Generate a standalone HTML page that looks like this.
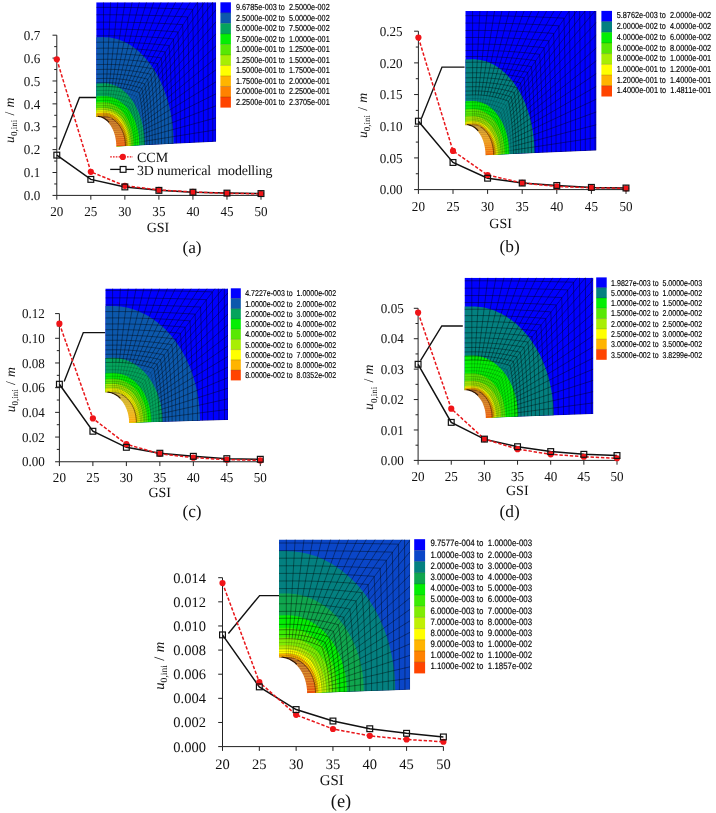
<!DOCTYPE html>
<html><head><meta charset="utf-8"><title>Figure</title>
<style>html,body{margin:0;padding:0;background:#fff}svg{display:block}</style></head><body>
<svg width="716" height="813" viewBox="0 0 716 813" text-rendering="geometricPrecision">
<rect width="716" height="813" fill="#fff"/>
<g>
<text transform="translate(40.2 200.13) scale(0.955 1)" text-anchor="end" font-family='"Liberation Serif", "Times New Roman", serif' font-size="13.7" fill="#111">0.0</text>
<text transform="translate(40.2 177.25) scale(0.955 1)" text-anchor="end" font-family='"Liberation Serif", "Times New Roman", serif' font-size="13.7" fill="#111">0.1</text>
<text transform="translate(40.2 154.36) scale(0.955 1)" text-anchor="end" font-family='"Liberation Serif", "Times New Roman", serif' font-size="13.7" fill="#111">0.2</text>
<text transform="translate(40.2 131.48) scale(0.955 1)" text-anchor="end" font-family='"Liberation Serif", "Times New Roman", serif' font-size="13.7" fill="#111">0.3</text>
<text transform="translate(40.2 108.59) scale(0.955 1)" text-anchor="end" font-family='"Liberation Serif", "Times New Roman", serif' font-size="13.7" fill="#111">0.4</text>
<text transform="translate(40.2 85.71) scale(0.955 1)" text-anchor="end" font-family='"Liberation Serif", "Times New Roman", serif' font-size="13.7" fill="#111">0.5</text>
<text transform="translate(40.2 62.82) scale(0.955 1)" text-anchor="end" font-family='"Liberation Serif", "Times New Roman", serif' font-size="13.7" fill="#111">0.6</text>
<text transform="translate(40.2 39.93) scale(0.955 1)" text-anchor="end" font-family='"Liberation Serif", "Times New Roman", serif' font-size="13.7" fill="#111">0.7</text>
<text transform="translate(56.8 215.5) scale(0.955 1)" text-anchor="middle" font-family='"Liberation Serif", "Times New Roman", serif' font-size="13.7" fill="#111">20</text>
<text transform="translate(90.83 215.5) scale(0.955 1)" text-anchor="middle" font-family='"Liberation Serif", "Times New Roman", serif' font-size="13.7" fill="#111">25</text>
<text transform="translate(124.87 215.5) scale(0.955 1)" text-anchor="middle" font-family='"Liberation Serif", "Times New Roman", serif' font-size="13.7" fill="#111">30</text>
<text transform="translate(158.9 215.5) scale(0.955 1)" text-anchor="middle" font-family='"Liberation Serif", "Times New Roman", serif' font-size="13.7" fill="#111">35</text>
<text transform="translate(192.93 215.5) scale(0.955 1)" text-anchor="middle" font-family='"Liberation Serif", "Times New Roman", serif' font-size="13.7" fill="#111">40</text>
<text transform="translate(226.97 215.5) scale(0.955 1)" text-anchor="middle" font-family='"Liberation Serif", "Times New Roman", serif' font-size="13.7" fill="#111">45</text>
<text transform="translate(261 215.5) scale(0.955 1)" text-anchor="middle" font-family='"Liberation Serif", "Times New Roman", serif' font-size="13.7" fill="#111">50</text>
<path d="M52.5 195.4H56.8M54.2 183.96H56.8M52.5 172.51H56.8M54.2 161.07H56.8M52.5 149.63H56.8M54.2 138.19H56.8M52.5 126.74H56.8M54.2 115.3H56.8M52.5 103.86H56.8M54.2 92.41H56.8M52.5 80.97H56.8M54.2 69.53H56.8M52.5 58.09H56.8M54.2 46.64H56.8M52.5 35.2H56.8M56.8 195.4V199.7M90.83 195.4V199.7M124.87 195.4V199.7M158.9 195.4V199.7M192.93 195.4V199.7M226.97 195.4V199.7M261 195.4V199.7M56.8 35.2V195.4H261" fill="none" stroke="#222" stroke-width="1"/>
<text x="158" y="232.3" text-anchor="middle" font-family='"Liberation Serif", "Times New Roman", serif' font-size="14.04" fill="#111">GSI</text>
<text transform="translate(13.8 120.3) rotate(-90)" text-anchor="middle" font-family='"Liberation Serif", "Times New Roman", serif' font-size="13.7" fill="#111" word-spacing="0.8" xml:space="preserve"><tspan font-style="italic">u</tspan><tspan font-size="9.04" dy="3.6">0,ini</tspan><tspan dy="-3.6"> / </tspan><tspan font-style="italic">m</tspan></text>
<text x="192" y="252.5" text-anchor="middle" font-family='"Liberation Serif", "Times New Roman", serif' font-size="17.33" fill="#111">(a)</text>
<path d="M59 149.82L79.5 97.5H96.2" fill="none" stroke="#111" stroke-width="1.4" stroke-linejoin="miter"/>
<path d="M56.8 155.12L90.83 179.38L124.87 186.93L158.9 190.37L192.93 192.2L226.97 193.11L261 193.57" fill="none" stroke="#111" stroke-width="1.5"/>
<path d="M56.8 59.23L90.83 171.83L124.87 185.79L158.9 189.91L192.93 191.97L226.97 193.34L261 193.8" fill="none" stroke="#e8161a" stroke-width="1.5" stroke-dasharray="3.4 1.8"/>
<circle cx="56.8" cy="59.23" r="3.1" fill="#f01418"/>
<circle cx="90.83" cy="171.83" r="3.1" fill="#f01418"/>
<circle cx="124.87" cy="185.79" r="3.1" fill="#f01418"/>
<circle cx="158.9" cy="189.91" r="3.1" fill="#f01418"/>
<circle cx="192.93" cy="191.97" r="3.1" fill="#f01418"/>
<circle cx="226.97" cy="193.34" r="3.1" fill="#f01418"/>
<circle cx="261" cy="193.8" r="3.1" fill="#f01418"/>
<rect x="53.9" y="152.22" width="5.8" height="5.8" fill="none" stroke="#111" stroke-width="1.2"/>
<rect x="87.93" y="176.48" width="5.8" height="5.8" fill="none" stroke="#111" stroke-width="1.2"/>
<rect x="121.97" y="184.03" width="5.8" height="5.8" fill="none" stroke="#111" stroke-width="1.2"/>
<rect x="156" y="187.47" width="5.8" height="5.8" fill="none" stroke="#111" stroke-width="1.2"/>
<rect x="190.03" y="189.3" width="5.8" height="5.8" fill="none" stroke="#111" stroke-width="1.2"/>
<rect x="224.07" y="190.21" width="5.8" height="5.8" fill="none" stroke="#111" stroke-width="1.2"/>
<rect x="258.1" y="190.67" width="5.8" height="5.8" fill="none" stroke="#111" stroke-width="1.2"/>
<clipPath id="clip0"><polygon points="96.2,147.45 216.1,141.8 216.1,2.3 96.2,2.3"/></clipPath>
<g clip-path="url(#clip0)">
<polygon points="96.2,147.45 216.1,141.8 216.1,2.3 96.2,2.3" fill="#0000ff"/>
<polygon points="96.2,147.45 173.7,143.8 173.66,140.28 173.55,136.78 173.36,133.28 173.1,129.8 172.76,126.33 172.35,122.88 171.87,119.46 171.31,116.07 170.68,112.71 169.97,109.38 169.2,106.09 168.36,102.85 167.44,99.64 166.46,96.49 165.41,93.38 164.29,90.33 163.11,87.34 161.87,84.41 160.56,81.54 159.19,78.74 157.77,76 156.28,73.34 154.74,70.76 153.14,68.25 151.49,65.82 149.79,63.48 148.03,61.22 146.24,59.05 144.39,56.96 142.5,54.98 140.57,53.08 138.6,51.29 136.59,49.59 134.55,47.99 132.47,46.5 130.36,45.11 128.23,43.83 126.07,42.66 123.88,41.59 121.67,40.64 119.44,39.8 117.2,39.07 114.94,38.45 112.66,37.95 110.38,37.57 108.09,37.3 105.8,37.15 103.5,37.12 96.2,37.2" fill="#0c58ac"/>
<polygon points="96.2,147.45 144.7,145.16 144.68,143.1 144.61,141.05 144.5,138.99 144.35,136.95 144.15,134.92 143.91,132.9 143.62,130.89 143.3,128.91 142.93,126.94 142.51,124.99 142.06,123.06 141.56,121.16 141.03,119.29 140.45,117.44 139.84,115.63 139.18,113.85 138.49,112.1 137.76,110.39 136.99,108.71 136.19,107.08 135.35,105.49 134.48,103.94 133.57,102.44 132.63,100.98 131.66,99.57 130.67,98.21 129.64,96.9 128.58,95.64 127.5,94.44 126.39,93.29 125.26,92.2 124.1,91.17 122.92,90.19 121.72,89.28 120.5,88.42 119.27,87.63 118.01,86.9 116.74,86.24 115.46,85.63 114.16,85.1 112.86,84.63 111.54,84.22 110.21,83.88 108.88,83.61 107.54,83.41 106.19,83.27 104.85,83.21 103.5,83.21 96.2,83.4" fill="#04a45c"/>
<polygon points="96.2,147.45 139.4,145.41 139.38,143.77 139.32,142.13 139.23,140.49 139.09,138.86 138.92,137.24 138.71,135.62 138.46,134.03 138.18,132.44 137.85,130.87 137.49,129.31 137.1,127.78 136.67,126.26 136.2,124.77 135.7,123.3 135.16,121.85 134.59,120.43 133.99,119.04 133.35,117.68 132.68,116.35 131.98,115.05 131.25,113.78 130.49,112.55 129.7,111.35 128.89,110.2 128.04,109.08 127.17,108 126.27,106.96 125.35,105.96 124.41,105 123.44,104.1 122.46,103.23 121.45,102.41 120.42,101.64 119.38,100.92 118.32,100.24 117.24,99.62 116.15,99.04 115.04,98.52 113.92,98.04 112.79,97.62 111.65,97.25 110.5,96.94 109.35,96.68 108.19,96.47 107.02,96.31 105.85,96.21 104.67,96.17 103.5,96.18 96.2,96.4" fill="#04ee04"/>
<polygon points="96.2,147.45 133.7,145.68 133.68,144.23 133.64,142.79 133.55,141.35 133.44,139.91 133.3,138.48 133.12,137.07 132.91,135.66 132.67,134.26 132.4,132.88 132.1,131.51 131.76,130.16 131.4,128.82 131.01,127.51 130.59,126.21 130.13,124.94 129.65,123.69 129.15,122.47 128.61,121.27 128.05,120.1 127.46,118.95 126.84,117.84 126.21,116.75 125.54,115.7 124.85,114.68 124.14,113.7 123.41,112.75 122.66,111.83 121.88,110.95 121.09,110.12 120.28,109.32 119.45,108.56 118.6,107.84 117.74,107.16 116.86,106.52 115.96,105.93 115.06,105.38 114.14,104.87 113.21,104.41 112.27,104 111.32,103.63 110.36,103.31 109.39,103.03 108.42,102.8 107.44,102.62 106.46,102.48 105.48,102.39 104.49,102.35 103.5,102.36 96.2,102.6" fill="#58e804"/>
<polygon points="96.2,147.45 131.2,145.8 131.19,144.53 131.14,143.26 131.07,141.99 130.96,140.73 130.83,139.48 130.67,138.23 130.48,137 130.26,135.77 130.01,134.56 129.73,133.36 129.42,132.17 129.09,131 128.73,129.85 128.34,128.71 127.93,127.6 127.49,126.5 127.02,125.43 126.53,124.37 126.02,123.35 125.48,122.34 124.91,121.37 124.33,120.42 123.72,119.49 123.09,118.6 122.44,117.74 121.76,116.91 121.07,116.11 120.36,115.34 119.63,114.6 118.89,113.9 118.13,113.24 117.35,112.61 116.56,112.02 115.75,111.46 114.93,110.94 114.1,110.46 113.26,110.02 112.4,109.62 111.54,109.26 110.67,108.94 109.79,108.66 108.9,108.42 108.01,108.22 107.12,108.06 106.22,107.94 105.31,107.87 104.41,107.84 103.5,107.85 96.2,108.1" fill="#a8ee04"/>
<polygon points="96.2,147.45 129.6,145.88 129.59,144.68 129.54,143.49 129.47,142.31 129.38,141.13 129.25,139.95 129.1,138.79 128.92,137.63 128.71,136.48 128.48,135.34 128.21,134.22 127.93,133.11 127.61,132.01 127.27,130.93 126.91,129.87 126.52,128.82 126.1,127.79 125.66,126.79 125.2,125.8 124.72,124.84 124.21,123.9 123.68,122.99 123.12,122.1 122.55,121.23 121.96,120.4 121.34,119.59 120.71,118.81 120.06,118.06 119.39,117.34 118.7,116.66 118,116 117.28,115.38 116.55,114.79 115.8,114.23 115.04,113.71 114.27,113.23 113.49,112.78 112.69,112.37 111.89,111.99 111.08,111.66 110.26,111.36 109.43,111.09 108.59,110.87 107.75,110.68 106.91,110.54 106.06,110.43 105.21,110.36 104.35,110.33 103.5,110.34 96.2,110.6" fill="#ffff00"/>
<polygon points="96.2,147.45 127.5,145.98 127.49,144.86 127.45,143.75 127.38,142.64 127.29,141.53 127.18,140.43 127.04,139.34 126.87,138.26 126.68,137.19 126.47,136.12 126.23,135.07 125.96,134.03 125.67,133 125.36,131.99 125.02,131 124.67,130.02 124.28,129.06 123.88,128.12 123.46,127.2 123.01,126.3 122.54,125.42 122.05,124.56 121.54,123.73 121.02,122.92 120.47,122.14 119.91,121.38 119.32,120.65 118.73,119.95 118.11,119.28 117.48,118.64 116.83,118.03 116.17,117.44 115.5,116.89 114.81,116.37 114.11,115.89 113.4,115.44 112.68,115.02 111.95,114.63 111.21,114.28 110.47,113.96 109.71,113.68 108.95,113.44 108.18,113.23 107.41,113.06 106.63,112.92 105.85,112.82 105.07,112.75 104.29,112.73 103.5,112.74 96.2,113" fill="#ffb400"/>
<linearGradient id="wg0" gradientUnits="userSpaceOnUse" x1="0" y1="116.9" x2="0" y2="147.45"><stop offset="0" stop-color="#a86028"/><stop offset="0.5" stop-color="#cc7024"/><stop offset="1" stop-color="#ec4c0c"/></linearGradient>
<polygon points="96.2,147.45 125.4,146.07 125.39,145.07 125.35,144.06 125.29,143.06 125.21,142.07 125.11,141.08 124.98,140.09 124.83,139.12 124.65,138.15 124.46,137.19 124.24,136.24 124,135.3 123.73,134.38 123.45,133.46 123.14,132.57 122.81,131.69 122.47,130.82 122.1,129.97 121.71,129.14 121.3,128.33 120.87,127.54 120.43,126.77 119.97,126.02 119.48,125.29 118.99,124.58 118.47,123.9 117.94,123.25 117.39,122.61 116.83,122.01 116.26,121.43 115.67,120.88 115.06,120.35 114.45,119.86 113.82,119.39 113.19,118.96 112.54,118.55 111.88,118.17 111.21,117.82 110.54,117.51 109.86,117.23 109.17,116.97 108.47,116.75 107.77,116.57 107.07,116.41 106.36,116.29 105.65,116.2 104.93,116.14 104.22,116.12 103.5,116.13 96.2,116.4" fill="url(#wg0)"/>
<path d="M144.3 145.18L216.1 141.8M144.28 141.29L216.1 129.79M144.19 137.39L216.1 117.77M144.06 133.51L216.1 105.76M143.87 129.65L216.1 93.75M143.63 125.8L216.1 81.73M143.33 121.97L216.1 69.72M142.98 118.17L216.1 57.71M142.59 114.4L216.1 45.69M142.14 110.66L216.1 33.68M141.65 106.96L216.1 21.67M141.11 103.3L216.1 9.65M140.52 99.69L216.1 -2.36M139.89 96.12L216.1 -14.37M139.23 92.6L216.1 -26.39M136.66 91.69L207.44 -26.47M134.05 90.84L198.78 -26.56M131.4 90.06L190.12 -26.64M128.72 89.35L181.45 -26.72M126 88.72L172.79 -26.81M123.25 88.16L164.13 -26.89M120.48 87.69L155.47 -26.98M117.68 87.29L146.81 -27.06M114.87 86.98L138.15 -27.14M112.04 86.75L129.48 -27.23M109.2 86.61L120.82 -27.31M106.35 86.56L112.16 -27.4M103.5 86.59L103.5 -27.48M144.3 145.18L144.28 141.29L144.19 137.39L144.06 133.51L143.87 129.65L143.63 125.8L143.33 121.97L142.98 118.17L142.59 114.4L142.14 110.66L141.65 106.96L141.11 103.3L140.52 99.69L139.89 96.12L139.23 92.6L136.66 91.69L134.05 90.84L131.4 90.06L128.72 89.35L126 88.72L123.25 88.16L120.48 87.69L117.68 87.29L114.87 86.98L112.04 86.75L109.2 86.61L106.35 86.56L103.5 86.59L96.2 86.79M146.81 145.07L146.78 140.88L146.7 136.7L146.57 132.52L146.39 128.37L146.15 124.23L145.87 120.11L145.53 116.01L145.15 111.95L144.72 107.92L144.24 103.92L143.72 99.96L143.16 96.04L142.55 92.17L141.91 88.35L139.13 87.47L136.31 86.66L133.45 85.91L130.56 85.24L127.63 84.63L124.68 84.1L121.7 83.64L118.7 83.27L115.68 82.97L112.65 82.76L109.61 82.62L106.55 82.58L103.5 82.61L96.2 82.81M149.45 144.94L149.42 140.45L149.34 135.96L149.22 131.49L149.04 127.02L148.82 122.58L148.54 118.15L148.22 113.75L147.85 109.37L147.44 105.03L146.98 100.72L146.48 96.44L145.93 92.21L145.35 88.02L144.73 83.87L141.73 83.04L138.68 82.26L135.61 81.55L132.49 80.91L129.35 80.33L126.18 79.82L122.98 79.39L119.77 79.03L116.54 78.75L113.29 78.55L110.03 78.43L106.77 78.38L103.5 78.42L96.2 78.6M152.22 144.81L152.2 140L152.13 135.19L152 130.39L151.84 125.61L151.62 120.84L151.36 116.09L151.05 111.36L150.7 106.66L150.3 101.99L149.86 97.35L149.38 92.75L148.86 88.18L148.3 83.66L147.71 79.18L144.47 78.38L141.19 77.64L137.88 76.97L134.53 76.35L131.16 75.8L127.76 75.32L124.34 74.91L120.9 74.57L117.44 74.31L113.96 74.12L110.48 74L106.99 73.97L103.5 74.01L96.2 74.18M155.15 144.67L155.12 139.52L155.05 134.38L154.94 129.24L154.78 124.12L154.57 119.01L154.32 113.92L154.03 108.86L153.69 103.81L153.31 98.8L152.89 93.81L152.43 88.86L151.94 83.95L151.4 79.07L150.84 74.24L147.35 73.49L143.82 72.79L140.27 72.15L136.68 71.56L133.07 71.04L129.43 70.59L125.76 70.2L122.08 69.88L118.39 69.63L114.68 69.46L110.96 69.35L107.23 69.32L103.5 69.37L96.2 69.52M158.23 144.53L158.2 139.02L158.14 133.53L158.03 128.04L157.88 122.56L157.68 117.1L157.44 111.65L157.16 106.22L156.84 100.82L156.48 95.45L156.08 90.1L155.65 84.78L155.18 79.5L154.67 74.26L154.13 69.05L150.38 68.34L146.6 67.68L142.79 67.08L138.94 66.53L135.07 66.04L131.18 65.61L127.26 65.25L123.33 64.95L119.38 64.71L115.42 64.55L111.45 64.45L107.48 64.43L103.5 64.47L96.2 64.62M161.47 144.37L161.45 138.5L161.39 132.63L161.28 126.77L161.14 120.92L160.95 115.08L160.73 109.26L160.46 103.46L160.16 97.68L159.82 91.92L159.45 86.19L159.04 80.49L158.59 74.83L158.11 69.19L157.61 63.6L153.58 62.93L149.52 62.32L145.44 61.75L141.32 61.23L137.19 60.78L133.02 60.37L128.84 60.03L124.65 59.75L120.43 59.54L116.21 59.38L111.98 59.3L107.74 59.28L103.5 59.32L96.2 59.46M164.88 144.21L164.86 137.95L164.81 131.69L164.71 125.43L164.57 119.19L164.4 112.96L164.19 106.75L163.94 100.55L163.66 94.37L163.34 88.22L162.99 82.09L162.6 75.99L162.19 69.92L161.74 63.88L161.26 57.87L156.95 57.25L152.6 56.68L148.23 56.15L143.83 55.67L139.41 55.24L134.97 54.87L130.51 54.55L126.03 54.29L121.54 54.09L117.04 53.95L112.53 53.87L108.02 53.85L103.5 53.9L96.2 54.02M168.48 144.04L168.46 137.37L168.41 130.7L168.32 124.03L168.19 117.38L168.03 110.74L167.83 104.11L167.6 97.49L167.34 90.9L167.04 84.33L166.72 77.78L166.36 71.25L165.97 64.76L165.55 58.29L165.11 51.86L160.49 51.28L155.84 50.75L151.17 50.26L146.47 49.82L141.75 49.42L137.02 49.08L132.26 48.78L127.49 48.54L122.71 48.36L117.91 48.23L113.11 48.16L108.31 48.14L103.5 48.18L96.2 48.29M172.26 143.87L172.25 136.76L172.2 129.66L172.12 122.56L172 115.47L171.85 108.4L171.67 101.33L171.46 94.28L171.22 87.25L170.94 80.24L170.64 73.25L170.31 66.28L169.96 59.34L169.57 52.42L169.16 45.54L164.22 45.01L159.26 44.52L154.27 44.07L149.25 43.67L144.22 43.3L139.17 42.99L134.11 42.72L129.03 42.5L123.93 42.33L118.83 42.21L113.73 42.14L108.61 42.13L103.5 42.17L96.2 42.26M176.25 143.68L176.24 136.12L176.19 128.56L176.12 121.02L176.01 113.47L175.88 105.94L175.71 98.42L175.52 90.91L175.3 83.42L175.05 75.95L174.78 68.49L174.48 61.06L174.15 53.65L173.8 46.26L173.43 38.9L168.15 38.43L162.85 37.98L157.53 37.57L152.18 37.2L146.82 36.87L141.44 36.59L136.05 36.34L130.64 36.14L125.23 35.98L119.8 35.87L114.37 35.81L108.94 35.8L103.5 35.83L96.2 35.91M180.45 143.48L180.44 135.45L180.4 127.42L180.33 119.39L180.23 111.37L180.11 103.36L179.97 95.36L179.79 87.37L179.6 79.4L179.38 71.44L179.13 63.5L178.86 55.58L178.57 47.68L178.26 39.8L177.93 31.94L172.29 31.51L166.64 31.11L160.96 30.74L155.27 30.41L149.56 30.11L143.83 29.85L138.09 29.63L132.35 29.45L126.59 29.31L120.82 29.21L115.05 29.15L109.28 29.14L103.5 29.16L96.2 29.23M184.87 143.27L184.86 134.74L184.82 126.21L184.76 117.68L184.68 109.17L184.57 100.65L184.45 92.15L184.3 83.66L184.12 75.18L183.93 66.71L183.71 58.26L183.48 49.82L183.22 41.4L182.95 33L182.66 24.62L176.65 24.24L170.62 23.89L164.58 23.57L158.51 23.27L152.44 23.01L146.35 22.78L140.25 22.58L134.14 22.41L128.02 22.29L121.9 22.19L115.77 22.14L109.63 22.12L103.5 22.14L96.2 22.19M189.52 143.05L189.51 134L189.48 124.95L189.43 115.9L189.36 106.85L189.27 97.81L189.16 88.78L189.03 79.76L188.88 70.75L188.72 61.75L188.53 52.76L188.33 43.79L188.12 34.83L187.88 25.89L187.64 16.96L181.23 16.63L174.81 16.33L168.37 16.04L161.93 15.79L155.47 15.55L148.99 15.35L142.51 15.17L136.02 15.03L129.53 14.91L123.03 14.82L116.52 14.77L110.01 14.75L103.5 14.76L96.2 14.79M194.16 142.83L194.15 133.26L194.13 123.68L194.09 114.11L194.03 104.55L193.96 94.98L193.87 85.43L193.76 75.88L193.64 66.34L193.5 56.81L193.35 47.29L193.19 37.78L193.01 28.28L192.82 18.8L192.61 9.33L185.81 9.04L179 8.78L172.17 8.54L165.34 8.32L158.49 8.11L151.64 7.94L144.78 7.78L137.91 7.65L131.03 7.54L124.15 7.46L117.27 7.41L110.39 7.38L103.5 7.38L96.2 7.39M198.81 142.61L198.8 132.52L198.78 122.43L198.75 112.33L198.7 102.25L198.65 92.16L198.57 82.08L198.49 72.01L198.4 61.94L198.29 51.88L198.17 41.83L198.04 31.78L197.9 21.75L197.75 11.73L197.59 1.71L190.39 1.48L183.19 1.26L175.97 1.05L168.75 0.86L161.52 0.69L154.29 0.54L147.04 0.4L139.79 0.28L132.54 0.18L125.28 0.1L118.02 0.05L110.76 0.01L103.5 -0.01L96.2 -0.01M203.46 142.4L203.45 131.78L203.44 121.17L203.41 110.56L203.38 99.95L203.34 89.35L203.28 78.75L203.22 68.15L203.15 57.56L203.07 46.97L202.99 36.39L202.89 25.81L202.79 15.24L202.68 4.68L202.56 -5.87L194.97 -6.06L187.38 -6.24L179.77 -6.42L172.17 -6.57L164.55 -6.72L156.93 -6.85L149.31 -6.97L141.68 -7.08L134.05 -7.17L126.41 -7.25L118.78 -7.31L111.14 -7.36L103.5 -7.39L96.2 -7.41M208.1 142.18L208.1 131.05L208.09 119.92L208.07 108.79L208.05 97.67L208.03 86.54L207.99 75.42L207.95 64.3L207.91 53.18L207.86 42.07L207.81 30.96L207.75 19.86L207.68 8.76L207.61 -2.34L207.54 -13.43L199.55 -13.58L191.57 -13.73L183.57 -13.86L175.58 -13.99L167.58 -14.11L159.58 -14.23L151.57 -14.33L143.56 -14.43L135.55 -14.52L127.54 -14.59L119.53 -14.66L111.51 -14.72L103.5 -14.77L96.2 -14.81M212.75 141.96L212.75 130.31L212.74 118.67L212.74 107.03L212.73 95.39L212.72 83.75L212.7 72.1L212.69 60.47L212.67 48.83L212.65 37.19L212.62 25.56L212.6 13.92L212.57 2.29L212.54 -9.34L212.51 -20.97L204.13 -21.08L195.76 -21.19L187.37 -21.29L178.99 -21.39L170.61 -21.49L162.22 -21.59L153.84 -21.68L145.45 -21.77L137.06 -21.85L128.67 -21.94L120.28 -22.01L111.89 -22.09L103.5 -22.15L96.2 -22.21M216.1 141.8L216.1 129.79L216.1 117.77L216.1 105.76L216.1 93.75L216.1 81.73L216.1 69.72L216.1 57.71L216.1 45.69L216.1 33.68L216.1 21.67L216.1 9.65L216.1 -2.36L216.1 -14.37L216.1 -26.39L207.44 -26.47L198.78 -26.56L190.12 -26.64L181.45 -26.72L172.79 -26.81L164.13 -26.89L155.47 -26.98L146.81 -27.06L138.15 -27.14L129.48 -27.23L120.82 -27.31L112.16 -27.4L103.5 -27.48L96.2 -27.55" fill="none" stroke="#000" stroke-opacity="0.66" stroke-width="0.6"/>
<path d="M125.4 146.07L144.3 145.18M125.37 144.38L144.28 141.29M125.26 142.69L144.19 137.39M125.09 141.02L144.06 133.51M124.85 139.37L143.87 129.65M124.54 137.73L143.63 125.8M124.17 136.13L143.33 121.97M123.73 134.57L142.98 118.17M123.23 133.04L142.59 114.4M122.67 131.55L142.14 110.66M122.04 130.11L141.65 106.96M121.36 128.73L141.11 103.3M120.62 127.4L140.52 99.69M119.83 126.14L139.89 96.12M118.99 124.93L139.23 92.6M118.02 123.72L136.66 91.69M117.01 122.58L134.05 90.84M115.94 121.54L131.4 90.06M114.83 120.59L128.72 89.35M113.68 119.73L126 88.72M112.49 118.97L123.25 88.16M111.27 118.32L120.48 87.69M110.02 117.76L117.68 87.29M108.74 117.32L114.87 86.98M107.45 116.98L112.04 86.75M106.14 116.75L109.2 86.61M104.82 116.63L106.35 86.56M103.5 116.63L103.5 86.59M125.4 146.07L125.37 144.38L125.26 142.69L125.09 141.02L124.85 139.37L124.54 137.73L124.17 136.13L123.73 134.57L123.23 133.04L122.67 131.55L122.04 130.11L121.36 128.73L120.62 127.4L119.83 126.14L118.99 124.93L118.02 123.72L117.01 122.58L115.94 121.54L114.83 120.59L113.68 119.73L112.49 118.97L111.27 118.32L110.02 117.76L108.74 117.32L107.45 116.98L106.14 116.75L104.82 116.63L103.5 116.63L96.2 116.9M126.09 146.04L126.06 144.27L125.95 142.5L125.78 140.74L125.55 139.01L125.24 137.3L124.87 135.61L124.44 133.96L123.94 132.35L123.38 130.78L122.76 129.26L122.08 127.8L121.35 126.38L120.56 125.03L119.73 123.75L118.7 122.54L117.63 121.42L116.51 120.38L115.34 119.44L114.13 118.59L112.88 117.84L111.6 117.19L110.3 116.65L108.96 116.21L107.62 115.87L106.25 115.65L104.88 115.54L103.5 115.53L96.2 115.8M126.86 146.01L126.83 144.14L126.73 142.28L126.56 140.43L126.32 138.61L126.02 136.81L125.66 135.03L125.22 133.29L124.73 131.59L124.18 129.93L123.56 128.31L122.89 126.75L122.16 125.24L121.38 123.8L120.55 122.41L119.47 121.22L118.33 120.11L117.14 119.09L115.91 118.16L114.63 117.32L113.32 116.58L111.98 115.94L110.61 115.4L109.22 114.96L107.8 114.64L106.38 114.42L104.94 114.3L103.5 114.3L96.2 114.57M127.73 145.96L127.7 144L127.6 142.04L127.43 140.09L127.2 138.16L126.9 136.26L126.53 134.38L126.11 132.53L125.62 130.73L125.07 128.96L124.46 127.25L123.8 125.58L123.08 123.97L122.3 122.41L121.48 120.92L120.32 119.75L119.11 118.65L117.85 117.64L116.54 116.72L115.2 115.89L113.82 115.16L112.4 114.53L110.96 114L109.5 113.57L108.01 113.25L106.52 113.03L105.01 112.93L103.5 112.93L96.2 113.19M128.7 145.92L128.67 143.84L128.57 141.76L128.4 139.7L128.17 137.66L127.88 135.64L127.52 133.65L127.09 131.69L126.61 129.77L126.07 127.89L125.47 126.05L124.81 124.27L124.1 122.54L123.33 120.87L122.52 119.26L121.28 118.1L119.98 117.02L118.64 116.02L117.25 115.11L115.83 114.3L114.37 113.58L112.87 112.95L111.35 112.43L109.81 112.01L108.25 111.7L106.67 111.48L105.09 111.38L103.5 111.38L96.2 111.64M129.79 145.87L129.76 143.66L129.66 141.46L129.49 139.27L129.27 137.1L128.97 134.95L128.62 132.83L128.2 130.74L127.72 128.69L127.19 126.68L126.59 124.72L125.94 122.8L125.24 120.94L124.49 119.13L123.68 117.39L122.35 116.25L120.96 115.18L119.53 114.2L118.05 113.31L116.54 112.51L114.99 111.8L113.4 111.19L111.8 110.68L110.16 110.26L108.51 109.96L106.85 109.75L105.18 109.65L103.5 109.66L96.2 109.91M131.01 145.81L130.97 143.46L130.88 141.12L130.71 138.78L130.49 136.47L130.2 134.18L129.85 131.92L129.44 129.68L128.97 127.49L128.44 125.33L127.86 123.22L127.22 121.16L126.52 119.15L125.78 117.19L124.99 115.3L123.55 114.18L122.06 113.13L120.52 112.17L118.95 111.3L117.33 110.51L115.68 109.81L114 109.21L112.29 108.71L110.56 108.31L108.81 108.01L107.05 107.81L105.28 107.71L103.5 107.72L96.2 107.97M132.37 145.75L132.34 143.24L132.24 140.73L132.08 138.24L131.86 135.77L131.58 133.32L131.23 130.89L130.83 128.5L130.37 126.14L129.85 123.82L129.27 121.55L128.64 119.32L127.96 117.15L127.23 115.03L126.45 112.97L124.89 111.86L123.29 110.84L121.64 109.9L119.95 109.04L118.22 108.27L116.46 107.59L114.66 107L112.84 106.51L111 106.12L109.14 105.83L107.27 105.64L105.39 105.54L103.5 105.56L96.2 105.8M133.9 145.67L133.86 142.99L133.77 140.3L133.61 137.64L133.4 134.98L133.12 132.35L132.78 129.75L132.38 127.17L131.93 124.63L131.42 122.13L130.85 119.68L130.23 117.26L129.56 114.9L128.85 112.6L128.08 110.35L126.4 109.27L124.67 108.27L122.89 107.35L121.07 106.52L119.21 105.76L117.33 105.1L115.41 104.53L113.46 104.05L111.5 103.67L109.51 103.39L107.52 103.2L105.51 103.12L103.5 103.13L96.2 103.37M135.61 145.59L135.57 142.71L135.48 139.82L135.33 136.96L135.12 134.1L134.85 131.27L134.51 128.47L134.13 125.69L133.68 122.95L133.18 120.24L132.63 117.58L132.02 114.96L131.37 112.4L130.66 109.88L129.91 107.42L128.08 106.38L126.21 105.4L124.29 104.51L122.33 103.69L120.33 102.96L118.3 102.31L116.24 101.76L114.16 101.29L112.05 100.92L109.93 100.65L107.79 100.47L105.65 100.39L103.5 100.41L96.2 100.65M137.52 145.5L137.49 142.39L137.4 139.29L137.25 136.2L137.05 133.12L136.78 130.07L136.46 127.03L136.08 124.03L135.64 121.06L135.15 118.13L134.61 115.24L134.02 112.39L133.38 109.59L132.69 106.84L131.96 104.15L129.97 103.13L127.93 102.19L125.85 101.32L123.73 100.53L121.58 99.82L119.39 99.19L117.17 98.66L114.93 98.21L112.67 97.85L110.39 97.59L108.1 97.42L105.8 97.35L103.5 97.37L96.2 97.6M139.67 145.4L139.64 142.04L139.55 138.69L139.41 135.35L139.2 132.02L138.94 128.71L138.63 125.43L138.26 122.18L137.84 118.95L137.36 115.77L136.84 112.62L136.26 109.51L135.64 106.45L134.97 103.45L134.26 100.49L132.09 99.51L129.87 98.59L127.61 97.75L125.31 96.99L122.98 96.3L120.61 95.7L118.22 95.18L115.8 94.75L113.37 94.41L110.91 94.16L108.45 94L105.98 93.94L103.5 93.96L96.2 94.18M141.92 145.3L141.9 141.67L141.81 138.06L141.67 134.45L141.48 130.86L141.22 127.29L140.92 123.74L140.56 120.22L140.15 116.73L139.69 113.28L139.18 109.86L138.62 106.49L138.02 103.16L137.37 99.87L136.68 96.64L134.31 95.7L131.9 94.81L129.45 94L126.97 93.27L124.45 92.61L121.9 92.03L119.32 91.53L116.72 91.12L114.1 90.79L111.46 90.55L108.81 90.4L106.16 90.34L103.5 90.37L96.2 90.58" fill="none" stroke="#000" stroke-opacity="0.34" stroke-width="0.5"/>
<path d="M116.25 144.34L125.34 143.92M116.09 142.18L125.18 141.76M115.83 140.02L124.89 139.61M115.46 137.87L124.49 137.47M114.97 135.72L123.96 135.33M114.36 133.58L123.29 133.2M113.61 131.44L122.47 131.07M112.7 129.31L121.47 128.95M111.6 127.18L120.28 126.83M110.27 125.07L118.83 124.72M108.63 122.96L117.05 122.63M106.55 120.86L114.78 120.55M103.66 118.8L111.63 118.5" fill="none" stroke="#ffd040" stroke-opacity="0.6" stroke-width="0.7"/>
<path d="M125.4 146.07L125.37 144.59L125.29 143.11L125.16 141.64L124.98 140.19L124.74 138.75L124.46 137.33L124.12 135.94L123.73 134.57L123.3 133.23L122.81 131.92L122.28 130.65L121.71 129.42L121.09 128.23L120.43 127.08L119.73 125.98L118.99 124.93L118.21 123.94L117.39 123L116.55 122.12L115.67 121.29L114.76 120.53L113.82 119.83L112.86 119.2L111.88 118.63" fill="none" stroke="#401800" stroke-opacity="0.55" stroke-width="0.9"/>
<path d="M108.57 122.03L107.77 121.2L106.93 120.43L106.08 119.73L105.19 119.09L104.29 118.52L103.37 118.02L102.43 117.58L101.48 117.22L100.52 116.93L99.55 116.71L98.57 116.56" fill="none" stroke="#180800" stroke-opacity="0.85" stroke-width="1.5" stroke-linecap="round"/>
</g>
<polygon points="95.2,148.95 116.3,148.95 116.3,146.5 116.28,145.31 116.24,144.12 116.16,142.94 116.05,141.77 115.91,140.6 115.74,139.44 115.55,138.3 115.32,137.17 115.06,136.05 114.77,134.95 114.45,133.88 114.11,132.82 113.74,131.78 113.34,130.77 112.91,129.78 112.46,128.82 111.98,127.89 111.48,126.99 110.96,126.12 110.41,125.28 109.84,124.47 109.25,123.7 108.64,122.97 108.01,122.27 107.37,121.61 106.7,121 106.02,120.42 105.33,119.88 104.62,119.39 103.89,118.93 103.16,118.53 102.41,118.16 101.66,117.84 100.89,117.57 100.12,117.34 99.34,117.16 98.56,117.02 97.78,116.94 96.99,116.89 96.2,116.9 95.2,116.9" fill="#fff"/>
<rect x="220.4" y="2.3" width="10.5" height="10.62" fill="#0000ff"/>
<text x="236" y="10.32" font-family='"Liberation Sans", Arial, sans-serif' font-size="8.7" fill="#000" stroke="#000" stroke-width="0.15" text-rendering="geometricPrecision" textLength="93.7" lengthAdjust="spacingAndGlyphs" xml:space="preserve">9.6785e-003 to  2.5000e-002</text>
<rect x="220.4" y="12.82" width="10.5" height="10.62" fill="#0c58ac"/>
<line x1="220.4" y1="12.82" x2="230.9" y2="12.82" stroke="#000" stroke-opacity="0.35" stroke-width="0.5"/>
<text x="236" y="20.84" font-family='"Liberation Sans", Arial, sans-serif' font-size="8.7" fill="#000" stroke="#000" stroke-width="0.15" text-rendering="geometricPrecision" textLength="93.7" lengthAdjust="spacingAndGlyphs" xml:space="preserve">2.5000e-002 to  5.0000e-002</text>
<rect x="220.4" y="23.34" width="10.5" height="10.62" fill="#04a45c"/>
<line x1="220.4" y1="23.34" x2="230.9" y2="23.34" stroke="#000" stroke-opacity="0.35" stroke-width="0.5"/>
<text x="236" y="31.36" font-family='"Liberation Sans", Arial, sans-serif' font-size="8.7" fill="#000" stroke="#000" stroke-width="0.15" text-rendering="geometricPrecision" textLength="93.7" lengthAdjust="spacingAndGlyphs" xml:space="preserve">5.0000e-002 to  7.5000e-002</text>
<rect x="220.4" y="33.86" width="10.5" height="10.62" fill="#04ee04"/>
<line x1="220.4" y1="33.86" x2="230.9" y2="33.86" stroke="#000" stroke-opacity="0.35" stroke-width="0.5"/>
<text x="236" y="41.88" font-family='"Liberation Sans", Arial, sans-serif' font-size="8.7" fill="#000" stroke="#000" stroke-width="0.15" text-rendering="geometricPrecision" textLength="93.7" lengthAdjust="spacingAndGlyphs" xml:space="preserve">7.5000e-002 to  1.0000e-001</text>
<rect x="220.4" y="44.38" width="10.5" height="10.62" fill="#58e804"/>
<line x1="220.4" y1="44.38" x2="230.9" y2="44.38" stroke="#000" stroke-opacity="0.35" stroke-width="0.5"/>
<text x="236" y="52.4" font-family='"Liberation Sans", Arial, sans-serif' font-size="8.7" fill="#000" stroke="#000" stroke-width="0.15" text-rendering="geometricPrecision" textLength="93.7" lengthAdjust="spacingAndGlyphs" xml:space="preserve">1.0000e-001 to  1.2500e-001</text>
<rect x="220.4" y="54.9" width="10.5" height="10.62" fill="#a8ee04"/>
<line x1="220.4" y1="54.9" x2="230.9" y2="54.9" stroke="#000" stroke-opacity="0.35" stroke-width="0.5"/>
<text x="236" y="62.92" font-family='"Liberation Sans", Arial, sans-serif' font-size="8.7" fill="#000" stroke="#000" stroke-width="0.15" text-rendering="geometricPrecision" textLength="93.7" lengthAdjust="spacingAndGlyphs" xml:space="preserve">1.2500e-001 to  1.5000e-001</text>
<rect x="220.4" y="65.42" width="10.5" height="10.62" fill="#ffff00"/>
<line x1="220.4" y1="65.42" x2="230.9" y2="65.42" stroke="#000" stroke-opacity="0.35" stroke-width="0.5"/>
<text x="236" y="73.44" font-family='"Liberation Sans", Arial, sans-serif' font-size="8.7" fill="#000" stroke="#000" stroke-width="0.15" text-rendering="geometricPrecision" textLength="93.7" lengthAdjust="spacingAndGlyphs" xml:space="preserve">1.5000e-001 to  1.7500e-001</text>
<rect x="220.4" y="75.94" width="10.5" height="10.62" fill="#ffb400"/>
<line x1="220.4" y1="75.94" x2="230.9" y2="75.94" stroke="#000" stroke-opacity="0.35" stroke-width="0.5"/>
<text x="236" y="83.96" font-family='"Liberation Sans", Arial, sans-serif' font-size="8.7" fill="#000" stroke="#000" stroke-width="0.15" text-rendering="geometricPrecision" textLength="93.7" lengthAdjust="spacingAndGlyphs" xml:space="preserve">1.7500e-001 to  2.0000e-001</text>
<rect x="220.4" y="86.46" width="10.5" height="10.62" fill="#ff8200"/>
<line x1="220.4" y1="86.46" x2="230.9" y2="86.46" stroke="#000" stroke-opacity="0.35" stroke-width="0.5"/>
<text x="236" y="94.48" font-family='"Liberation Sans", Arial, sans-serif' font-size="8.7" fill="#000" stroke="#000" stroke-width="0.15" text-rendering="geometricPrecision" textLength="93.7" lengthAdjust="spacingAndGlyphs" xml:space="preserve">2.0000e-001 to  2.2500e-001</text>
<rect x="220.4" y="96.98" width="10.5" height="10.62" fill="#ff4400"/>
<line x1="220.4" y1="96.98" x2="230.9" y2="96.98" stroke="#000" stroke-opacity="0.35" stroke-width="0.5"/>
<text x="236" y="105" font-family='"Liberation Sans", Arial, sans-serif' font-size="8.7" fill="#000" stroke="#000" stroke-width="0.15" text-rendering="geometricPrecision" textLength="93.7" lengthAdjust="spacingAndGlyphs" xml:space="preserve">2.2500e-001 to  2.3705e-001</text>
</g>
<g>
<text transform="translate(402.6 194.33) scale(0.955 1)" text-anchor="end" font-family='"Liberation Serif", "Times New Roman", serif' font-size="13.7" fill="#111">0.00</text>
<text transform="translate(402.6 162.65) scale(0.955 1)" text-anchor="end" font-family='"Liberation Serif", "Times New Roman", serif' font-size="13.7" fill="#111">0.05</text>
<text transform="translate(402.6 130.97) scale(0.955 1)" text-anchor="end" font-family='"Liberation Serif", "Times New Roman", serif' font-size="13.7" fill="#111">0.10</text>
<text transform="translate(402.6 99.29) scale(0.955 1)" text-anchor="end" font-family='"Liberation Serif", "Times New Roman", serif' font-size="13.7" fill="#111">0.15</text>
<text transform="translate(402.6 67.61) scale(0.955 1)" text-anchor="end" font-family='"Liberation Serif", "Times New Roman", serif' font-size="13.7" fill="#111">0.20</text>
<text transform="translate(402.6 35.93) scale(0.955 1)" text-anchor="end" font-family='"Liberation Serif", "Times New Roman", serif' font-size="13.7" fill="#111">0.25</text>
<text transform="translate(418.4 211.3) scale(0.955 1)" text-anchor="middle" font-family='"Liberation Serif", "Times New Roman", serif' font-size="13.7" fill="#111">20</text>
<text transform="translate(453 211.3) scale(0.955 1)" text-anchor="middle" font-family='"Liberation Serif", "Times New Roman", serif' font-size="13.7" fill="#111">25</text>
<text transform="translate(487.6 211.3) scale(0.955 1)" text-anchor="middle" font-family='"Liberation Serif", "Times New Roman", serif' font-size="13.7" fill="#111">30</text>
<text transform="translate(522.2 211.3) scale(0.955 1)" text-anchor="middle" font-family='"Liberation Serif", "Times New Roman", serif' font-size="13.7" fill="#111">35</text>
<text transform="translate(556.8 211.3) scale(0.955 1)" text-anchor="middle" font-family='"Liberation Serif", "Times New Roman", serif' font-size="13.7" fill="#111">40</text>
<text transform="translate(591.4 211.3) scale(0.955 1)" text-anchor="middle" font-family='"Liberation Serif", "Times New Roman", serif' font-size="13.7" fill="#111">45</text>
<text transform="translate(626 211.3) scale(0.955 1)" text-anchor="middle" font-family='"Liberation Serif", "Times New Roman", serif' font-size="13.7" fill="#111">50</text>
<path d="M414.1 189.6H418.4M415.8 173.76H418.4M414.1 157.92H418.4M415.8 142.08H418.4M414.1 126.24H418.4M415.8 110.4H418.4M414.1 94.56H418.4M415.8 78.72H418.4M414.1 62.88H418.4M415.8 47.04H418.4M414.1 31.2H418.4M418.4 189.6V193.9M453 189.6V193.9M487.6 189.6V193.9M522.2 189.6V193.9M556.8 189.6V193.9M591.4 189.6V193.9M626 189.6V193.9M418.4 31.2V189.6H626" fill="none" stroke="#222" stroke-width="1"/>
<text x="500.6" y="227.8" text-anchor="middle" font-family='"Liberation Serif", "Times New Roman", serif' font-size="14.04" fill="#111">GSI</text>
<text transform="translate(366.8 115.4) rotate(-90)" text-anchor="middle" font-family='"Liberation Serif", "Times New Roman", serif' font-size="13.7" fill="#111" word-spacing="0.8" xml:space="preserve"><tspan font-style="italic">u</tspan><tspan font-size="9.04" dy="3.6">0,ini</tspan><tspan dy="-3.6"> / </tspan><tspan font-style="italic">m</tspan></text>
<text x="509.6" y="252.3" text-anchor="middle" font-family='"Liberation Serif", "Times New Roman", serif' font-size="17.33" fill="#111">(b)</text>
<path d="M421.6 117.97L442 67.1H464.6" fill="none" stroke="#111" stroke-width="1.4" stroke-linejoin="miter"/>
<path d="M418.4 121.17L453 162.48L487.6 178.2L522.2 183.07L556.8 185.48L591.4 187.38L626 188.02" fill="none" stroke="#111" stroke-width="1.5"/>
<path d="M418.4 37.54L453 150.95L487.6 175.03L522.2 182.95L556.8 186.43L591.4 187.83L626 188.33" fill="none" stroke="#e8161a" stroke-width="1.5" stroke-dasharray="3.4 1.8"/>
<circle cx="418.4" cy="37.54" r="3.1" fill="#f01418"/>
<circle cx="453" cy="150.95" r="3.1" fill="#f01418"/>
<circle cx="487.6" cy="175.03" r="3.1" fill="#f01418"/>
<circle cx="522.2" cy="182.95" r="3.1" fill="#f01418"/>
<circle cx="556.8" cy="186.43" r="3.1" fill="#f01418"/>
<circle cx="591.4" cy="187.83" r="3.1" fill="#f01418"/>
<circle cx="626" cy="188.33" r="3.1" fill="#f01418"/>
<rect x="415.5" y="118.27" width="5.8" height="5.8" fill="none" stroke="#111" stroke-width="1.2"/>
<rect x="450.1" y="159.58" width="5.8" height="5.8" fill="none" stroke="#111" stroke-width="1.2"/>
<rect x="484.7" y="175.3" width="5.8" height="5.8" fill="none" stroke="#111" stroke-width="1.2"/>
<rect x="519.3" y="180.17" width="5.8" height="5.8" fill="none" stroke="#111" stroke-width="1.2"/>
<rect x="553.9" y="182.58" width="5.8" height="5.8" fill="none" stroke="#111" stroke-width="1.2"/>
<rect x="588.5" y="184.48" width="5.8" height="5.8" fill="none" stroke="#111" stroke-width="1.2"/>
<rect x="623.1" y="185.12" width="5.8" height="5.8" fill="none" stroke="#111" stroke-width="1.2"/>
<clipPath id="clip1"><polygon points="465.3,156.07 596.4,150.4 596.4,10.9 465.3,10.9"/></clipPath>
<g clip-path="url(#clip1)">
<polygon points="465.3,156.07 596.4,150.4 596.4,10.9 465.3,10.9" fill="#0000ff"/>
<polygon points="465.3,156.07 534.5,153.08 534.47,149.98 534.37,146.89 534.2,143.81 533.97,140.74 533.67,137.69 533.31,134.65 532.88,131.64 532.39,128.65 531.83,125.69 531.21,122.76 530.53,119.86 529.79,117 528.98,114.18 528.12,111.4 527.19,108.66 526.21,105.98 525.17,103.34 524.07,100.76 522.92,98.24 521.71,95.77 520.45,93.37 519.14,91.02 517.78,88.75 516.37,86.55 514.91,84.41 513.41,82.35 511.87,80.37 510.28,78.46 508.66,76.63 506.99,74.89 505.29,73.23 503.55,71.65 501.78,70.16 499.98,68.77 498.15,67.46 496.29,66.24 494.4,65.12 492.5,64.1 490.57,63.17 488.62,62.33 486.66,61.6 484.68,60.97 482.68,60.43 480.68,60 478.67,59.67 476.65,59.44 474.63,59.32 472.6,59.29 465.3,59.4" fill="#048080"/>
<polygon points="465.3,156.07 509.3,154.17 509.28,152.4 509.22,150.64 509.12,148.88 508.99,147.12 508.81,145.38 508.59,143.65 508.34,141.93 508.05,140.23 507.72,138.54 507.35,136.87 506.95,135.22 506.51,133.59 506.03,131.98 505.52,130.4 504.97,128.84 504.38,127.31 503.77,125.82 503.11,124.35 502.43,122.91 501.72,121.51 500.97,120.15 500.19,118.82 499.39,117.54 498.55,116.29 497.69,115.08 496.8,113.92 495.88,112.8 494.94,111.72 493.98,110.69 492.99,109.71 491.98,108.77 490.95,107.89 489.9,107.06 488.83,106.27 487.75,105.54 486.64,104.87 485.53,104.24 484.4,103.68 483.25,103.16 482.1,102.7 480.93,102.3 479.76,101.96 478.58,101.67 477.39,101.44 476.2,101.27 475,101.16 473.8,101.1 472.6,101.1 465.3,101.3" fill="#04ee04"/>
<polygon points="465.3,156.07 504.8,154.36 504.78,152.85 504.73,151.34 504.64,149.84 504.52,148.34 504.37,146.85 504.18,145.37 503.96,143.9 503.7,142.44 503.41,141 503.09,139.57 502.74,138.16 502.35,136.77 501.93,135.39 501.48,134.04 501,132.71 500.49,131.41 499.94,130.13 499.37,128.88 498.77,127.65 498.15,126.46 497.49,125.29 496.81,124.16 496.1,123.06 495.37,121.99 494.61,120.96 493.83,119.97 493.03,119.02 492.2,118.1 491.36,117.22 490.49,116.38 489.6,115.59 488.7,114.84 487.78,114.13 486.84,113.46 485.89,112.84 484.92,112.26 483.94,111.73 482.95,111.25 481.95,110.82 480.93,110.43 479.91,110.09 478.88,109.8 477.85,109.55 476.8,109.36 475.76,109.22 474.71,109.12 473.65,109.08 472.6,109.09 465.3,109.3" fill="#58e804"/>
<polygon points="465.3,156.07 500.6,154.54 500.59,153.26 500.54,151.99 500.47,150.71 500.36,149.44 500.23,148.18 500.06,146.93 499.87,145.68 499.65,144.45 499.39,143.23 499.11,142.02 498.81,140.82 498.47,139.64 498.1,138.48 497.71,137.34 497.29,136.21 496.85,135.11 496.38,134.02 495.88,132.96 495.36,131.93 494.81,130.92 494.24,129.93 493.65,128.97 493.04,128.04 492.4,127.14 491.74,126.27 491.06,125.43 490.36,124.63 489.65,123.85 488.91,123.11 488.16,122.4 487.39,121.73 486.6,121.1 485.8,120.5 484.98,119.94 484.16,119.41 483.32,118.93 482.46,118.48 481.6,118.08 480.73,117.71 479.85,117.38 478.96,117.1 478.06,116.86 477.16,116.65 476.25,116.49 475.34,116.37 474.43,116.3 473.52,116.26 472.6,116.27 465.3,116.5" fill="#a8ee04"/>
<polygon points="465.3,156.07 497.8,154.66 497.79,153.54 497.75,152.42 497.68,151.3 497.58,150.19 497.46,149.09 497.32,147.99 497.14,146.89 496.94,145.81 496.71,144.74 496.46,143.68 496.18,142.63 495.88,141.6 495.55,140.58 495.2,139.58 494.82,138.59 494.42,137.63 494,136.68 493.55,135.75 493.08,134.84 492.59,133.96 492.08,133.09 491.55,132.25 490.99,131.44 490.42,130.65 489.83,129.89 489.22,129.16 488.59,128.45 487.94,127.77 487.28,127.12 486.6,126.5 485.91,125.92 485.2,125.36 484.48,124.84 483.75,124.35 483,123.89 482.24,123.47 481.48,123.08 480.7,122.72 479.92,122.41 479.12,122.12 478.32,121.87 477.52,121.66 476.7,121.49 475.89,121.35 475.07,121.24 474.25,121.18 473.42,121.15 472.6,121.16 465.3,121.4" fill="#ffff00"/>
<polygon points="465.3,156.07 495.7,154.76 495.69,153.71 495.65,152.66 495.59,151.62 495.5,150.58 495.39,149.54 495.26,148.52 495.1,147.5 494.91,146.49 494.71,145.48 494.47,144.49 494.22,143.52 493.94,142.55 493.64,141.6 493.32,140.66 492.97,139.74 492.61,138.84 492.22,137.95 491.81,137.08 491.38,136.23 490.93,135.41 490.46,134.6 489.97,133.82 489.46,133.06 488.93,132.32 488.39,131.61 487.83,130.92 487.25,130.26 486.66,129.63 486.06,129.02 485.43,128.45 484.8,127.9 484.15,127.38 483.49,126.89 482.82,126.43 482.13,126.01 481.44,125.61 480.74,125.25 480.03,124.92 479.31,124.62 478.58,124.35 477.85,124.12 477.11,123.92 476.36,123.76 475.62,123.63 474.86,123.53 474.11,123.47 473.36,123.45 472.6,123.45 465.3,123.7" fill="#ffb400"/>
<linearGradient id="wg1" gradientUnits="userSpaceOnUse" x1="0" y1="125.2" x2="0" y2="156.07"><stop offset="0" stop-color="#b89038"/><stop offset="0.5" stop-color="#e89820"/><stop offset="1" stop-color="#f06008"/></linearGradient>
<polygon points="465.3,156.07 493.6,154.85 493.59,153.83 493.56,152.81 493.5,151.8 493.42,150.79 493.32,149.79 493.2,148.79 493.05,147.81 492.88,146.82 492.7,145.85 492.49,144.89 492.25,143.94 492,143.01 491.73,142.08 491.43,141.17 491.12,140.28 490.79,139.4 490.43,138.54 490.06,137.7 489.67,136.88 489.26,136.07 488.83,135.29 488.39,134.53 487.93,133.79 487.45,133.08 486.96,132.39 486.45,131.72 485.92,131.08 485.38,130.46 484.83,129.87 484.27,129.31 483.69,128.78 483.1,128.28 482.5,127.8 481.89,127.36 481.27,126.94 480.64,126.56 480,126.2 479.35,125.88 478.7,125.59 478.04,125.33 477.37,125.11 476.7,124.91 476.02,124.75 475.34,124.63 474.66,124.53 473.97,124.47 473.29,124.45 472.6,124.45 465.3,124.7" fill="url(#wg1)"/>
<path d="M513.45 153.99L596.4 150.4M513.42 150.07L596.4 137.58M513.34 146.16L596.4 124.76M513.21 142.27L596.4 111.93M513.02 138.38L596.4 99.11M512.79 134.52L596.4 86.29M512.5 130.68L596.4 73.47M512.16 126.86L596.4 60.65M511.77 123.08L596.4 47.83M511.33 119.33L596.4 35M510.85 115.62L596.4 22.18M510.32 111.94L596.4 9.36M509.75 108.32L596.4 -3.46M509.14 104.74L596.4 -16.28M508.48 101.21L596.4 -29.1M505.9 100.26L586.88 -29.22M503.28 99.38L577.35 -29.34M500.61 98.57L567.83 -29.46M497.91 97.83L558.31 -29.58M495.18 97.17L548.78 -29.69M492.43 96.59L539.26 -29.81M489.64 96.09L529.74 -29.93M486.83 95.67L520.22 -30.05M484.01 95.34L510.69 -30.17M481.17 95.1L501.17 -30.29M478.32 94.95L491.65 -30.4M475.46 94.88L482.12 -30.52M472.6 94.91L472.6 -30.64M513.45 153.99L513.42 150.07L513.34 146.16L513.21 142.27L513.02 138.38L512.79 134.52L512.5 130.68L512.16 126.86L511.77 123.08L511.33 119.33L510.85 115.62L510.32 111.94L509.75 108.32L509.14 104.74L508.48 101.21L505.9 100.26L503.28 99.38L500.61 98.57L497.91 97.83L495.18 97.17L492.43 96.59L489.64 96.09L486.83 95.67L484.01 95.34L481.17 95.1L478.32 94.95L475.46 94.88L472.6 94.91L465.3 95.09M516.08 153.87L516.05 149.67L515.97 145.47L515.85 141.28L515.67 137.11L515.44 132.95L515.16 128.82L514.83 124.71L514.45 120.63L514.03 116.59L513.56 112.58L513.05 108.61L512.5 104.68L511.9 100.8L511.27 96.97L508.47 96.06L505.62 95.21L502.74 94.43L499.83 93.72L496.88 93.09L493.91 92.53L490.91 92.05L487.89 91.65L484.86 91.33L481.8 91.1L478.74 90.96L475.67 90.9L472.6 90.93L465.3 91.11M518.85 153.75L518.82 149.25L518.75 144.74L518.62 140.25L518.45 135.77L518.23 131.31L517.96 126.87L517.64 122.45L517.28 118.06L516.87 113.71L516.42 109.39L515.92 105.11L515.39 100.86L514.82 96.67L514.21 92.52L511.17 91.64L508.1 90.83L504.99 90.08L501.85 89.4L498.67 88.79L495.47 88.26L492.25 87.8L489.01 87.42L485.75 87.11L482.47 86.9L479.19 86.76L475.9 86.71L472.6 86.74L465.3 86.9M521.76 153.63L521.74 148.8L521.67 143.98L521.55 139.16L521.38 134.36L521.17 129.58L520.91 124.82L520.6 120.08L520.25 115.36L519.86 110.68L519.43 106.03L518.95 101.42L518.44 96.85L517.88 92.32L517.3 87.84L514.02 87L510.7 86.22L507.35 85.5L503.97 84.85L500.56 84.27L497.12 83.76L493.66 83.32L490.18 82.96L486.68 82.67L483.18 82.47L479.66 82.34L476.13 82.29L472.6 82.33L465.3 82.48M524.83 153.5L524.81 148.33L524.74 143.17L524.63 138.02L524.47 132.88L524.26 127.76L524.01 122.66L523.72 117.58L523.39 112.52L523.01 107.5L522.59 102.51L522.14 97.55L521.64 92.63L521.11 87.75L520.55 82.91L517.01 82.11L513.44 81.37L509.84 80.69L506.2 80.07L502.54 79.52L498.85 79.03L495.14 78.61L491.42 78.27L487.67 78L483.92 77.8L480.15 77.68L476.38 77.64L472.6 77.68L465.3 77.82M528.07 153.36L528.04 147.84L527.98 142.32L527.87 136.82L527.72 131.33L527.52 125.85L527.28 120.39L527 114.95L526.68 109.54L526.32 104.16L525.93 98.8L525.49 93.48L525.02 88.19L524.52 82.95L523.98 77.74L520.17 76.98L516.33 76.28L512.46 75.63L508.56 75.04L504.63 74.52L500.68 74.06L496.71 73.66L492.72 73.34L488.71 73.08L484.69 72.9L480.67 72.79L476.64 72.75L472.6 72.79L465.3 72.92M531.47 153.21L531.45 147.32L531.39 141.43L531.28 135.56L531.14 129.69L530.95 123.84L530.73 118.01L530.46 112.2L530.16 106.41L529.82 100.64L529.44 94.91L529.02 89.2L528.58 83.53L528.1 77.9L527.59 72.31L523.49 71.59L519.37 70.92L515.22 70.31L511.04 69.76L506.83 69.26L502.6 68.82L498.35 68.45L494.09 68.14L489.81 67.9L485.52 67.73L481.22 67.63L476.91 67.6L472.6 67.63L465.3 67.76M535.06 153.05L535.04 146.77L534.98 140.5L534.88 134.23L534.74 127.97L534.57 121.73L534.35 115.5L534.1 109.3L533.82 103.11L533.49 96.95L533.14 90.81L532.74 84.71L532.32 78.64L531.87 72.6L531.39 66.6L526.99 65.92L522.57 65.29L518.12 64.72L513.65 64.2L509.15 63.73L504.63 63.32L500.09 62.97L495.53 62.68L490.96 62.46L486.38 62.3L481.79 62.2L477.2 62.17L472.6 62.21L465.3 62.32M538.83 152.89L538.81 146.2L538.76 139.52L538.66 132.84L538.54 126.17L538.37 119.51L538.17 112.87L537.94 106.25L537.67 99.65L537.36 93.07L537.03 86.51L536.66 79.99L536.27 73.49L535.84 67.03L535.39 60.6L530.68 59.97L525.94 59.38L521.18 58.84L516.39 58.35L511.59 57.92L506.76 57.53L501.91 57.21L497.05 56.94L492.17 56.72L487.29 56.57L482.4 56.48L477.5 56.46L472.6 56.49L465.3 56.59M542.81 152.72L542.79 145.6L542.74 138.48L542.65 131.37L542.53 124.27L542.38 117.18L542.19 110.11L541.97 103.05L541.72 96.01L541.44 88.99L541.13 82L540.79 75.03L540.42 68.09L540.02 61.17L539.6 54.29L534.56 53.71L529.49 53.16L524.4 52.66L519.29 52.21L514.15 51.8L509 51.45L503.83 51.14L498.65 50.89L493.45 50.69L488.25 50.55L483.04 50.47L477.82 50.44L472.6 50.48L465.3 50.56M546.99 152.54L546.98 144.96L546.93 137.4L546.85 129.83L546.74 122.28L546.6 114.74L546.43 107.2L546.22 99.69L545.99 92.19L545.73 84.71L545.44 77.25L545.13 69.82L544.79 62.41L544.42 55.03L544.04 47.68L538.65 47.14L533.23 46.63L527.79 46.17L522.34 45.75L516.86 45.38L511.36 45.05L505.86 44.76L500.33 44.53L494.8 44.35L489.26 44.22L483.71 44.14L478.16 44.11L472.6 44.14L465.3 44.21M551.4 152.35L551.39 144.3L551.34 136.26L551.27 128.22L551.17 120.19L551.04 112.16L550.88 104.15L550.7 96.16L550.49 88.18L550.25 80.22L549.99 72.27L549.7 64.35L549.39 56.45L549.06 48.57L548.71 40.73L542.95 40.23L537.17 39.77L531.37 39.35L525.55 38.96L519.71 38.62L513.85 38.32L507.99 38.06L502.11 37.84L496.22 37.67L490.32 37.55L484.42 37.47L478.51 37.45L472.6 37.47L465.3 37.53M556.04 152.15L556.03 143.6L555.99 135.06L555.92 126.52L555.83 117.99L555.72 109.46L555.58 100.95L555.41 92.45L555.22 83.96L555.01 75.49L554.78 67.04L554.52 58.61L554.24 50.19L553.94 41.8L553.63 33.43L547.48 32.98L541.31 32.57L535.13 32.18L528.92 31.83L522.71 31.52L516.47 31.24L510.23 31L503.97 30.8L497.71 30.65L491.44 30.53L485.16 30.46L478.88 30.43L472.6 30.45L465.3 30.49M560.92 151.93L560.91 142.87L560.87 133.8L560.82 124.74L560.74 115.68L560.64 106.63L560.51 97.59L560.37 88.57L560.2 79.55L560.02 70.55L559.81 61.56L559.58 52.59L559.34 43.63L559.08 34.7L558.8 25.78L552.24 25.38L545.67 25.01L539.08 24.66L532.48 24.35L525.86 24.07L519.23 23.82L512.59 23.6L505.94 23.42L499.28 23.27L492.62 23.16L485.95 23.09L479.27 23.06L472.6 23.06L465.3 23.09M565.8 151.72L565.79 142.13L565.76 132.55L565.71 122.96L565.64 113.38L565.55 103.81L565.45 94.25L565.32 84.69L565.18 75.15L565.02 65.61L564.84 56.09L564.64 46.58L564.43 37.09L564.21 27.62L563.97 18.16L557 17.81L550.03 17.47L543.03 17.17L536.03 16.88L529.01 16.63L521.98 16.4L514.95 16.21L507.9 16.04L500.85 15.9L493.79 15.8L486.73 15.72L479.67 15.68L472.6 15.68L465.3 15.69M570.68 151.51L570.67 141.4L570.64 131.3L570.6 121.19L570.54 111.09L570.47 101L570.38 90.91L570.28 80.83L570.16 70.76L570.02 60.69L569.87 50.64L569.71 40.6L569.53 30.57L569.34 20.56L569.14 10.56L561.77 10.25L554.38 9.96L546.99 9.69L539.58 9.44L532.16 9.21L524.74 9L517.3 8.82L509.86 8.67L502.42 8.54L494.97 8.44L487.51 8.36L480.06 8.31L472.6 8.29L465.3 8.29M575.56 151.3L575.55 140.67L575.53 130.05L575.5 119.43L575.45 108.81L575.39 98.19L575.32 87.58L575.23 76.98L575.13 66.38L575.02 55.79L574.9 45.21L574.77 34.64L574.63 24.08L574.47 13.53L574.31 2.99L566.53 2.72L558.74 2.46L550.94 2.22L543.13 2L535.32 1.8L527.49 1.61L519.66 1.45L511.83 1.31L503.99 1.18L496.14 1.08L488.3 1L480.45 0.94L472.6 0.91L465.3 0.89M580.43 151.09L580.43 139.95L580.41 128.8L580.39 117.66L580.35 106.53L580.31 95.39L580.25 84.26L580.19 73.14L580.11 62.02L580.03 50.9L579.93 39.79L579.83 28.69L579.72 17.6L579.6 6.51L579.48 -4.56L571.29 -4.79L563.1 -5.01L554.89 -5.22L546.68 -5.42L538.47 -5.6L530.25 -5.76L522.02 -5.91L513.79 -6.05L505.56 -6.17L497.32 -6.27L489.08 -6.35L480.84 -6.42L472.6 -6.47L465.3 -6.51M585.31 150.88L585.31 139.22L585.3 127.56L585.28 115.91L585.26 104.25L585.22 92.6L585.19 80.95L585.14 69.31L585.09 57.66L585.03 46.03L584.97 34.39L584.89 22.76L584.82 11.14L584.74 -0.48L584.65 -12.09L576.05 -12.28L567.45 -12.47L558.85 -12.65L550.24 -12.82L541.62 -12.98L533 -13.12L524.38 -13.26L515.75 -13.39L507.13 -13.51L498.5 -13.61L489.86 -13.71L481.23 -13.79L472.6 -13.86L465.3 -13.91M590.19 150.67L590.19 138.5L590.18 126.33L590.17 114.16L590.16 101.99L590.14 89.82L590.12 77.65L590.09 65.49L590.07 53.33L590.03 41.17L590 29.01L589.96 16.85L589.91 4.7L589.87 -7.45L589.82 -19.59L580.82 -19.75L571.81 -19.91L562.8 -20.06L553.79 -20.2L544.77 -20.34L535.76 -20.48L526.74 -20.6L517.72 -20.73L508.7 -20.84L499.67 -20.95L490.65 -21.06L481.62 -21.15L472.6 -21.24L465.3 -21.31M595.07 150.46L595.07 137.78L595.07 125.09L595.07 112.41L595.06 99.73L595.06 87.05L595.05 74.36L595.05 61.68L595.04 49L595.04 36.32L595.03 23.64L595.02 10.96L595.01 -1.71L595 -14.39L594.99 -27.07L585.58 -27.2L576.17 -27.32L566.75 -27.45L557.34 -27.57L547.92 -27.69L538.51 -27.81L529.1 -27.93L519.68 -28.05L510.26 -28.17L500.85 -28.29L491.43 -28.4L482.02 -28.51L472.6 -28.63L465.3 -28.71M596.4 150.4L596.4 137.58L596.4 124.76L596.4 111.93L596.4 99.11L596.4 86.29L596.4 73.47L596.4 60.65L596.4 47.83L596.4 35L596.4 22.18L596.4 9.36L596.4 -3.46L596.4 -16.28L596.4 -29.1L586.88 -29.22L577.35 -29.34L567.83 -29.46L558.31 -29.58L548.78 -29.69L539.26 -29.81L529.74 -29.93L520.22 -30.05L510.69 -30.17L501.17 -30.29L491.65 -30.4L482.12 -30.52L472.6 -30.64L465.3 -30.73" fill="none" stroke="#000" stroke-opacity="0.66" stroke-width="0.6"/>
<path d="M493.6 154.85L513.45 153.99M493.57 153.13L513.42 150.07M493.47 151.42L513.34 146.16M493.3 149.73L513.21 142.27M493.07 148.06L513.02 138.38M492.78 146.41L512.79 134.52M492.42 144.78L512.5 130.68M492 143.2L512.16 126.86M491.52 141.65L511.77 123.08M490.98 140.14L511.33 119.33M490.38 138.68L510.85 115.62M489.73 137.28L510.32 111.94M489.02 135.93L509.75 108.32M488.26 134.65L509.14 104.74M487.45 133.43L508.48 101.21M486.53 132.19L505.9 100.26M485.55 131.04L503.28 99.38M484.53 129.98L500.61 98.57M483.46 129.01L497.91 97.83M482.36 128.14L495.18 97.17M481.22 127.36L492.43 96.59M480.05 126.7L489.64 96.09M478.85 126.13L486.83 95.67M477.63 125.67L484.01 95.34M476.39 125.33L481.17 95.1M475.13 125.09L478.32 94.95M473.87 124.96L475.46 94.88M472.6 124.95L472.6 94.91M493.6 154.85L493.57 153.13L493.47 151.42L493.3 149.73L493.07 148.06L492.78 146.41L492.42 144.78L492 143.2L491.52 141.65L490.98 140.14L490.38 138.68L489.73 137.28L489.02 135.93L488.26 134.65L487.45 133.43L486.53 132.19L485.55 131.04L484.53 129.98L483.46 129.01L482.36 128.14L481.22 127.36L480.05 126.7L478.85 126.13L477.63 125.67L476.39 125.33L475.13 125.09L473.87 124.96L472.6 124.95L465.3 125.2M494.33 154.81L494.29 153.02L494.19 151.23L494.03 149.46L493.8 147.7L493.51 145.97L493.16 144.27L492.74 142.6L492.26 140.96L491.72 139.38L491.13 137.84L490.48 136.35L489.78 134.92L489.02 133.55L488.22 132.24L487.23 131.02L486.2 129.88L485.12 128.83L483.99 127.87L482.83 127L481.63 126.24L480.4 125.57L479.14 125.02L477.86 124.56L476.56 124.22L475.25 123.99L473.93 123.86L472.6 123.85L465.3 124.1M495.14 154.78L495.1 152.89L495.01 151.02L494.85 149.15L494.62 147.3L494.33 145.48L493.98 143.69L493.56 141.92L493.09 140.2L492.56 138.52L491.97 136.89L491.32 135.31L490.62 133.78L489.88 132.32L489.08 130.92L488.03 129.71L486.92 128.58L485.78 127.53L484.58 126.59L483.35 125.73L482.09 124.97L480.79 124.32L479.47 123.77L478.12 123.32L476.76 122.98L475.38 122.75L473.99 122.63L472.6 122.62L465.3 122.87M496.05 154.74L496.01 152.75L495.92 150.77L495.76 148.81L495.53 146.86L495.25 144.93L494.9 143.04L494.49 141.17L494.02 139.35L493.49 137.56L492.9 135.83L492.27 134.14L491.57 132.51L490.83 130.94L490.04 129.43L488.91 128.24L487.74 127.12L486.51 126.09L485.25 125.15L483.94 124.31L482.6 123.56L481.23 122.91L479.83 122.37L478.41 121.93L476.98 121.6L475.52 121.37L474.06 121.25L472.6 121.25L465.3 121.49M497.07 154.7L497.03 152.6L496.94 150.5L496.78 148.42L496.56 146.36L496.27 144.32L495.93 142.31L495.52 140.33L495.06 138.39L494.53 136.49L493.96 134.64L493.32 132.83L492.64 131.09L491.9 129.4L491.12 127.77L489.91 126.59L488.65 125.49L487.34 124.47L485.99 123.55L484.6 122.71L483.18 121.98L481.72 121.34L480.24 120.8L478.74 120.37L477.22 120.04L475.69 119.82L474.15 119.71L472.6 119.71L465.3 119.94M498.21 154.65L498.18 152.42L498.08 150.2L497.92 147.99L497.7 145.8L497.42 143.63L497.08 141.5L496.68 139.39L496.22 137.32L495.7 135.29L495.13 133.3L494.51 131.37L493.83 129.49L493.1 127.67L492.33 125.91L491.02 124.75L489.67 123.66L488.26 122.66L486.82 121.75L485.34 120.93L483.82 120.2L482.27 119.58L480.7 119.05L479.11 118.62L477.5 118.3L475.87 118.09L474.24 117.98L472.6 117.98L465.3 118.21M499.49 154.59L499.45 152.22L499.36 149.86L499.21 147.51L498.99 145.18L498.71 142.87L498.37 140.58L497.98 138.33L497.52 136.12L497.01 133.94L496.45 131.82L495.83 129.74L495.17 127.71L494.45 125.74L493.69 123.83L492.27 122.69L490.81 121.62L489.3 120.63L487.75 119.74L486.16 118.93L484.54 118.22L482.89 117.6L481.22 117.09L479.52 116.67L477.8 116.36L476.08 116.15L474.34 116.04L472.6 116.04L465.3 116.27M500.92 154.53L500.89 152L500.79 149.48L500.64 146.97L500.43 144.48L500.15 142.01L499.82 139.57L499.43 137.15L498.98 134.78L498.48 132.44L497.93 130.15L497.32 127.9L496.66 125.71L495.96 123.58L495.2 121.51L493.67 120.38L492.08 119.33L490.46 118.37L488.79 117.49L487.09 116.7L485.35 116L483.58 115.39L481.79 114.89L479.98 114.48L478.15 114.17L476.31 113.97L474.46 113.87L472.6 113.88L465.3 114.1M502.52 154.46L502.49 151.75L502.4 149.05L502.25 146.37L502.04 143.7L501.77 141.05L501.44 138.42L501.06 135.83L500.62 133.27L500.13 130.76L499.58 128.28L498.98 125.86L498.34 123.48L497.64 121.16L496.9 118.9L495.23 117.8L493.52 116.77L491.76 115.83L489.96 114.97L488.12 114.19L486.25 113.51L484.36 112.92L482.44 112.43L480.49 112.03L478.54 111.73L476.56 111.54L474.58 111.44L472.6 111.45L465.3 111.67M504.32 154.38L504.29 151.48L504.2 148.58L504.05 145.69L503.84 142.82L503.58 139.97L503.26 137.15L502.88 134.35L502.45 131.6L501.97 128.87L501.43 126.2L500.85 123.56L500.21 120.98L499.53 118.46L498.81 115.99L496.99 114.91L495.12 113.91L493.21 112.99L491.27 112.15L489.28 111.39L487.27 110.73L485.23 110.15L483.16 109.67L481.07 109.29L478.97 109L476.85 108.81L474.73 108.72L472.6 108.73L465.3 108.95M506.33 154.3L506.3 151.17L506.21 148.05L506.07 144.94L505.86 141.84L505.61 138.77L505.29 135.72L504.93 132.7L504.5 129.72L504.03 126.77L503.51 123.86L502.93 121L502.31 118.19L501.65 115.43L500.94 112.73L498.95 111.68L496.92 110.7L494.84 109.81L492.73 108.99L490.58 108.26L488.4 107.61L486.2 107.05L483.97 106.59L481.72 106.21L479.45 105.94L477.18 105.76L474.89 105.67L472.6 105.69L465.3 105.9M508.58 154.2L508.55 150.82L508.47 147.45L508.33 144.09L508.13 140.75L507.88 137.42L507.57 134.12L507.21 130.85L506.8 127.61L506.34 124.41L505.83 121.25L505.27 118.13L504.66 115.06L504.02 112.04L503.32 109.08L501.15 108.06L498.93 107.12L496.67 106.25L494.37 105.46L492.04 104.75L489.68 104.12L487.29 103.58L484.88 103.13L482.44 102.77L480 102.51L477.54 102.34L475.07 102.26L472.6 102.28L465.3 102.48M510.95 154.1L510.92 150.46L510.84 146.82L510.7 143.2L510.51 139.6L510.27 136.01L509.97 132.44L509.62 128.91L509.22 125.4L508.77 121.93L508.27 118.5L507.73 115.12L507.14 111.77L506.51 108.48L505.84 105.24L503.46 104.26L501.05 103.35L498.59 102.51L496.1 101.74L493.57 101.06L491.02 100.45L488.43 99.93L485.83 99.5L483.21 99.15L480.57 98.9L477.92 98.74L475.26 98.67L472.6 98.69L465.3 98.88" fill="none" stroke="#000" stroke-opacity="0.34" stroke-width="0.5"/>
<path d="M485.45 153.01L493.55 152.66M485.29 150.82L493.38 150.48M485.03 148.64L493.11 148.31M484.66 146.46L492.72 146.14M484.17 144.29L492.22 143.97M483.55 142.12L491.57 141.81M482.79 139.96L490.79 139.65M481.88 137.8L489.83 137.5M480.77 135.65L488.69 135.35M479.44 133.5L487.3 133.21M477.8 131.36L485.59 131.08M475.7 129.24L483.42 128.97M472.8 127.14L480.39 126.88" fill="none" stroke="#ffd040" stroke-opacity="0.6" stroke-width="0.7"/>
<path d="M493.6 154.85L493.57 153.35L493.5 151.85L493.37 150.36L493.2 148.89L492.97 147.43L492.7 146L492.37 144.58L492 143.2L491.58 141.84L491.12 140.51L490.61 139.22L490.06 137.98L489.47 136.77L488.83 135.61L488.16 134.49L487.45 133.43L486.7 132.42L485.92 131.46L485.11 130.56L484.27 129.73L483.4 128.95L482.5 128.24L481.58 127.6L480.64 127.02" fill="none" stroke="#401800" stroke-opacity="0.55" stroke-width="0.9"/>
<path d="M477.73 130.43L476.92 129.59L476.08 128.81L475.22 128.1L474.34 127.45L473.43 126.87L472.51 126.36L471.56 125.91L470.61 125.54L469.64 125.25L468.66 125.02L467.68 124.87" fill="none" stroke="#180800" stroke-opacity="0.85" stroke-width="1.5" stroke-linecap="round"/>
</g>
<polygon points="464.3,157.57 485.5,157.57 485.5,155.2 485.48,153.99 485.44,152.79 485.36,151.6 485.25,150.41 485.11,149.23 484.94,148.06 484.74,146.9 484.51,145.75 484.25,144.63 483.96,143.52 483.64,142.42 483.3,141.35 482.92,140.3 482.52,139.28 482.1,138.28 481.64,137.31 481.16,136.36 480.66,135.45 480.13,134.57 479.58,133.72 479.01,132.9 478.42,132.12 477.81,131.38 477.17,130.67 476.52,130 475.85,129.38 475.17,128.79 474.47,128.24 473.76,127.74 473.03,127.28 472.29,126.87 471.54,126.5 470.78,126.17 470.02,125.89 469.24,125.66 468.46,125.47 467.67,125.33 466.88,125.24 466.09,125.2 465.3,125.2 464.3,125.2" fill="#fff"/>
<rect x="601.4" y="10.9" width="10.6" height="10.79" fill="#0000ff"/>
<text x="616.7" y="18.46" font-family='"Liberation Sans", Arial, sans-serif' font-size="8.7" fill="#000" stroke="#000" stroke-width="0.15" text-rendering="geometricPrecision" textLength="94.4" lengthAdjust="spacingAndGlyphs" xml:space="preserve">5.8762e-003 to  2.0000e-002</text>
<rect x="601.4" y="21.59" width="10.6" height="10.79" fill="#048080"/>
<line x1="601.4" y1="21.59" x2="612" y2="21.59" stroke="#000" stroke-opacity="0.35" stroke-width="0.5"/>
<text x="616.7" y="29.15" font-family='"Liberation Sans", Arial, sans-serif' font-size="8.7" fill="#000" stroke="#000" stroke-width="0.15" text-rendering="geometricPrecision" textLength="94.4" lengthAdjust="spacingAndGlyphs" xml:space="preserve">2.0000e-002 to  4.0000e-002</text>
<rect x="601.4" y="32.27" width="10.6" height="10.79" fill="#04ee04"/>
<line x1="601.4" y1="32.27" x2="612" y2="32.27" stroke="#000" stroke-opacity="0.35" stroke-width="0.5"/>
<text x="616.7" y="39.83" font-family='"Liberation Sans", Arial, sans-serif' font-size="8.7" fill="#000" stroke="#000" stroke-width="0.15" text-rendering="geometricPrecision" textLength="94.4" lengthAdjust="spacingAndGlyphs" xml:space="preserve">4.0000e-002 to  6.0000e-002</text>
<rect x="601.4" y="42.96" width="10.6" height="10.79" fill="#58e804"/>
<line x1="601.4" y1="42.96" x2="612" y2="42.96" stroke="#000" stroke-opacity="0.35" stroke-width="0.5"/>
<text x="616.7" y="50.52" font-family='"Liberation Sans", Arial, sans-serif' font-size="8.7" fill="#000" stroke="#000" stroke-width="0.15" text-rendering="geometricPrecision" textLength="94.4" lengthAdjust="spacingAndGlyphs" xml:space="preserve">6.0000e-002 to  8.0000e-002</text>
<rect x="601.4" y="53.65" width="10.6" height="10.79" fill="#a8ee04"/>
<line x1="601.4" y1="53.65" x2="612" y2="53.65" stroke="#000" stroke-opacity="0.35" stroke-width="0.5"/>
<text x="616.7" y="61.21" font-family='"Liberation Sans", Arial, sans-serif' font-size="8.7" fill="#000" stroke="#000" stroke-width="0.15" text-rendering="geometricPrecision" textLength="94.4" lengthAdjust="spacingAndGlyphs" xml:space="preserve">8.0000e-002 to  1.0000e-001</text>
<rect x="601.4" y="64.34" width="10.6" height="10.79" fill="#ffff00"/>
<line x1="601.4" y1="64.34" x2="612" y2="64.34" stroke="#000" stroke-opacity="0.35" stroke-width="0.5"/>
<text x="616.7" y="71.9" font-family='"Liberation Sans", Arial, sans-serif' font-size="8.7" fill="#000" stroke="#000" stroke-width="0.15" text-rendering="geometricPrecision" textLength="94.4" lengthAdjust="spacingAndGlyphs" xml:space="preserve">1.0000e-001 to  1.2000e-001</text>
<rect x="601.4" y="75.03" width="10.6" height="10.79" fill="#ffb400"/>
<line x1="601.4" y1="75.03" x2="612" y2="75.03" stroke="#000" stroke-opacity="0.35" stroke-width="0.5"/>
<text x="616.7" y="82.58" font-family='"Liberation Sans", Arial, sans-serif' font-size="8.7" fill="#000" stroke="#000" stroke-width="0.15" text-rendering="geometricPrecision" textLength="94.4" lengthAdjust="spacingAndGlyphs" xml:space="preserve">1.2000e-001 to  1.4000e-001</text>
<rect x="601.4" y="85.71" width="10.6" height="10.79" fill="#ff4400"/>
<line x1="601.4" y1="85.71" x2="612" y2="85.71" stroke="#000" stroke-opacity="0.35" stroke-width="0.5"/>
<text x="616.7" y="93.27" font-family='"Liberation Sans", Arial, sans-serif' font-size="8.7" fill="#000" stroke="#000" stroke-width="0.15" text-rendering="geometricPrecision" textLength="94.4" lengthAdjust="spacingAndGlyphs" xml:space="preserve">1.4000e-001 to  1.4811e-001</text>
</g>
<g>
<text transform="translate(44.9 466.48) scale(0.955 1)" text-anchor="end" font-family='"Liberation Serif", "Times New Roman", serif' font-size="13.7" fill="#111">0.00</text>
<text transform="translate(44.9 441.79) scale(0.955 1)" text-anchor="end" font-family='"Liberation Serif", "Times New Roman", serif' font-size="13.7" fill="#111">0.02</text>
<text transform="translate(44.9 417.1) scale(0.955 1)" text-anchor="end" font-family='"Liberation Serif", "Times New Roman", serif' font-size="13.7" fill="#111">0.04</text>
<text transform="translate(44.9 392.41) scale(0.955 1)" text-anchor="end" font-family='"Liberation Serif", "Times New Roman", serif' font-size="13.7" fill="#111">0.06</text>
<text transform="translate(44.9 367.72) scale(0.955 1)" text-anchor="end" font-family='"Liberation Serif", "Times New Roman", serif' font-size="13.7" fill="#111">0.08</text>
<text transform="translate(44.9 343.03) scale(0.955 1)" text-anchor="end" font-family='"Liberation Serif", "Times New Roman", serif' font-size="13.7" fill="#111">0.10</text>
<text transform="translate(44.9 318.33) scale(0.955 1)" text-anchor="end" font-family='"Liberation Serif", "Times New Roman", serif' font-size="13.7" fill="#111">0.12</text>
<text transform="translate(59.4 482.3) scale(0.955 1)" text-anchor="middle" font-family='"Liberation Serif", "Times New Roman", serif' font-size="13.7" fill="#111">20</text>
<text transform="translate(92.88 482.3) scale(0.955 1)" text-anchor="middle" font-family='"Liberation Serif", "Times New Roman", serif' font-size="13.7" fill="#111">25</text>
<text transform="translate(126.37 482.3) scale(0.955 1)" text-anchor="middle" font-family='"Liberation Serif", "Times New Roman", serif' font-size="13.7" fill="#111">30</text>
<text transform="translate(159.85 482.3) scale(0.955 1)" text-anchor="middle" font-family='"Liberation Serif", "Times New Roman", serif' font-size="13.7" fill="#111">35</text>
<text transform="translate(193.33 482.3) scale(0.955 1)" text-anchor="middle" font-family='"Liberation Serif", "Times New Roman", serif' font-size="13.7" fill="#111">40</text>
<text transform="translate(226.82 482.3) scale(0.955 1)" text-anchor="middle" font-family='"Liberation Serif", "Times New Roman", serif' font-size="13.7" fill="#111">45</text>
<text transform="translate(260.3 482.3) scale(0.955 1)" text-anchor="middle" font-family='"Liberation Serif", "Times New Roman", serif' font-size="13.7" fill="#111">50</text>
<path d="M55.1 461.75H59.4M56.8 449.4H59.4M55.1 437.06H59.4M56.8 424.71H59.4M55.1 412.37H59.4M56.8 400.02H59.4M55.1 387.68H59.4M56.8 375.33H59.4M55.1 362.98H59.4M56.8 350.64H59.4M55.1 338.29H59.4M56.8 325.95H59.4M55.1 313.6H59.4M59.4 461.75V466.05M92.88 461.75V466.05M126.37 461.75V466.05M159.85 461.75V466.05M193.33 461.75V466.05M226.82 461.75V466.05M260.3 461.75V466.05M59.4 313.6V461.75H260.3" fill="none" stroke="#222" stroke-width="1"/>
<text x="159.7" y="496.8" text-anchor="middle" font-family='"Liberation Serif", "Times New Roman", serif' font-size="14.04" fill="#111">GSI</text>
<text transform="translate(14.5 389.7) rotate(-90)" text-anchor="middle" font-family='"Liberation Serif", "Times New Roman", serif' font-size="13.7" fill="#111" word-spacing="0.8" xml:space="preserve"><tspan font-style="italic">u</tspan><tspan font-size="9.04" dy="3.6">0,ini</tspan><tspan dy="-3.6"> / </tspan><tspan font-style="italic">m</tspan></text>
<text x="192" y="517" text-anchor="middle" font-family='"Liberation Serif", "Times New Roman", serif' font-size="17.33" fill="#111">(c)</text>
<path d="M64.2 381.62L83.3 332.6H105.3" fill="none" stroke="#111" stroke-width="1.4" stroke-linejoin="miter"/>
<path d="M59.4 384.22L92.88 431.26L126.37 447.31L159.85 453.23L193.33 456.32L226.82 458.66L260.3 459.28" fill="none" stroke="#111" stroke-width="1.5"/>
<path d="M59.4 323.72L92.88 418.42L126.37 444.22L159.85 453.85L193.33 457.68L226.82 459.65L260.3 460.39" fill="none" stroke="#e8161a" stroke-width="1.5" stroke-dasharray="3.4 1.8"/>
<circle cx="59.4" cy="323.72" r="3.1" fill="#f01418"/>
<circle cx="92.88" cy="418.42" r="3.1" fill="#f01418"/>
<circle cx="126.37" cy="444.22" r="3.1" fill="#f01418"/>
<circle cx="159.85" cy="453.85" r="3.1" fill="#f01418"/>
<circle cx="193.33" cy="457.68" r="3.1" fill="#f01418"/>
<circle cx="226.82" cy="459.65" r="3.1" fill="#f01418"/>
<circle cx="260.3" cy="460.39" r="3.1" fill="#f01418"/>
<rect x="56.5" y="381.32" width="5.8" height="5.8" fill="none" stroke="#111" stroke-width="1.2"/>
<rect x="89.98" y="428.36" width="5.8" height="5.8" fill="none" stroke="#111" stroke-width="1.2"/>
<rect x="123.47" y="444.41" width="5.8" height="5.8" fill="none" stroke="#111" stroke-width="1.2"/>
<rect x="156.95" y="450.33" width="5.8" height="5.8" fill="none" stroke="#111" stroke-width="1.2"/>
<rect x="190.43" y="453.42" width="5.8" height="5.8" fill="none" stroke="#111" stroke-width="1.2"/>
<rect x="223.92" y="455.76" width="5.8" height="5.8" fill="none" stroke="#111" stroke-width="1.2"/>
<rect x="257.4" y="456.38" width="5.8" height="5.8" fill="none" stroke="#111" stroke-width="1.2"/>
<clipPath id="clip2"><polygon points="105.3,423.6 228,420 228,288.4 105.3,288.4"/></clipPath>
<g clip-path="url(#clip2)">
<polygon points="105.3,423.6 228,420 228,288.4 105.3,288.4" fill="#0000ff"/>
<polygon points="105.3,423.6 200,420.82 199.95,417.06 199.81,413.3 199.58,409.55 199.25,405.82 198.83,402.1 198.32,398.41 197.72,394.74 197.02,391.1 196.24,387.5 195.36,383.93 194.4,380.4 193.35,376.91 192.21,373.47 190.99,370.08 189.68,366.75 188.29,363.47 186.82,360.26 185.27,357.11 183.64,354.02 181.94,351.01 180.16,348.07 178.31,345.21 176.39,342.43 174.4,339.73 172.35,337.12 170.23,334.6 168.05,332.17 165.81,329.83 163.51,327.59 161.16,325.45 158.75,323.41 156.3,321.47 153.8,319.64 151.26,317.92 148.67,316.31 146.05,314.81 143.39,313.42 140.69,312.15 137.97,311 135.22,309.96 132.45,309.05 129.65,308.25 126.84,307.58 124.01,307.03 121.17,306.6 118.32,306.3 115.46,306.12 112.6,306.07 105.3,306.1" fill="#0c58ac"/>
<polygon points="105.3,423.6 162.5,421.92 162.47,419.8 162.39,417.68 162.26,415.57 162.07,413.46 161.83,411.37 161.54,409.29 161.2,407.22 160.8,405.17 160.35,403.14 159.85,401.13 159.3,399.14 158.7,397.18 158.05,395.25 157.35,393.34 156.61,391.47 155.81,389.63 154.98,387.82 154.09,386.05 153.16,384.32 152.19,382.64 151.17,380.99 150.12,379.39 149.02,377.83 147.88,376.32 146.71,374.86 145.5,373.46 144.26,372.1 142.98,370.8 141.67,369.55 140.32,368.36 138.95,367.23 137.55,366.15 136.12,365.14 134.67,364.19 133.19,363.3 131.7,362.47 130.18,361.71 128.64,361.02 127.09,360.39 125.52,359.82 123.93,359.33 122.34,358.9 120.73,358.54 119.11,358.25 117.49,358.03 115.86,357.88 114.23,357.8 112.6,357.79 105.3,357.9" fill="#04a45c"/>
<polygon points="105.3,423.6 151.3,422.25 151.28,420.62 151.22,418.99 151.11,417.36 150.97,415.75 150.78,414.14 150.56,412.54 150.29,410.95 149.98,409.37 149.63,407.81 149.25,406.26 148.82,404.74 148.35,403.23 147.85,401.74 147.31,400.28 146.73,398.84 146.12,397.43 145.46,396.04 144.78,394.68 144.06,393.35 143.3,392.06 142.52,390.79 141.7,389.56 140.85,388.37 139.97,387.21 139.06,386.09 138.12,385.01 137.15,383.98 136.16,382.98 135.14,382.02 134.1,381.11 133.04,380.24 131.95,379.42 130.84,378.65 129.72,377.92 128.57,377.24 127.41,376.61 126.23,376.03 125.04,375.5 123.83,375.02 122.62,374.59 121.39,374.22 120.15,373.89 118.9,373.62 117.65,373.4 116.39,373.24 115.13,373.13 113.87,373.07 112.6,373.07 105.3,373.2" fill="#04ee04"/>
<polygon points="105.3,423.6 147.6,422.36 147.58,420.91 147.53,419.47 147.43,418.03 147.3,416.6 147.13,415.17 146.93,413.76 146.69,412.35 146.41,410.95 146.09,409.57 145.74,408.2 145.36,406.85 144.94,405.52 144.48,404.2 143.99,402.9 143.47,401.63 142.91,400.38 142.32,399.15 141.7,397.95 141.05,396.77 140.37,395.63 139.66,394.51 138.91,393.42 138.15,392.37 137.35,391.34 136.53,390.35 135.68,389.4 134.8,388.48 133.91,387.6 132.99,386.75 132.04,385.95 131.08,385.18 130.1,384.46 129.1,383.77 128.08,383.13 127.04,382.53 125.99,381.97 124.93,381.46 123.85,380.99 122.76,380.57 121.66,380.19 120.55,379.86 119.43,379.58 118.3,379.34 117.17,379.15 116.03,379 114.89,378.91 113.75,378.86 112.6,378.86 105.3,379" fill="#58e804"/>
<polygon points="105.3,423.6 143.4,422.48 143.38,421.2 143.33,419.92 143.25,418.64 143.14,417.36 142.99,416.1 142.81,414.84 142.6,413.59 142.35,412.35 142.07,411.12 141.77,409.9 141.43,408.7 141.06,407.51 140.65,406.34 140.22,405.19 139.76,404.06 139.27,402.95 138.76,401.86 138.21,400.79 137.64,399.75 137.04,398.73 136.41,397.73 135.76,396.77 135.08,395.83 134.38,394.92 133.65,394.04 132.91,393.2 132.14,392.38 131.35,391.6 130.54,390.85 129.71,390.13 128.86,389.45 128,388.81 127.12,388.2 126.22,387.63 125.31,387.1 124.39,386.61 123.45,386.15 122.5,385.74 121.54,385.36 120.57,385.03 119.59,384.73 118.61,384.48 117.62,384.27 116.62,384.1 115.62,383.98 114.61,383.89 113.61,383.85 112.6,383.85 105.3,384" fill="#a8ee04"/>
<polygon points="105.3,423.6 139.9,422.58 139.89,421.44 139.84,420.3 139.77,419.16 139.67,418.03 139.54,416.9 139.38,415.78 139.19,414.67 138.97,413.57 138.72,412.48 138.45,411.39 138.15,410.33 137.82,409.27 137.47,408.23 137.08,407.21 136.68,406.2 136.24,405.21 135.78,404.24 135.3,403.29 134.79,402.36 134.26,401.46 133.7,400.57 133.13,399.71 132.53,398.88 131.9,398.07 131.26,397.29 130.6,396.54 129.92,395.81 129.22,395.12 128.5,394.45 127.77,393.82 127.02,393.21 126.25,392.64 125.47,392.1 124.67,391.59 123.87,391.12 123.05,390.68 122.22,390.28 121.38,389.91 120.52,389.58 119.67,389.28 118.8,389.02 117.93,388.8 117.05,388.61 116.16,388.46 115.28,388.35 114.39,388.28 113.49,388.24 112.6,388.24 105.3,388.4" fill="#ffff00"/>
<linearGradient id="wg2" gradientUnits="userSpaceOnUse" x1="0" y1="392.6" x2="0" y2="423.6"><stop offset="0" stop-color="#b8a838"/><stop offset="0.5" stop-color="#e0b828"/><stop offset="1" stop-color="#ffa808"/></linearGradient>
<polygon points="105.3,423.6 136.4,422.69 136.39,421.66 136.35,420.64 136.29,419.62 136.2,418.61 136.08,417.6 135.94,416.6 135.78,415.6 135.59,414.61 135.38,413.63 135.14,412.66 134.87,411.71 134.59,410.76 134.28,409.83 133.95,408.91 133.59,408.01 133.21,407.13 132.81,406.26 132.39,405.41 131.95,404.58 131.48,403.76 131,402.97 130.49,402.2 129.97,401.46 129.43,400.73 128.87,400.04 128.29,399.36 127.7,398.71 127.09,398.09 126.46,397.49 125.82,396.92 125.17,396.38 124.5,395.87 123.82,395.39 123.13,394.93 122.42,394.51 121.71,394.12 120.98,393.76 120.25,393.43 119.51,393.13 118.76,392.87 118,392.63 117.24,392.43 116.48,392.27 115.71,392.13 114.93,392.03 114.16,391.97 113.38,391.94 112.6,391.94 105.3,392.1" fill="url(#wg2)"/>
<path d="M159.1 422.02L228 420M159.07 418.06L228 409.4M158.98 414.11L228 398.79M158.84 410.17L228 388.19M158.65 406.23L228 377.59M158.4 402.32L228 366.99M158.09 398.43L228 356.38M157.73 394.56L228 345.78M157.32 390.72L228 335.18M156.86 386.91L228 324.57M156.35 383.14L228 313.97M155.8 379.41L228 303.37M155.19 375.72L228 292.77M154.54 372.07L228 282.16M153.85 368.47L228 271.56M150.87 367.57L219.12 271.53M147.84 366.73L210.25 271.49M144.77 365.95L201.37 271.46M141.66 365.25L192.49 271.43M138.52 364.61L183.62 271.39M135.34 364.05L174.74 271.36M132.15 363.57L165.86 271.33M128.92 363.16L156.98 271.29M125.68 362.84L148.11 271.26M122.43 362.6L139.23 271.23M119.16 362.44L130.35 271.19M115.88 362.37L121.48 271.16M112.6 362.38L112.6 271.13M159.1 422.02L159.07 418.06L158.98 414.11L158.84 410.17L158.65 406.23L158.4 402.32L158.09 398.43L157.73 394.56L157.32 390.72L156.86 386.91L156.35 383.14L155.8 379.41L155.19 375.72L154.54 372.07L153.85 368.47L150.87 367.57L147.84 366.73L144.77 365.95L141.66 365.25L138.52 364.61L135.34 364.05L132.15 363.57L128.92 363.16L125.68 362.84L122.43 362.6L119.16 362.44L115.88 362.37L112.6 362.38L105.3 362.49M162.1 421.93L162.08 417.68L162 413.43L161.86 409.19L161.68 404.97L161.44 400.76L161.14 396.57L160.8 392.4L160.41 388.26L159.97 384.15L159.48 380.08L158.95 376.04L158.37 372.04L157.75 368.09L157.09 364.18L153.85 363.32L150.56 362.52L147.24 361.78L143.88 361.11L140.48 360.5L137.06 359.97L133.62 359.51L130.15 359.13L126.66 358.83L123.16 358.6L119.65 358.45L116.12 358.38L112.6 358.39L105.3 358.51M165.27 421.84L165.25 417.28L165.17 412.72L165.04 408.17L164.86 403.63L164.63 399.11L164.36 394.61L164.03 390.13L163.66 385.68L163.24 381.25L162.77 376.86L162.26 372.5L161.72 368.18L161.13 363.9L160.5 359.66L156.98 358.84L153.43 358.09L149.84 357.39L146.21 356.75L142.56 356.18L138.87 355.68L135.17 355.25L131.44 354.89L127.69 354.6L123.93 354.38L120.16 354.25L116.38 354.19L112.6 354.2L105.3 354.3M168.61 421.74L168.58 416.85L168.51 411.97L168.39 407.1L168.22 402.23L168 397.38L167.74 392.55L167.43 387.74L167.08 382.96L166.68 378.2L166.24 373.47L165.76 368.77L165.24 364.11L164.68 359.49L164.09 354.91L160.29 354.14L156.45 353.43L152.58 352.77L148.67 352.17L144.74 351.64L140.78 351.17L136.8 350.76L132.8 350.42L128.78 350.15L124.74 349.95L120.7 349.82L116.65 349.77L112.6 349.78L105.3 349.88M172.12 421.64L172.09 416.41L172.03 411.18L171.91 405.97L171.75 400.76L171.55 395.56L171.3 390.39L171.01 385.23L170.68 380.1L170.31 374.99L169.89 369.91L169.44 364.86L168.95 359.84L168.42 354.86L167.86 349.92L163.76 349.2L159.63 348.53L155.46 347.92L151.26 347.36L147.04 346.86L142.79 346.41L138.52 346.04L134.23 345.72L129.92 345.47L125.6 345.28L121.27 345.17L116.94 345.12L112.6 345.13L105.3 345.22M175.81 421.53L175.79 415.94L175.73 410.36L175.62 404.78L175.47 399.21L175.28 393.65L175.05 388.11L174.78 382.59L174.47 377.09L174.12 371.61L173.74 366.16L173.31 360.74L172.86 355.35L172.37 349.99L171.84 344.67L167.43 344L162.98 343.38L158.5 342.81L153.99 342.29L149.46 341.83L144.9 341.42L140.33 341.06L135.73 340.77L131.12 340.54L126.5 340.37L121.87 340.26L117.24 340.22L112.6 340.24L105.3 340.32M179.71 421.42L179.69 415.45L179.63 409.48L179.53 403.53L179.39 397.58L179.22 391.64L179 385.72L178.75 379.81L178.46 373.93L178.14 368.06L177.78 362.22L177.39 356.41L176.97 350.63L176.52 344.87L176.03 339.15L171.28 338.54L166.5 337.97L161.7 337.44L156.86 336.96L152.01 336.54L147.13 336.16L142.23 335.84L137.32 335.57L132.39 335.35L127.45 335.2L122.51 335.1L117.55 335.06L112.6 335.08L105.3 335.16M183.81 421.3L183.79 414.93L183.73 408.57L183.64 402.21L183.52 395.87L183.36 389.53L183.16 383.21L182.93 376.9L182.67 370.61L182.37 364.34L182.05 358.09L181.69 351.86L181.3 345.66L180.89 339.49L180.44 333.35L175.34 332.79L170.22 332.27L165.06 331.8L159.89 331.36L154.69 330.97L149.47 330.63L144.24 330.33L138.99 330.09L133.72 329.9L128.45 329.75L123.17 329.67L117.89 329.63L112.6 329.65L105.3 329.72M188.12 421.17L188.11 414.39L188.06 407.61L187.98 400.83L187.86 394.07L187.72 387.31L187.54 380.56L187.34 373.83L187.1 367.11L186.83 360.42L186.54 353.74L186.21 347.08L185.86 340.45L185.49 333.84L185.09 327.26L179.62 326.76L174.13 326.29L168.61 325.86L163.07 325.47L157.52 325.12L151.94 324.81L146.35 324.54L140.75 324.32L135.13 324.15L129.51 324.03L123.87 323.95L118.24 323.92L112.6 323.94L105.3 323.99M192.67 421.04L192.66 413.81L192.61 406.6L192.54 399.38L192.44 392.17L192.31 384.97L192.15 377.79L191.97 370.61L191.76 363.45L191.52 356.3L191.26 349.17L190.98 342.06L190.67 334.97L190.33 327.9L189.98 320.86L184.12 320.41L178.25 320L172.35 319.62L166.43 319.27L160.49 318.96L154.54 318.69L148.57 318.45L142.6 318.26L136.61 318.11L130.61 318L124.61 317.93L118.61 317.9L112.6 317.92L105.3 317.96M197.46 420.9L197.44 413.21L197.41 405.53L197.34 397.86L197.26 390.18L197.15 382.52L197.01 374.87L196.85 367.22L196.67 359.59L196.47 351.97L196.24 344.37L195.99 336.78L195.73 329.21L195.44 321.66L195.13 314.13L188.87 313.75L182.58 313.39L176.28 313.06L169.96 312.76L163.62 312.49L157.28 312.25L150.92 312.05L144.55 311.88L138.17 311.75L131.78 311.65L125.39 311.59L119 311.56L112.6 311.58L105.3 311.61M202.5 420.75L202.49 412.58L202.46 404.41L202.4 396.25L202.33 388.09L202.24 379.94L202.12 371.8L201.99 363.66L201.84 355.54L201.67 347.42L201.48 339.32L201.27 331.23L201.05 323.16L200.81 315.1L200.56 307.06L193.86 306.74L187.15 306.44L180.42 306.16L173.68 305.91L166.92 305.68L160.16 305.48L153.38 305.31L146.6 305.17L139.81 305.05L133.01 304.97L126.21 304.92L119.41 304.89L112.6 304.9L105.3 304.93M207.8 420.59L207.8 411.92L207.77 403.24L207.73 394.57L207.67 385.9L207.6 377.23L207.51 368.58L207.4 359.93L207.28 351.28L207.15 342.65L207 334.02L206.84 325.41L206.66 316.81L206.47 308.21L206.27 299.64L199.12 299.38L191.95 299.14L184.78 298.91L177.59 298.71L170.4 298.53L163.19 298.36L155.98 298.22L148.76 298.11L141.53 298.01L134.31 297.94L127.07 297.89L119.84 297.87L112.6 297.87L105.3 297.89M213.38 420.43L213.38 411.22L213.36 402.01L213.33 392.8L213.29 383.6L213.23 374.39L213.17 365.2L213.09 356.01L213.01 346.82L212.91 337.64L212.8 328.46L212.68 319.3L212.55 310.14L212.42 300.99L212.27 291.85L204.64 291.66L197.01 291.48L189.36 291.31L181.71 291.15L174.05 291.02L166.38 290.89L158.71 290.78L151.03 290.69L143.35 290.61L135.67 290.55L127.98 290.51L120.29 290.49L112.6 290.48L105.3 290.49M218.96 420.27L218.96 410.52L218.95 400.78L218.93 391.04L218.9 381.3L218.87 371.56L218.83 361.83L218.78 352.09L218.73 342.37L218.67 332.64L218.6 322.92L218.53 313.21L218.45 303.5L218.36 293.79L218.27 284.09L210.17 283.96L202.06 283.84L193.94 283.72L185.82 283.61L177.7 283.52L169.57 283.43L161.44 283.35L153.3 283.28L145.17 283.22L137.03 283.17L128.89 283.14L120.74 283.11L112.6 283.1L105.3 283.09M224.54 420.1L224.54 409.83L224.54 399.55L224.53 389.28L224.52 379.01L224.51 368.73L224.49 358.46L224.47 348.19L224.45 337.93L224.43 327.66L224.4 317.39L224.38 307.13L224.34 296.87L224.31 286.61L224.28 276.35L215.7 276.28L207.11 276.21L198.53 276.15L189.94 276.09L181.35 276.03L172.76 275.98L164.17 275.93L155.58 275.88L146.98 275.84L138.39 275.8L129.79 275.76L121.2 275.73L112.6 275.71L105.3 275.69M228 420L228 409.4L228 398.79L228 388.19L228 377.59L228 366.99L228 356.38L228 345.78L228 335.18L228 324.57L228 313.97L228 303.37L228 292.77L228 282.16L228 271.56L219.12 271.53L210.25 271.49L201.37 271.46L192.49 271.43L183.62 271.39L174.74 271.36L165.86 271.33L156.98 271.29L148.11 271.26L139.23 271.23L130.35 271.19L121.48 271.16L112.6 271.13L105.3 271.1" fill="none" stroke="#000" stroke-opacity="0.66" stroke-width="0.6"/>
<path d="M136.4 422.69L159.1 422.02M136.36 420.96L159.07 418.06M136.25 419.24L158.98 414.11M136.06 417.54L158.84 410.17M135.8 415.85L158.65 406.23M135.47 414.19L158.4 402.32M135.06 412.55L158.09 398.43M134.59 410.95L157.73 394.56M134.04 409.39L157.32 390.72M133.43 407.87L156.86 386.91M132.75 406.4L156.35 383.14M132.01 404.98L155.8 379.41M131.21 403.62L155.19 375.72M130.35 402.32L154.54 372.07M129.43 401.09L153.85 368.47M128.38 399.84L150.87 367.57M127.28 398.67L147.84 366.73M126.12 397.59L144.77 365.95M124.91 396.61L141.66 365.25M123.66 395.72L138.52 364.61M122.37 394.94L135.34 364.05M121.04 394.25L132.15 363.57M119.68 393.67L128.92 363.16M118.3 393.2L125.68 362.84M116.89 392.84L122.43 362.6M115.47 392.6L119.16 362.44M114.04 392.46L115.88 362.37M112.6 392.43L112.6 362.38M136.4 422.69L136.36 420.96L136.25 419.24L136.06 417.54L135.8 415.85L135.47 414.19L135.06 412.55L134.59 410.95L134.04 409.39L133.43 407.87L132.75 406.4L132.01 404.98L131.21 403.62L130.35 402.32L129.43 401.09L128.38 399.84L127.28 398.67L126.12 397.59L124.91 396.61L123.66 395.72L122.37 394.94L121.04 394.25L119.68 393.67L118.3 393.2L116.89 392.84L115.47 392.6L114.04 392.46L112.6 392.43L105.3 392.6M137.23 422.66L137.19 420.86L137.08 419.06L136.9 417.27L136.64 415.5L136.31 413.75L135.91 412.04L135.43 410.35L134.89 408.7L134.29 407.1L133.61 405.55L132.88 404.04L132.08 402.6L131.23 401.21L130.32 399.89L129.2 398.65L128.03 397.5L126.8 396.43L125.52 395.46L124.2 394.58L122.84 393.8L121.45 393.13L120.02 392.56L118.57 392.09L117.09 391.74L115.6 391.49L114.1 391.36L112.6 391.34L105.3 391.5M138.16 422.64L138.12 420.74L138.01 418.84L137.83 416.97L137.57 415.1L137.25 413.27L136.85 411.46L136.38 409.68L135.85 407.94L135.25 406.24L134.58 404.59L133.85 402.99L133.07 401.45L132.22 399.97L131.32 398.55L130.12 397.32L128.87 396.18L127.56 395.13L126.21 394.17L124.81 393.3L123.37 392.54L121.9 391.87L120.4 391.31L118.87 390.85L117.32 390.5L115.75 390.26L114.18 390.13L112.6 390.11L105.3 390.27M139.2 422.61L139.16 420.6L139.05 418.61L138.87 416.63L138.62 414.66L138.3 412.72L137.9 410.81L137.44 408.92L136.91 407.08L136.32 405.28L135.66 403.52L134.94 401.81L134.16 400.16L133.33 398.57L132.44 397.05L131.15 395.84L129.81 394.72L128.42 393.68L126.98 392.73L125.49 391.88L123.97 391.12L122.41 390.46L120.82 389.91L119.21 389.46L117.57 389.11L115.92 388.88L114.26 388.75L112.6 388.73L105.3 388.89M140.36 422.57L140.33 420.45L140.22 418.34L140.04 416.25L139.79 414.17L139.47 412.11L139.09 410.08L138.63 408.08L138.11 406.12L137.52 404.2L136.87 402.32L136.16 400.5L135.4 398.73L134.57 397.02L133.69 395.37L132.31 394.18L130.87 393.07L129.38 392.05L127.84 391.12L126.25 390.27L124.63 389.53L122.98 388.88L121.29 388.34L119.59 387.9L117.86 387.56L116.11 387.33L114.36 387.2L112.6 387.19L105.3 387.34M141.67 422.53L141.63 420.29L141.53 418.05L141.35 415.82L141.11 413.61L140.79 411.42L140.41 409.26L139.96 407.13L139.45 405.04L138.87 402.99L138.23 400.98L137.53 399.02L136.77 397.12L135.96 395.27L135.1 393.49L133.6 392.32L132.05 391.23L130.45 390.23L128.8 389.31L127.11 388.48L125.38 387.75L123.62 387.12L121.83 386.58L120.01 386.15L118.18 385.82L116.32 385.59L114.46 385.47L112.6 385.46L105.3 385.61M143.13 422.49L143.1 420.1L142.99 417.72L142.82 415.35L142.58 412.99L142.27 410.66L141.89 408.35L141.45 406.08L140.95 403.84L140.38 401.64L139.75 399.48L139.06 397.37L138.32 395.32L137.52 393.32L136.67 391.38L135.05 390.23L133.37 389.17L131.65 388.18L129.88 387.29L128.07 386.48L126.22 385.76L124.33 385.14L122.42 384.61L120.49 384.19L118.53 383.87L116.56 383.65L114.58 383.53L112.6 383.52L105.3 383.67M144.77 422.44L144.73 419.89L144.63 417.35L144.46 414.81L144.22 412.3L143.92 409.8L143.55 407.33L143.12 404.89L142.63 402.49L142.07 400.12L141.45 397.8L140.78 395.52L140.05 393.3L139.27 391.13L138.43 389.02L136.67 387.9L134.86 386.86L132.99 385.9L131.09 385.02L129.14 384.23L127.15 383.53L125.13 382.92L123.09 382.41L121.02 382L118.93 381.69L116.83 381.47L114.72 381.36L112.6 381.35L105.3 381.5M146.6 422.39L146.57 419.66L146.47 416.93L146.3 414.22L146.07 411.52L145.77 408.84L145.41 406.19L144.99 403.57L144.51 400.98L143.96 398.43L143.36 395.92L142.7 393.46L141.99 391.04L141.22 388.69L140.41 386.39L138.49 385.3L136.52 384.28L134.5 383.34L132.44 382.49L130.34 381.72L128.2 381.03L126.03 380.44L123.83 379.95L121.62 379.55L119.38 379.24L117.13 379.04L114.87 378.93L112.6 378.93L105.3 379.07M148.65 422.33L148.62 419.39L148.52 416.47L148.36 413.55L148.14 410.65L147.85 407.77L147.5 404.91L147.08 402.08L146.61 399.29L146.08 396.53L145.49 393.81L144.85 391.14L144.16 388.52L143.41 385.95L142.62 383.44L140.52 382.38L138.38 381.39L136.19 380.48L133.95 379.65L131.68 378.9L129.37 378.24L127.04 377.67L124.67 377.19L122.28 376.8L119.88 376.51L117.46 376.31L115.03 376.21L112.6 376.21L105.3 376.35M150.95 422.26L150.92 419.1L150.83 415.95L150.67 412.8L150.45 409.68L150.17 406.57L149.83 403.48L149.43 400.42L148.97 397.4L148.46 394.41L147.88 391.46L147.26 388.55L146.59 385.7L145.86 382.89L145.09 380.13L142.8 379.11L140.46 378.16L138.08 377.28L135.65 376.47L133.19 375.75L130.69 375.11L128.16 374.56L125.61 374.1L123.03 373.72L120.44 373.44L117.83 373.26L115.22 373.16L112.6 373.16L105.3 373.3M153.53 422.18L153.5 418.77L153.41 415.36L153.26 411.97L153.04 408.59L152.77 405.22L152.44 401.88L152.06 398.57L151.61 395.28L151.11 392.04L150.56 388.83L149.96 385.66L149.31 382.54L148.61 379.46L147.86 376.44L145.35 375.46L142.79 374.54L140.19 373.69L137.55 372.92L134.87 372.23L132.16 371.61L129.42 371.08L126.66 370.64L123.87 370.28L121.07 370.01L118.25 369.83L115.43 369.75L112.6 369.75L105.3 369.88M156.24 422.11L156.21 418.43L156.12 414.75L155.98 411.09L155.77 407.44L155.51 403.81L155.19 400.2L154.82 396.61L154.39 393.06L153.91 389.54L153.38 386.06L152.8 382.61L152.17 379.21L151.5 375.86L150.78 372.56L148.04 371.61L145.25 370.73L142.42 369.92L139.55 369.18L136.65 368.52L133.71 367.93L130.75 367.42L127.76 367L124.75 366.66L121.73 366.4L118.69 366.23L115.65 366.15L112.6 366.16L105.3 366.28" fill="none" stroke="#000" stroke-opacity="0.34" stroke-width="0.5"/>
<path d="M129.04 420.7L136.34 420.49M128.86 418.5L136.16 418.3M128.55 416.31L135.85 416.1M128.11 414.12L135.41 413.92M127.53 411.93L134.83 411.73M126.8 409.75L134.1 409.55M125.91 407.56L133.21 407.37M124.83 405.39L132.13 405.2M123.53 403.22L130.83 403.03M121.96 401.05L129.26 400.87M120.02 398.89L127.32 398.71M117.56 396.74L124.86 396.57M114.13 394.61L121.43 394.44" fill="none" stroke="#ffd040" stroke-opacity="0.6" stroke-width="0.7"/>
<path d="M136.4 422.69L136.37 421.18L136.29 419.67L136.14 418.18L135.94 416.69L135.69 415.23L135.38 413.78L135.01 412.35L134.59 410.95L134.11 409.58L133.59 408.25L133.01 406.95L132.39 405.68L131.72 404.46L131 403.29L130.23 402.16L129.43 401.09L128.58 400.06L127.7 399.1L126.78 398.19L125.82 397.34L124.84 396.55L123.82 395.83L122.78 395.17L121.71 394.58" fill="none" stroke="#401800" stroke-opacity="0.55" stroke-width="0.9"/>
<path d="M119.88 397.95L118.92 397.1L117.94 396.31L116.92 395.59L115.88 394.93L114.81 394.34L113.72 393.82L112.61 393.37L111.48 392.99L110.34 392.68L109.19 392.45L108.03 392.29" fill="none" stroke="#180800" stroke-opacity="0.85" stroke-width="1.5" stroke-linecap="round"/>
</g>
<polygon points="104.3,425.1 129.1,425.1 129.1,422.9 129.08,421.69 129.03,420.48 128.94,419.28 128.81,418.09 128.64,416.9 128.44,415.72 128.21,414.56 127.94,413.4 127.63,412.27 127.29,411.15 126.91,410.05 126.51,408.97 126.07,407.91 125.59,406.88 125.09,405.87 124.55,404.89 123.99,403.94 123.4,403.02 122.78,402.12 122.13,401.27 121.46,400.44 120.76,399.65 120.03,398.9 119.29,398.19 118.52,397.51 117.74,396.87 116.93,396.28 116.1,395.73 115.26,395.22 114.41,394.75 113.54,394.33 112.65,393.95 111.76,393.62 110.86,393.33 109.94,393.09 109.02,392.9 108.1,392.75 107.17,392.65 106.23,392.6 105.3,392.6 104.3,392.6" fill="#fff"/>
<rect x="230.8" y="288.3" width="10" height="10.32" fill="#0000ff"/>
<text x="245.2" y="296.45" font-family='"Liberation Sans", Arial, sans-serif' font-size="8.5" fill="#000" stroke="#000" stroke-width="0.15" text-rendering="geometricPrecision" textLength="91" lengthAdjust="spacingAndGlyphs" xml:space="preserve">4.7227e-003 to  1.0000e-002</text>
<rect x="230.8" y="298.52" width="10" height="10.32" fill="#0c58ac"/>
<line x1="230.8" y1="298.52" x2="240.8" y2="298.52" stroke="#000" stroke-opacity="0.35" stroke-width="0.5"/>
<text x="245.2" y="306.68" font-family='"Liberation Sans", Arial, sans-serif' font-size="8.5" fill="#000" stroke="#000" stroke-width="0.15" text-rendering="geometricPrecision" textLength="91" lengthAdjust="spacingAndGlyphs" xml:space="preserve">1.0000e-002 to  2.0000e-002</text>
<rect x="230.8" y="308.74" width="10" height="10.32" fill="#04a45c"/>
<line x1="230.8" y1="308.74" x2="240.8" y2="308.74" stroke="#000" stroke-opacity="0.35" stroke-width="0.5"/>
<text x="245.2" y="316.9" font-family='"Liberation Sans", Arial, sans-serif' font-size="8.5" fill="#000" stroke="#000" stroke-width="0.15" text-rendering="geometricPrecision" textLength="91" lengthAdjust="spacingAndGlyphs" xml:space="preserve">2.0000e-002 to  3.0000e-002</text>
<rect x="230.8" y="318.97" width="10" height="10.32" fill="#04ee04"/>
<line x1="230.8" y1="318.97" x2="240.8" y2="318.97" stroke="#000" stroke-opacity="0.35" stroke-width="0.5"/>
<text x="245.2" y="327.12" font-family='"Liberation Sans", Arial, sans-serif' font-size="8.5" fill="#000" stroke="#000" stroke-width="0.15" text-rendering="geometricPrecision" textLength="91" lengthAdjust="spacingAndGlyphs" xml:space="preserve">3.0000e-002 to  4.0000e-002</text>
<rect x="230.8" y="329.19" width="10" height="10.32" fill="#58e804"/>
<line x1="230.8" y1="329.19" x2="240.8" y2="329.19" stroke="#000" stroke-opacity="0.35" stroke-width="0.5"/>
<text x="245.2" y="337.34" font-family='"Liberation Sans", Arial, sans-serif' font-size="8.5" fill="#000" stroke="#000" stroke-width="0.15" text-rendering="geometricPrecision" textLength="91" lengthAdjust="spacingAndGlyphs" xml:space="preserve">4.0000e-002 to  5.0000e-002</text>
<rect x="230.8" y="339.41" width="10" height="10.32" fill="#a8ee04"/>
<line x1="230.8" y1="339.41" x2="240.8" y2="339.41" stroke="#000" stroke-opacity="0.35" stroke-width="0.5"/>
<text x="245.2" y="347.57" font-family='"Liberation Sans", Arial, sans-serif' font-size="8.5" fill="#000" stroke="#000" stroke-width="0.15" text-rendering="geometricPrecision" textLength="91" lengthAdjust="spacingAndGlyphs" xml:space="preserve">5.0000e-002 to  6.0000e-002</text>
<rect x="230.8" y="349.63" width="10" height="10.32" fill="#ffff00"/>
<line x1="230.8" y1="349.63" x2="240.8" y2="349.63" stroke="#000" stroke-opacity="0.35" stroke-width="0.5"/>
<text x="245.2" y="357.79" font-family='"Liberation Sans", Arial, sans-serif' font-size="8.5" fill="#000" stroke="#000" stroke-width="0.15" text-rendering="geometricPrecision" textLength="91" lengthAdjust="spacingAndGlyphs" xml:space="preserve">6.0000e-002 to  7.0000e-002</text>
<rect x="230.8" y="359.86" width="10" height="10.32" fill="#ffb400"/>
<line x1="230.8" y1="359.86" x2="240.8" y2="359.86" stroke="#000" stroke-opacity="0.35" stroke-width="0.5"/>
<text x="245.2" y="368.01" font-family='"Liberation Sans", Arial, sans-serif' font-size="8.5" fill="#000" stroke="#000" stroke-width="0.15" text-rendering="geometricPrecision" textLength="91" lengthAdjust="spacingAndGlyphs" xml:space="preserve">7.0000e-002 to  8.0000e-002</text>
<rect x="230.8" y="370.08" width="10" height="10.32" fill="#ff4400"/>
<line x1="230.8" y1="370.08" x2="240.8" y2="370.08" stroke="#000" stroke-opacity="0.35" stroke-width="0.5"/>
<text x="245.2" y="378.23" font-family='"Liberation Sans", Arial, sans-serif' font-size="8.5" fill="#000" stroke="#000" stroke-width="0.15" text-rendering="geometricPrecision" textLength="91" lengthAdjust="spacingAndGlyphs" xml:space="preserve">8.0000e-002 to  8.0352e-002</text>
</g>
<g>
<text transform="translate(403.7 465.13) scale(0.955 1)" text-anchor="end" font-family='"Liberation Serif", "Times New Roman", serif' font-size="13.7" fill="#111">0.00</text>
<text transform="translate(403.7 434.71) scale(0.955 1)" text-anchor="end" font-family='"Liberation Serif", "Times New Roman", serif' font-size="13.7" fill="#111">0.01</text>
<text transform="translate(403.7 404.29) scale(0.955 1)" text-anchor="end" font-family='"Liberation Serif", "Times New Roman", serif' font-size="13.7" fill="#111">0.02</text>
<text transform="translate(403.7 373.87) scale(0.955 1)" text-anchor="end" font-family='"Liberation Serif", "Times New Roman", serif' font-size="13.7" fill="#111">0.03</text>
<text transform="translate(403.7 343.45) scale(0.955 1)" text-anchor="end" font-family='"Liberation Serif", "Times New Roman", serif' font-size="13.7" fill="#111">0.04</text>
<text transform="translate(403.7 313.03) scale(0.955 1)" text-anchor="end" font-family='"Liberation Serif", "Times New Roman", serif' font-size="13.7" fill="#111">0.05</text>
<text transform="translate(418.1 481) scale(0.955 1)" text-anchor="middle" font-family='"Liberation Serif", "Times New Roman", serif' font-size="13.7" fill="#111">20</text>
<text transform="translate(451.25 481) scale(0.955 1)" text-anchor="middle" font-family='"Liberation Serif", "Times New Roman", serif' font-size="13.7" fill="#111">25</text>
<text transform="translate(484.4 481) scale(0.955 1)" text-anchor="middle" font-family='"Liberation Serif", "Times New Roman", serif' font-size="13.7" fill="#111">30</text>
<text transform="translate(517.55 481) scale(0.955 1)" text-anchor="middle" font-family='"Liberation Serif", "Times New Roman", serif' font-size="13.7" fill="#111">35</text>
<text transform="translate(550.7 481) scale(0.955 1)" text-anchor="middle" font-family='"Liberation Serif", "Times New Roman", serif' font-size="13.7" fill="#111">40</text>
<text transform="translate(583.85 481) scale(0.955 1)" text-anchor="middle" font-family='"Liberation Serif", "Times New Roman", serif' font-size="13.7" fill="#111">45</text>
<text transform="translate(617 481) scale(0.955 1)" text-anchor="middle" font-family='"Liberation Serif", "Times New Roman", serif' font-size="13.7" fill="#111">50</text>
<path d="M413.8 460.4H418.1M415.5 445.19H418.1M413.8 429.98H418.1M415.5 414.77H418.1M413.8 399.56H418.1M415.5 384.35H418.1M413.8 369.14H418.1M415.5 353.93H418.1M413.8 338.72H418.1M415.5 323.51H418.1M413.8 308.3H418.1M418.1 460.4V464.7M451.25 460.4V464.7M484.4 460.4V464.7M517.55 460.4V464.7M550.7 460.4V464.7M583.85 460.4V464.7M617 460.4V464.7M418.1 308.3V460.4H617" fill="none" stroke="#222" stroke-width="1"/>
<text x="517.3" y="494.5" text-anchor="middle" font-family='"Liberation Serif", "Times New Roman", serif' font-size="14.04" fill="#111">GSI</text>
<text transform="translate(373.2 387.3) rotate(-90)" text-anchor="middle" font-family='"Liberation Serif", "Times New Roman", serif' font-size="13.7" fill="#111" word-spacing="0.8" xml:space="preserve"><tspan font-style="italic">u</tspan><tspan font-size="9.04" dy="3.6">0,ini</tspan><tspan dy="-3.6"> / </tspan><tspan font-style="italic">m</tspan></text>
<text x="509.6" y="517" text-anchor="middle" font-family='"Liberation Serif", "Times New Roman", serif' font-size="17.33" fill="#111">(d)</text>
<path d="M420.5 360.67L441.8 326H462.8" fill="none" stroke="#111" stroke-width="1.4" stroke-linejoin="miter"/>
<path d="M418.1 364.27L451.25 422.38L484.4 439.11L517.55 446.71L550.7 451.58L583.85 454.32L617 455.53" fill="none" stroke="#111" stroke-width="1.5"/>
<path d="M418.1 312.56L451.25 408.69L484.4 439.11L517.55 449.14L550.7 454.32L583.85 456.75L617 458.27" fill="none" stroke="#e8161a" stroke-width="1.5" stroke-dasharray="3.4 1.8"/>
<circle cx="418.1" cy="312.56" r="3.1" fill="#f01418"/>
<circle cx="451.25" cy="408.69" r="3.1" fill="#f01418"/>
<circle cx="484.4" cy="439.11" r="3.1" fill="#f01418"/>
<circle cx="517.55" cy="449.14" r="3.1" fill="#f01418"/>
<circle cx="550.7" cy="454.32" r="3.1" fill="#f01418"/>
<circle cx="583.85" cy="456.75" r="3.1" fill="#f01418"/>
<circle cx="617" cy="458.27" r="3.1" fill="#f01418"/>
<rect x="415.2" y="361.37" width="5.8" height="5.8" fill="none" stroke="#111" stroke-width="1.2"/>
<rect x="448.35" y="419.48" width="5.8" height="5.8" fill="none" stroke="#111" stroke-width="1.2"/>
<rect x="481.5" y="436.21" width="5.8" height="5.8" fill="none" stroke="#111" stroke-width="1.2"/>
<rect x="514.65" y="443.81" width="5.8" height="5.8" fill="none" stroke="#111" stroke-width="1.2"/>
<rect x="547.8" y="448.68" width="5.8" height="5.8" fill="none" stroke="#111" stroke-width="1.2"/>
<rect x="580.95" y="451.42" width="5.8" height="5.8" fill="none" stroke="#111" stroke-width="1.2"/>
<rect x="614.1" y="452.63" width="5.8" height="5.8" fill="none" stroke="#111" stroke-width="1.2"/>
<clipPath id="clip3"><polygon points="464.5,418.65 593.3,414.1 593.3,277.8 464.5,277.8"/></clipPath>
<g clip-path="url(#clip3)">
<polygon points="464.5,418.65 593.3,414.1 593.3,277.8 464.5,277.8" fill="#0000ff"/>
<polygon points="464.5,418.65 553.6,415.5 553.56,411.92 553.42,408.34 553.21,404.77 552.9,401.21 552.51,397.68 552.03,394.16 551.46,390.67 550.81,387.2 550.08,383.77 549.26,380.37 548.36,377.01 547.37,373.7 546.31,370.42 545.16,367.2 543.94,364.03 542.64,360.91 541.26,357.86 539.81,354.86 538.29,351.93 536.7,349.06 535.03,346.27 533.3,343.55 531.5,340.91 529.64,338.34 527.72,335.86 525.73,333.46 523.69,331.15 521.6,328.93 519.45,326.8 517.25,324.77 515,322.83 512.7,321 510.36,319.26 507.98,317.63 505.56,316.1 503.1,314.68 500.61,313.36 498.09,312.16 495.55,311.07 492.97,310.09 490.37,309.22 487.76,308.47 485.12,307.84 482.48,307.33 479.82,306.93 477.15,306.65 474.48,306.49 471.8,306.45 464.5,306.5" fill="#048080"/>
<polygon points="464.5,418.65 518.1,416.76 518.08,414.73 518,412.7 517.88,410.68 517.7,408.66 517.48,406.66 517.21,404.67 516.89,402.69 516.52,400.73 516.11,398.79 515.64,396.87 515.13,394.97 514.58,393.09 513.97,391.24 513.33,389.42 512.63,387.63 511.9,385.87 511.12,384.15 510.3,382.46 509.43,380.81 508.53,379.2 507.59,377.62 506.61,376.09 505.59,374.61 504.54,373.17 503.45,371.78 502.33,370.43 501.17,369.14 499.99,367.9 498.77,366.71 497.52,365.58 496.25,364.5 494.95,363.47 493.63,362.51 492.28,361.6 490.91,360.76 489.52,359.97 488.11,359.25 486.68,358.59 485.24,357.99 483.78,357.46 482.31,356.99 480.83,356.59 479.34,356.25 477.84,355.98 476.34,355.77 474.83,355.63 473.31,355.56 471.8,355.56 464.5,355.7" fill="#04ee04"/>
<polygon points="464.5,418.65 505.4,417.21 505.38,415.75 505.33,414.29 505.24,412.84 505.11,411.4 504.95,409.96 504.75,408.53 504.52,407.11 504.26,405.7 503.95,404.31 503.62,402.93 503.25,401.57 502.84,400.22 502.41,398.9 501.93,397.59 501.43,396.31 500.9,395.04 500.33,393.81 499.74,392.6 499.11,391.41 498.46,390.26 497.77,389.13 497.06,388.04 496.32,386.98 495.56,385.95 494.77,384.95 493.95,383.99 493.12,383.06 492.25,382.18 491.37,381.33 490.47,380.52 489.54,379.75 488.6,379.02 487.64,378.33 486.66,377.69 485.67,377.09 484.66,376.53 483.64,376.01 482.6,375.55 481.55,375.12 480.5,374.74 479.43,374.41 478.36,374.13 477.27,373.89 476.19,373.7 475.09,373.56 474,373.47 472.9,373.42 471.8,373.42 464.5,373.6" fill="#58e804"/>
<polygon points="464.5,418.65 501.2,417.35 501.18,416.14 501.14,414.93 501.06,413.72 500.95,412.52 500.81,411.32 500.64,410.13 500.43,408.95 500.2,407.78 499.93,406.62 499.64,405.48 499.32,404.34 498.96,403.22 498.58,402.12 498.17,401.04 497.73,399.97 497.26,398.92 496.77,397.89 496.25,396.89 495.7,395.9 495.12,394.95 494.53,394.01 493.9,393.1 493.26,392.22 492.59,391.36 491.9,390.54 491.18,389.74 490.45,388.97 489.7,388.24 488.92,387.53 488.13,386.86 487.33,386.22 486.5,385.62 485.66,385.05 484.8,384.52 483.93,384.02 483.05,383.56 482.16,383.13 481.25,382.74 480.33,382.4 479.41,382.08 478.48,381.81 477.54,381.58 476.59,381.39 475.64,381.23 474.68,381.12 473.72,381.04 472.76,381.01 471.8,381.01 464.5,381.2" fill="#a8ee04"/>
<polygon points="464.5,418.65 496.3,417.53 496.29,416.47 496.25,415.41 496.18,414.36 496.09,413.31 495.97,412.26 495.83,411.22 495.66,410.19 495.47,409.17 495.25,408.16 495,407.16 494.73,406.17 494.44,405.19 494.12,404.23 493.77,403.28 493.41,402.35 493.02,401.43 492.61,400.54 492.17,399.66 491.71,398.8 491.24,397.96 490.74,397.15 490.22,396.35 489.68,395.58 489.12,394.84 488.55,394.11 487.95,393.42 487.34,392.75 486.71,392.11 486.07,391.49 485.41,390.91 484.74,390.35 484.05,389.82 483.35,389.33 482.64,388.86 481.91,388.43 481.18,388.02 480.43,387.65 479.68,387.31 478.91,387.01 478.14,386.74 477.36,386.5 476.58,386.3 475.79,386.13 475,385.99 474.2,385.89 473.4,385.83 472.6,385.8 471.8,385.8 464.5,386" fill="#ffff00"/>
<polygon points="464.5,418.65 494.2,417.6 494.19,416.61 494.15,415.61 494.09,414.62 494.01,413.64 493.9,412.66 493.77,411.68 493.61,410.71 493.44,409.75 493.24,408.8 493.01,407.86 492.76,406.93 492.49,406.01 492.2,405.11 491.89,404.22 491.56,403.34 491.2,402.48 490.82,401.64 490.42,400.82 490.01,400.01 489.57,399.22 489.12,398.46 488.64,397.71 488.15,396.99 487.64,396.29 487.11,395.61 486.57,394.95 486.01,394.33 485.44,393.72 484.85,393.14 484.24,392.59 483.63,392.07 483,391.58 482.36,391.11 481.71,390.67 481.04,390.26 480.37,389.89 479.69,389.54 479,389.22 478.3,388.93 477.6,388.68 476.89,388.46 476.17,388.26 475.45,388.11 474.72,387.98 474,387.88 473.27,387.82 472.53,387.79 471.8,387.8 464.5,388" fill="#ffb400"/>
<linearGradient id="wg3" gradientUnits="userSpaceOnUse" x1="0" y1="390.3" x2="0" y2="418.65"><stop offset="0" stop-color="#a86028"/><stop offset="0.5" stop-color="#cc7024"/><stop offset="1" stop-color="#ec4c0c"/></linearGradient>
<polygon points="464.5,418.65 492.1,417.68 492.09,416.74 492.06,415.8 492,414.87 491.93,413.94 491.83,413.02 491.71,412.1 491.57,411.19 491.41,410.28 491.23,409.39 491.02,408.5 490.8,407.63 490.55,406.76 490.29,405.91 490.01,405.07 489.7,404.25 489.38,403.44 489.04,402.64 488.68,401.86 488.3,401.11 487.91,400.36 487.49,399.64 487.06,398.94 486.62,398.26 486.15,397.6 485.68,396.96 485.18,396.34 484.68,395.75 484.16,395.18 483.62,394.64 483.08,394.12 482.52,393.62 481.95,393.16 481.37,392.72 480.78,392.31 480.18,391.92 479.57,391.56 478.95,391.24 478.33,390.94 477.69,390.67 477.05,390.43 476.41,390.22 475.76,390.04 475.11,389.89 474.45,389.77 473.79,389.68 473.13,389.62 472.46,389.59 471.8,389.59 464.5,389.8" fill="url(#wg3)"/>
<path d="M514.79 416.87L593.3 414.1M514.77 413.08L593.3 402.86M514.7 409.3L593.3 391.62M514.57 405.53L593.3 380.38M514.4 401.77L593.3 369.14M514.18 398.02L593.3 357.9M513.91 394.3L593.3 346.67M513.6 390.6L593.3 335.43M513.23 386.92L593.3 324.19M512.83 383.28L593.3 312.95M512.38 379.67L593.3 301.71M511.89 376.09L593.3 290.47M511.36 372.56L593.3 279.23M510.79 369.06L593.3 267.99M510.18 365.62L593.3 256.75M507.39 364.78L583.95 256.7M504.57 364L574.61 256.65M501.7 363.28L565.26 256.6M498.81 362.63L555.92 256.55M495.89 362.04L546.57 256.5M492.93 361.53L537.22 256.45M489.96 361.09L527.88 256.4M486.96 360.72L518.53 256.34M483.95 360.43L509.18 256.29M480.93 360.21L499.84 256.24M477.89 360.08L490.49 256.19M474.85 360.02L481.15 256.14M471.8 360.04L471.8 256.09M514.79 416.87L514.77 413.08L514.7 409.3L514.57 405.53L514.4 401.77L514.18 398.02L513.91 394.3L513.6 390.6L513.23 386.92L512.83 383.28L512.38 379.67L511.89 376.09L511.36 372.56L510.79 369.06L510.18 365.62L507.39 364.78L504.57 364L501.7 363.28L498.81 362.63L495.89 362.04L492.93 361.53L489.96 361.09L486.96 360.72L483.95 360.43L480.93 360.21L477.89 360.08L474.85 360.02L471.8 360.04L464.5 360.19M517.8 416.77L517.78 412.69L517.71 408.61L517.59 404.55L517.42 400.49L517.21 396.46L516.95 392.44L516.65 388.44L516.3 384.47L515.91 380.53L515.48 376.62L515.01 372.75L514.5 368.91L513.95 365.12L513.37 361.36L510.33 360.56L507.25 359.82L504.14 359.13L501 358.51L497.83 357.95L494.63 357.46L491.41 357.04L488.17 356.69L484.92 356.42L481.65 356.21L478.37 356.09L475.09 356.04L471.8 356.06L464.5 356.21M520.97 416.66L520.94 412.27L520.88 407.89L520.76 403.52L520.6 399.16L520.4 394.81L520.15 390.48L519.86 386.18L519.53 381.9L519.16 377.64L518.74 373.42L518.29 369.23L517.8 365.08L517.28 360.96L516.72 356.89L513.41 356.13L510.07 355.42L506.7 354.77L503.3 354.18L499.87 353.65L496.42 353.18L492.94 352.78L489.45 352.45L485.94 352.19L482.41 352L478.88 351.88L475.34 351.84L471.8 351.87L464.5 352M524.3 416.54L524.28 411.83L524.21 407.13L524.11 402.43L523.95 397.75L523.76 393.08L523.52 388.43L523.25 383.8L522.93 379.19L522.57 374.61L522.18 370.06L521.75 365.53L521.28 361.05L520.78 356.6L520.25 352.19L516.67 351.47L513.05 350.8L509.4 350.18L505.73 349.62L502.02 349.12L498.3 348.68L494.55 348.3L490.79 347.99L487.01 347.75L483.22 347.57L479.42 347.46L475.61 347.42L471.8 347.45L464.5 347.58M527.81 416.41L527.79 411.37L527.73 406.33L527.63 401.29L527.48 396.27L527.3 391.26L527.08 386.27L526.81 381.3L526.51 376.34L526.17 371.42L525.8 366.52L525.39 361.65L524.95 356.81L524.47 352.01L523.96 347.25L520.09 346.57L516.18 345.93L512.24 345.35L508.28 344.83L504.29 344.36L500.28 343.94L496.25 343.59L492.2 343.3L488.14 343.07L484.06 342.9L479.98 342.81L475.89 342.77L471.8 342.81L464.5 342.92M531.51 416.28L531.49 410.88L531.43 405.49L531.33 400.1L531.2 394.72L531.02 389.35L530.81 384L530.57 378.67L530.28 373.35L529.96 368.06L529.61 362.8L529.22 357.57L528.81 352.36L528.36 347.19L527.88 342.05L523.69 341.41L519.48 340.82L515.24 340.28L510.97 339.79L506.68 339.35L502.36 338.96L498.03 338.63L493.69 338.36L489.32 338.15L484.95 337.99L480.57 337.9L476.19 337.88L471.8 337.91L464.5 338.02M535.4 416.15L535.38 410.37L535.33 404.6L535.24 398.84L535.11 393.08L534.95 387.34L534.75 381.61L534.52 375.9L534.25 370.21L533.95 364.54L533.62 358.89L533.26 353.27L532.87 347.68L532.45 342.12L532 336.59L527.49 336L522.95 335.45L518.39 334.94L513.8 334.49L509.19 334.08L504.56 333.72L499.91 333.41L495.25 333.16L490.58 332.96L485.89 332.83L481.2 332.74L476.5 332.72L471.8 332.76L464.5 332.86M539.5 416L539.48 409.83L539.43 403.67L539.35 397.52L539.23 391.37L539.08 385.23L538.9 379.11L538.68 373L538.43 366.91L538.15 360.84L537.85 354.79L537.51 348.76L537.15 342.77L536.76 336.8L536.34 330.86L531.49 330.31L526.61 329.8L521.71 329.34L516.78 328.91L511.84 328.54L506.87 328.2L501.89 327.92L496.9 327.69L491.89 327.51L486.88 327.39L481.86 327.31L476.83 327.29L471.8 327.33L464.5 327.42M543.82 415.85L543.8 409.27L543.76 402.69L543.68 396.12L543.57 389.56L543.43 383.01L543.26 376.47L543.06 369.95L542.83 363.44L542.58 356.95L542.3 350.47L541.99 344.03L541.65 337.6L541.29 331.2L540.91 324.83L535.7 324.33L530.46 323.87L525.2 323.44L519.92 323.05L514.62 322.71L509.31 322.41L503.98 322.15L498.63 321.94L493.28 321.78L487.92 321.66L482.55 321.59L477.18 321.58L471.8 321.61L464.5 321.69M548.36 415.69L548.35 408.68L548.31 401.67L548.24 394.66L548.14 387.67L548.01 380.68L547.86 373.7L547.68 366.74L547.47 359.79L547.24 352.86L546.98 345.94L546.7 339.05L546.4 332.18L546.07 325.33L545.72 318.5L540.13 318.05L534.52 317.63L528.88 317.24L523.23 316.89L517.56 316.58L511.87 316.31L506.17 316.08L500.46 315.89L494.74 315.74L489.01 315.63L483.28 315.58L477.54 315.56L471.8 315.59L464.5 315.66M553.15 415.52L553.14 408.05L553.1 400.59L553.04 393.13L552.95 385.67L552.83 378.23L552.7 370.79L552.54 363.37L552.35 355.96L552.14 348.56L551.91 341.18L551.66 333.82L551.39 326.48L551.1 319.15L550.79 311.85L544.8 311.45L538.79 311.08L532.76 310.73L526.71 310.42L520.65 310.14L514.57 309.9L508.48 309.69L502.39 309.52L496.28 309.39L490.17 309.29L484.05 309.24L477.92 309.23L471.8 309.26L464.5 309.31M558.19 415.34L558.18 407.4L558.14 399.45L558.09 391.51L558.01 383.58L557.91 375.66L557.79 367.74L557.65 359.83L557.49 351.93L557.31 344.05L557.11 336.18L556.89 328.33L556.65 320.49L556.4 312.67L556.13 304.87L549.71 304.52L543.28 304.19L536.84 303.89L530.38 303.61L523.9 303.37L517.42 303.15L510.92 302.97L504.41 302.82L497.9 302.7L491.38 302.62L484.86 302.57L478.33 302.56L471.8 302.58L464.5 302.63M563.5 415.15L563.49 406.71L563.46 398.26L563.41 389.82L563.35 381.38L563.26 372.95L563.16 364.53L563.04 356.11L562.9 347.71L562.75 339.31L562.58 330.93L562.39 322.56L562.19 314.2L561.97 305.86L561.74 297.54L554.89 297.24L548.02 296.96L541.13 296.7L534.24 296.46L527.33 296.25L520.41 296.06L513.48 295.91L506.55 295.77L499.61 295.67L492.66 295.6L485.71 295.55L478.75 295.54L471.8 295.56L464.5 295.59M569.07 414.96L569.07 405.98L569.04 397.01L569.01 388.04L568.95 379.08L568.88 370.12L568.8 361.17L568.7 352.22L568.59 343.28L568.47 334.35L568.33 325.43L568.18 316.52L568.01 307.62L567.84 298.73L567.65 289.86L560.33 289.6L552.99 289.37L545.65 289.15L538.29 288.96L530.93 288.78L523.56 288.62L516.18 288.49L508.79 288.38L501.4 288.29L494 288.22L486.6 288.18L479.2 288.16L471.8 288.17L464.5 288.19M574.65 414.76L574.65 405.26L574.63 395.77L574.6 386.27L574.56 376.78L574.51 367.29L574.44 357.81L574.37 348.33L574.28 338.86L574.19 329.4L574.08 319.94L573.96 310.49L573.84 301.05L573.7 291.62L573.56 282.19L565.77 281.99L557.97 281.8L550.16 281.63L542.35 281.47L534.53 281.32L526.7 281.19L518.87 281.08L511.03 280.99L503.19 280.91L495.35 280.85L487.5 280.81L479.65 280.79L471.8 280.78L464.5 280.79M580.23 414.56L580.23 404.54L580.21 394.52L580.19 384.5L580.16 374.49L580.13 364.48L580.08 354.47L580.03 344.46L579.97 334.46L579.9 324.46L579.83 314.47L579.75 304.48L579.66 294.5L579.56 284.52L579.46 274.56L571.21 274.4L562.95 274.26L554.68 274.12L546.41 274L538.13 273.88L529.85 273.78L521.56 273.69L513.28 273.61L504.98 273.54L496.69 273.48L488.39 273.44L480.1 273.41L471.8 273.4L464.5 273.39M585.81 414.36L585.81 403.82L585.8 393.28L585.79 382.74L585.77 372.2L585.75 361.67L585.72 351.13L585.69 340.6L585.66 330.07L585.62 319.54L585.58 309.01L585.53 298.49L585.48 287.97L585.43 277.45L585.37 266.94L576.65 266.83L567.92 266.73L559.2 266.63L550.47 266.54L541.73 266.45L533 266.37L524.26 266.3L515.52 266.23L506.78 266.17L498.03 266.12L489.29 266.08L480.55 266.04L471.8 266.01L464.5 265.99M591.39 414.17L591.39 403.11L591.38 392.05L591.38 380.98L591.38 369.92L591.37 358.86L591.37 347.8L591.36 336.74L591.35 325.69L591.34 314.63L591.33 303.57L591.32 292.51L591.3 281.46L591.29 270.4L591.27 259.35L582.09 259.29L572.9 259.22L563.71 259.16L554.52 259.1L545.33 259.04L536.14 258.98L526.95 258.92L517.76 258.87L508.57 258.82L499.38 258.76L490.19 258.72L480.99 258.67L471.8 258.62L464.5 258.59M593.3 414.1L593.3 402.86L593.3 391.62L593.3 380.38L593.3 369.14L593.3 357.9L593.3 346.67L593.3 335.43L593.3 324.19L593.3 312.95L593.3 301.71L593.3 290.47L593.3 279.23L593.3 267.99L593.3 256.75L583.95 256.7L574.61 256.65L565.26 256.6L555.92 256.55L546.57 256.5L537.22 256.45L527.88 256.4L518.53 256.34L509.18 256.29L499.84 256.24L490.49 256.19L481.15 256.14L471.8 256.09L464.5 256.05" fill="none" stroke="#000" stroke-opacity="0.66" stroke-width="0.6"/>
<path d="M492.1 417.68L514.79 416.87M492.07 416.1L514.77 413.08M491.97 414.53L514.7 409.3M491.81 412.97L514.57 405.53M491.59 411.43L514.4 401.77M491.31 409.91L514.18 398.02M490.96 408.41L513.91 394.3M490.55 406.95L513.6 390.6M490.09 405.52L513.23 386.92M489.57 404.14L512.83 383.28M488.99 402.79L512.38 379.67M488.36 401.5L511.89 376.09M487.67 400.26L511.36 372.56M486.94 399.07L510.79 369.06M486.15 397.95L510.18 365.62M485.26 396.81L507.39 364.78M484.32 395.74L504.57 364M483.33 394.76L501.7 363.28M482.3 393.87L498.81 362.63M481.23 393.06L495.89 362.04M480.13 392.35L492.93 361.53M479 391.73L489.96 361.09M477.84 391.2L486.96 360.72M476.66 390.78L483.95 360.43M475.46 390.45L480.93 360.21M474.25 390.23L477.89 360.08M473.03 390.11L474.85 360.02M471.8 390.09L471.8 360.04M492.1 417.68L492.07 416.1L491.97 414.53L491.81 412.97L491.59 411.43L491.31 409.91L490.96 408.41L490.55 406.95L490.09 405.52L489.57 404.14L488.99 402.79L488.36 401.5L487.67 400.26L486.94 399.07L486.15 397.95L485.26 396.81L484.32 395.74L483.33 394.76L482.3 393.87L481.23 393.06L480.13 392.35L479 391.73L477.84 391.2L476.66 390.78L475.46 390.45L474.25 390.23L473.03 390.11L471.8 390.09L464.5 390.3M492.93 417.65L492.9 415.99L492.8 414.34L492.64 412.7L492.42 411.07L492.14 409.47L491.8 407.9L491.4 406.35L490.94 404.84L490.42 403.37L489.84 401.94L489.22 400.57L488.54 399.24L487.81 397.97L487.03 396.76L486.07 395.63L485.06 394.58L484 393.61L482.91 392.72L481.77 391.92L480.6 391.22L479.4 390.6L478.17 390.09L476.92 389.67L475.66 389.35L474.38 389.13L473.09 389.01L471.8 389L464.5 389.2M493.86 417.61L493.83 415.86L493.73 414.12L493.58 412.39L493.36 410.68L493.08 408.98L492.74 407.31L492.34 405.68L491.88 404.08L491.37 402.51L490.8 400.99L490.18 399.52L489.51 398.1L488.78 396.74L488.02 395.43L486.98 394.31L485.89 393.27L484.75 392.31L483.58 391.44L482.37 390.65L481.12 389.95L479.85 389.35L478.55 388.84L477.22 388.42L475.88 388.11L474.53 387.89L473.17 387.78L471.8 387.77L464.5 387.97M494.9 417.58L494.87 415.72L494.77 413.88L494.62 412.05L494.4 410.23L494.13 408.44L493.79 406.67L493.4 404.93L492.94 403.22L492.44 401.55L491.87 399.93L491.26 398.35L490.59 396.83L489.88 395.35L489.12 393.94L487.99 392.84L486.82 391.81L485.6 390.87L484.34 390L483.04 389.23L481.71 388.54L480.35 387.94L478.96 387.44L477.56 387.03L476.13 386.72L474.7 386.51L473.25 386.4L471.8 386.39L464.5 386.59M496.06 417.54L496.03 415.57L495.94 413.61L495.79 411.66L495.57 409.73L495.3 407.82L494.97 405.94L494.58 404.08L494.13 402.26L493.63 400.48L493.07 398.74L492.47 397.04L491.81 395.4L491.1 393.81L490.35 392.27L489.13 391.19L487.86 390.18L486.54 389.25L485.18 388.39L483.79 387.63L482.37 386.95L480.91 386.36L479.43 385.87L477.93 385.47L476.41 385.17L474.88 384.96L473.34 384.85L471.8 384.85L464.5 385.04M497.37 417.49L497.34 415.4L497.25 413.31L497.1 411.23L496.89 409.18L496.62 407.14L496.29 405.12L495.9 403.14L495.46 401.19L494.97 399.27L494.42 397.4L493.82 395.58L493.17 393.8L492.47 392.08L491.73 390.41L490.4 389.34L489.02 388.35L487.6 387.43L486.13 386.59L484.63 385.84L483.1 385.18L481.54 384.6L479.96 384.11L478.35 383.72L476.73 383.43L475.09 383.23L473.45 383.12L471.8 383.12L464.5 383.31M498.83 417.44L498.8 415.2L498.71 412.97L498.56 410.75L498.35 408.55L498.09 406.37L497.77 404.21L497.39 402.08L496.95 399.99L496.46 397.93L495.92 395.91L495.33 393.94L494.69 392.01L494.01 390.14L493.28 388.32L491.82 387.27L490.32 386.3L488.78 385.4L487.2 384.58L485.58 383.84L483.93 383.19L482.25 382.62L480.55 382.15L478.82 381.77L477.08 381.48L475.33 381.28L473.57 381.19L471.8 381.18L464.5 381.37M500.47 417.38L500.44 414.98L500.35 412.6L500.2 410.22L500 407.85L499.74 405.51L499.42 403.19L499.05 400.9L498.62 398.64L498.14 396.42L497.61 394.24L497.03 392.1L496.4 390.01L495.73 387.97L495.01 385.98L493.42 384.96L491.78 384L490.1 383.12L488.39 382.32L486.63 381.6L484.85 380.96L483.04 380.41L481.2 379.95L479.35 379.58L477.47 379.3L475.59 379.11L473.7 379.02L471.8 379.02L464.5 379.2M502.3 417.31L502.27 414.74L502.18 412.17L502.04 409.62L501.84 407.07L501.59 404.55L501.27 402.05L500.91 399.58L500.49 397.14L500.02 394.73L499.5 392.37L498.93 390.04L498.32 387.77L497.66 385.54L496.95 383.37L495.21 382.37L493.42 381.44L491.59 380.58L489.72 379.8L487.82 379.09L485.89 378.47L483.92 377.94L481.94 377.49L479.94 377.13L477.92 376.85L475.88 376.67L473.84 376.58L471.8 376.59L464.5 376.77M504.35 417.24L504.32 414.47L504.24 411.7L504.1 408.94L503.9 406.2L503.65 403.47L503.35 400.77L502.99 398.1L502.59 395.46L502.13 392.85L501.62 390.28L501.06 387.75L500.46 385.26L499.81 382.83L499.13 380.45L497.21 379.47L495.25 378.57L493.25 377.73L491.21 376.97L489.14 376.29L487.04 375.69L484.92 375.16L482.77 374.73L480.6 374.38L478.41 374.12L476.21 373.95L474.01 373.86L471.8 373.87L464.5 374.05M506.65 417.16L506.62 414.16L506.54 411.17L506.41 408.19L506.22 405.22L505.97 402.27L505.68 399.34L505.33 396.44L504.93 393.57L504.48 390.73L503.99 387.93L503.45 385.17L502.86 382.46L502.23 379.79L501.56 377.17L499.45 376.23L497.3 375.35L495.11 374.54L492.89 373.81L490.63 373.15L488.34 372.56L486.03 372.06L483.69 371.64L481.34 371.31L478.96 371.05L476.58 370.89L474.19 370.81L471.8 370.83L464.5 371M509.23 417.07L509.2 413.82L509.12 410.58L508.99 407.35L508.8 404.13L508.57 400.93L508.28 397.75L507.94 394.59L507.56 391.47L507.12 388.37L506.64 385.32L506.12 382.3L505.55 379.32L504.94 376.39L504.29 373.51L501.96 372.6L499.6 371.76L497.2 370.98L494.76 370.27L492.29 369.63L489.79 369.07L487.27 368.59L484.73 368.19L482.16 367.86L479.59 367.62L477 367.47L474.4 367.4L471.8 367.42L464.5 367.58M511.94 416.97L511.91 413.46L511.84 409.96L511.71 406.46L511.53 402.98L511.3 399.51L511.02 396.07L510.7 392.64L510.32 389.25L509.9 385.89L509.44 382.56L508.93 379.27L508.38 376.02L507.79 372.82L507.16 369.66L504.61 368.79L502.02 367.98L499.39 367.23L496.73 366.55L494.04 365.94L491.32 365.4L488.58 364.93L485.82 364.55L483.03 364.24L480.24 364.01L477.43 363.87L474.62 363.81L471.8 363.82L464.5 363.98" fill="none" stroke="#000" stroke-opacity="0.34" stroke-width="0.5"/>
<path d="M485.75 415.89L492.05 415.67M485.58 413.88L491.89 413.66M485.31 411.87L491.63 411.66M484.91 409.87L491.25 409.66M484.4 407.87L490.76 407.66M483.74 405.88L490.14 405.67M482.95 403.89L489.38 403.68M481.98 401.9L488.46 401.7M480.82 399.92L487.35 399.72M479.41 397.95L486.01 397.75M477.68 395.98L484.36 395.78M475.47 394.03L482.26 393.83M472.41 392.1L479.33 391.9" fill="none" stroke="#ffd040" stroke-opacity="0.6" stroke-width="0.7"/>
<path d="M492.1 417.68L492.08 416.29L492 414.92L491.88 413.55L491.71 412.2L491.49 410.85L491.23 409.53L490.91 408.23L490.55 406.95L490.15 405.7L489.7 404.48L489.21 403.29L488.68 402.14L488.11 401.03L487.49 399.96L486.84 398.93L486.15 397.95L485.43 397.01L484.68 396.13L483.89 395.3L483.08 394.53L482.24 393.82L481.37 393.16L480.48 392.56L479.57 392.02" fill="none" stroke="#401800" stroke-opacity="0.55" stroke-width="0.9"/>
<path d="M477.59 395.09L476.73 394.32L475.85 393.6L474.94 392.95L474.01 392.35L473.05 391.81L472.08 391.34L471.08 390.93L470.08 390.59L469.06 390.32L468.03 390.11L466.99 389.97" fill="none" stroke="#180800" stroke-opacity="0.85" stroke-width="1.5" stroke-linecap="round"/>
</g>
<polygon points="463.5,420.15 485.8,420.15 485.8,417.9 485.78,416.79 485.73,415.69 485.65,414.59 485.54,413.5 485.39,412.41 485.21,411.33 485,410.27 484.76,409.22 484.48,408.18 484.18,407.16 483.84,406.16 483.48,405.17 483.08,404.21 482.66,403.26 482.21,402.34 481.73,401.45 481.23,400.58 480.7,399.74 480.14,398.93 479.56,398.15 478.96,397.4 478.33,396.68 477.69,395.99 477.02,395.34 476.33,394.73 475.63,394.15 474.91,393.61 474.17,393.11 473.42,392.65 472.65,392.22 471.87,391.84 471.08,391.5 470.28,391.2 469.47,390.94 468.66,390.73 467.83,390.55 467,390.43 466.17,390.34 465.34,390.3 464.5,390.3 463.5,390.3" fill="#fff"/>
<rect x="596.2" y="277.4" width="10.5" height="10.39" fill="#0000ff"/>
<text x="611.1" y="285.59" font-family='"Liberation Sans", Arial, sans-serif' font-size="8.5" fill="#000" stroke="#000" stroke-width="0.15" text-rendering="geometricPrecision" textLength="91" lengthAdjust="spacingAndGlyphs" xml:space="preserve">1.9827e-003 to  5.0000e-003</text>
<rect x="596.2" y="287.69" width="10.5" height="10.39" fill="#048080"/>
<line x1="596.2" y1="287.69" x2="606.7" y2="287.69" stroke="#000" stroke-opacity="0.35" stroke-width="0.5"/>
<text x="611.1" y="295.87" font-family='"Liberation Sans", Arial, sans-serif' font-size="8.5" fill="#000" stroke="#000" stroke-width="0.15" text-rendering="geometricPrecision" textLength="91" lengthAdjust="spacingAndGlyphs" xml:space="preserve">5.0000e-003 to  1.0000e-002</text>
<rect x="596.2" y="297.97" width="10.5" height="10.39" fill="#04ee04"/>
<line x1="596.2" y1="297.97" x2="606.7" y2="297.97" stroke="#000" stroke-opacity="0.35" stroke-width="0.5"/>
<text x="611.1" y="306.16" font-family='"Liberation Sans", Arial, sans-serif' font-size="8.5" fill="#000" stroke="#000" stroke-width="0.15" text-rendering="geometricPrecision" textLength="91" lengthAdjust="spacingAndGlyphs" xml:space="preserve">1.0000e-002 to  1.5000e-002</text>
<rect x="596.2" y="308.26" width="10.5" height="10.39" fill="#58e804"/>
<line x1="596.2" y1="308.26" x2="606.7" y2="308.26" stroke="#000" stroke-opacity="0.35" stroke-width="0.5"/>
<text x="611.1" y="316.45" font-family='"Liberation Sans", Arial, sans-serif' font-size="8.5" fill="#000" stroke="#000" stroke-width="0.15" text-rendering="geometricPrecision" textLength="91" lengthAdjust="spacingAndGlyphs" xml:space="preserve">1.5000e-002 to  2.0000e-002</text>
<rect x="596.2" y="318.55" width="10.5" height="10.39" fill="#a8ee04"/>
<line x1="596.2" y1="318.55" x2="606.7" y2="318.55" stroke="#000" stroke-opacity="0.35" stroke-width="0.5"/>
<text x="611.1" y="326.74" font-family='"Liberation Sans", Arial, sans-serif' font-size="8.5" fill="#000" stroke="#000" stroke-width="0.15" text-rendering="geometricPrecision" textLength="91" lengthAdjust="spacingAndGlyphs" xml:space="preserve">2.0000e-002 to  2.5000e-002</text>
<rect x="596.2" y="328.84" width="10.5" height="10.39" fill="#ffff00"/>
<line x1="596.2" y1="328.84" x2="606.7" y2="328.84" stroke="#000" stroke-opacity="0.35" stroke-width="0.5"/>
<text x="611.1" y="337.02" font-family='"Liberation Sans", Arial, sans-serif' font-size="8.5" fill="#000" stroke="#000" stroke-width="0.15" text-rendering="geometricPrecision" textLength="91" lengthAdjust="spacingAndGlyphs" xml:space="preserve">2.5000e-002 to  3.0000e-002</text>
<rect x="596.2" y="339.12" width="10.5" height="10.39" fill="#ffb400"/>
<line x1="596.2" y1="339.12" x2="606.7" y2="339.12" stroke="#000" stroke-opacity="0.35" stroke-width="0.5"/>
<text x="611.1" y="347.31" font-family='"Liberation Sans", Arial, sans-serif' font-size="8.5" fill="#000" stroke="#000" stroke-width="0.15" text-rendering="geometricPrecision" textLength="91" lengthAdjust="spacingAndGlyphs" xml:space="preserve">3.0000e-002 to  3.5000e-002</text>
<rect x="596.2" y="349.41" width="10.5" height="10.39" fill="#ff4400"/>
<line x1="596.2" y1="349.41" x2="606.7" y2="349.41" stroke="#000" stroke-opacity="0.35" stroke-width="0.5"/>
<text x="611.1" y="357.6" font-family='"Liberation Sans", Arial, sans-serif' font-size="8.5" fill="#000" stroke="#000" stroke-width="0.15" text-rendering="geometricPrecision" textLength="91" lengthAdjust="spacingAndGlyphs" xml:space="preserve">3.5000e-002 to  3.8299e-002</text>
</g>
<g>
<text transform="translate(205.9 751.61) scale(1.0 1)" text-anchor="end" font-family='"Liberation Serif", "Times New Roman", serif' font-size="14.5" fill="#111">0.000</text>
<text transform="translate(205.9 727.48) scale(1.0 1)" text-anchor="end" font-family='"Liberation Serif", "Times New Roman", serif' font-size="14.5" fill="#111">0.002</text>
<text transform="translate(205.9 703.35) scale(1.0 1)" text-anchor="end" font-family='"Liberation Serif", "Times New Roman", serif' font-size="14.5" fill="#111">0.004</text>
<text transform="translate(205.9 679.23) scale(1.0 1)" text-anchor="end" font-family='"Liberation Serif", "Times New Roman", serif' font-size="14.5" fill="#111">0.006</text>
<text transform="translate(205.9 655.1) scale(1.0 1)" text-anchor="end" font-family='"Liberation Serif", "Times New Roman", serif' font-size="14.5" fill="#111">0.008</text>
<text transform="translate(205.9 630.97) scale(1.0 1)" text-anchor="end" font-family='"Liberation Serif", "Times New Roman", serif' font-size="14.5" fill="#111">0.010</text>
<text transform="translate(205.9 606.84) scale(1.0 1)" text-anchor="end" font-family='"Liberation Serif", "Times New Roman", serif' font-size="14.5" fill="#111">0.012</text>
<text transform="translate(205.9 582.71) scale(1.0 1)" text-anchor="end" font-family='"Liberation Serif", "Times New Roman", serif' font-size="14.5" fill="#111">0.014</text>
<text transform="translate(222.5 769.2) scale(1.0 1)" text-anchor="middle" font-family='"Liberation Serif", "Times New Roman", serif' font-size="14.5" fill="#111">20</text>
<text transform="translate(259.32 769.2) scale(1.0 1)" text-anchor="middle" font-family='"Liberation Serif", "Times New Roman", serif' font-size="14.5" fill="#111">25</text>
<text transform="translate(296.13 769.2) scale(1.0 1)" text-anchor="middle" font-family='"Liberation Serif", "Times New Roman", serif' font-size="14.5" fill="#111">30</text>
<text transform="translate(332.95 769.2) scale(1.0 1)" text-anchor="middle" font-family='"Liberation Serif", "Times New Roman", serif' font-size="14.5" fill="#111">35</text>
<text transform="translate(369.77 769.2) scale(1.0 1)" text-anchor="middle" font-family='"Liberation Serif", "Times New Roman", serif' font-size="14.5" fill="#111">40</text>
<text transform="translate(406.58 769.2) scale(1.0 1)" text-anchor="middle" font-family='"Liberation Serif", "Times New Roman", serif' font-size="14.5" fill="#111">45</text>
<text transform="translate(443.4 769.2) scale(1.0 1)" text-anchor="middle" font-family='"Liberation Serif", "Times New Roman", serif' font-size="14.5" fill="#111">50</text>
<path d="M218.2 746.6H222.5M218.2 722.47H222.5M218.2 698.34H222.5M218.2 674.21H222.5M218.2 650.09H222.5M218.2 625.96H222.5M218.2 601.83H222.5M218.2 577.7H222.5M222.5 746.6V750.9M259.32 746.6V750.9M296.13 746.6V750.9M332.95 746.6V750.9M369.77 746.6V750.9M406.58 746.6V750.9M443.4 746.6V750.9M222.5 577.7V746.6H443.4" fill="none" stroke="#222" stroke-width="1"/>
<text x="331.8" y="785.1" text-anchor="middle" font-family='"Liberation Serif", "Times New Roman", serif' font-size="14.86" fill="#111">GSI</text>
<text transform="translate(163.8 665.7) rotate(-90)" text-anchor="middle" font-family='"Liberation Serif", "Times New Roman", serif' font-size="14.5" fill="#111" word-spacing="0.8" xml:space="preserve"><tspan font-style="italic">u</tspan><tspan font-size="9.57" dy="3.6">0,ini</tspan><tspan dy="-3.6"> / </tspan><tspan font-style="italic">m</tspan></text>
<text x="341" y="807" text-anchor="middle" font-family='"Liberation Serif", "Times New Roman", serif' font-size="18.34" fill="#111">(e)</text>
<path d="M228.4 633.48L259.6 595.6H279" fill="none" stroke="#111" stroke-width="1.4" stroke-linejoin="miter"/>
<path d="M222.5 634.88L259.32 686.88L296.13 709.56L332.95 721.02L369.77 728.74L406.58 733.33L443.4 736.95" fill="none" stroke="#111" stroke-width="1.5"/>
<path d="M222.5 583.01L259.32 682.18L296.13 714.87L332.95 728.99L369.77 735.86L406.58 739.48L443.4 741.77" fill="none" stroke="#e8161a" stroke-width="1.5" stroke-dasharray="3.4 1.8"/>
<circle cx="222.5" cy="583.01" r="3.1" fill="#f01418"/>
<circle cx="259.32" cy="682.18" r="3.1" fill="#f01418"/>
<circle cx="296.13" cy="714.87" r="3.1" fill="#f01418"/>
<circle cx="332.95" cy="728.99" r="3.1" fill="#f01418"/>
<circle cx="369.77" cy="735.86" r="3.1" fill="#f01418"/>
<circle cx="406.58" cy="739.48" r="3.1" fill="#f01418"/>
<circle cx="443.4" cy="741.77" r="3.1" fill="#f01418"/>
<rect x="219.6" y="631.98" width="5.8" height="5.8" fill="none" stroke="#111" stroke-width="1.2"/>
<rect x="256.42" y="683.98" width="5.8" height="5.8" fill="none" stroke="#111" stroke-width="1.2"/>
<rect x="293.23" y="706.66" width="5.8" height="5.8" fill="none" stroke="#111" stroke-width="1.2"/>
<rect x="330.05" y="718.12" width="5.8" height="5.8" fill="none" stroke="#111" stroke-width="1.2"/>
<rect x="366.87" y="725.84" width="5.8" height="5.8" fill="none" stroke="#111" stroke-width="1.2"/>
<rect x="403.68" y="730.43" width="5.8" height="5.8" fill="none" stroke="#111" stroke-width="1.2"/>
<rect x="440.5" y="734.05" width="5.8" height="5.8" fill="none" stroke="#111" stroke-width="1.2"/>
<clipPath id="clip4"><polygon points="279,694.1 410.1,689.8 410.1,539.4 279,539.4"/></clipPath>
<g clip-path="url(#clip4)">
<polygon points="279,694.1 410.1,689.8 410.1,539.4 279,539.4" fill="#0a46c8"/>
<polygon points="279,694.1 395.2,690.29 395.14,685.73 394.97,681.17 394.68,676.63 394.27,672.11 393.75,667.61 393.11,663.13 392.36,658.69 391.49,654.28 390.51,649.91 389.42,645.59 388.22,641.31 386.91,637.09 385.49,632.92 383.97,628.82 382.34,624.78 380.61,620.81 378.78,616.91 376.85,613.09 374.82,609.36 372.7,605.7 370.48,602.14 368.18,598.67 365.78,595.3 363.3,592.03 360.74,588.86 358.1,585.8 355.39,582.84 352.59,580.01 349.73,577.29 346.8,574.69 343.81,572.21 340.75,569.85 337.64,567.63 334.47,565.54 331.24,563.58 327.97,561.75 324.66,560.06 321.3,558.52 317.91,557.11 314.49,555.85 311.03,554.73 307.55,553.76 304.04,552.94 300.51,552.26 296.97,551.74 293.42,551.37 289.86,551.15 286.3,551.08 279,551.1" fill="#048080"/>
<polygon points="279,694.1 363.8,691.32 363.76,688.09 363.63,684.87 363.43,681.66 363.14,678.46 362.76,675.27 362.31,672.11 361.78,668.96 361.16,665.85 360.46,662.76 359.69,659.7 358.83,656.68 357.9,653.7 356.89,650.75 355.81,647.85 354.65,645 353.42,642.2 352.11,639.45 350.74,636.76 349.3,634.13 347.78,631.56 346.21,629.05 344.57,626.61 342.86,624.23 341.1,621.93 339.28,619.71 337.4,617.56 335.47,615.49 333.48,613.5 331.44,611.6 329.36,609.78 327.23,608.05 325.05,606.4 322.83,604.85 320.58,603.4 318.28,602.03 315.96,600.77 313.6,599.6 311.21,598.53 308.8,597.56 306.36,596.69 303.9,595.93 301.42,595.26 298.92,594.71 296.42,594.26 293.9,593.91 291.37,593.67 288.84,593.54 286.3,593.52 279,593.6" fill="#10a64e"/>
<polygon points="279,694.1 346.8,691.88 346.77,689.34 346.67,686.81 346.51,684.28 346.28,681.77 345.99,679.26 345.64,676.78 345.22,674.31 344.74,671.86 344.19,669.43 343.59,667.03 342.92,664.66 342.19,662.31 341.41,660 340.56,657.73 339.66,655.49 338.69,653.29 337.68,651.13 336.6,649.02 335.48,646.96 334.3,644.94 333.07,642.97 331.79,641.06 330.46,639.2 329.08,637.4 327.66,635.66 326.19,633.97 324.68,632.35 323.13,630.8 321.54,629.31 319.91,627.89 318.25,626.54 316.55,625.25 314.82,624.05 313.06,622.91 311.27,621.85 309.45,620.86 307.61,619.95 305.75,619.12 303.86,618.37 301.96,617.7 300.04,617.11 298.1,616.6 296.16,616.17 294.2,615.83 292.23,615.56 290.26,615.39 288.28,615.29 286.3,615.28 279,615.4" fill="#04ee04"/>
<polygon points="279,694.1 337.7,692.17 337.67,690.04 337.59,687.91 337.45,685.78 337.26,683.67 337.01,681.56 336.71,679.47 336.36,677.39 335.95,675.33 335.49,673.29 334.97,671.27 334.41,669.27 333.79,667.3 333.12,665.36 332.4,663.44 331.63,661.56 330.81,659.71 329.95,657.9 329.04,656.13 328.08,654.39 327.08,652.69 326.03,651.04 324.94,649.43 323.82,647.87 322.65,646.36 321.44,644.9 320.19,643.49 318.91,642.13 317.59,640.82 316.24,639.57 314.86,638.38 313.44,637.25 312,636.17 310.53,635.16 309.03,634.21 307.51,633.32 305.97,632.5 304.41,631.74 302.82,631.04 301.22,630.42 299.6,629.86 297.97,629.36 296.33,628.94 294.67,628.59 293.01,628.3 291.34,628.09 289.66,627.94 287.98,627.87 286.3,627.86 279,628" fill="#3cec04"/>
<polygon points="279,694.1 332.2,692.36 332.18,690.53 332.1,688.71 331.98,686.9 331.81,685.09 331.59,683.29 331.32,681.5 331,679.73 330.64,677.97 330.22,676.23 329.76,674.5 329.26,672.8 328.71,671.11 328.11,669.45 327.47,667.82 326.78,666.22 326.05,664.64 325.28,663.09 324.46,661.58 323.61,660.1 322.71,658.65 321.78,657.24 320.81,655.87 319.8,654.54 318.76,653.25 317.68,652 316.56,650.8 315.42,649.64 314.24,648.53 313.04,647.47 311.8,646.46 310.54,645.49 309.25,644.58 307.94,643.72 306.6,642.91 305.24,642.15 303.87,641.45 302.47,640.81 301.05,640.22 299.62,639.69 298.18,639.21 296.72,638.8 295.25,638.44 293.78,638.14 292.29,637.9 290.8,637.72 289.3,637.61 287.8,637.55 286.3,637.55 279,637.7" fill="#80ec04"/>
<polygon points="279,694.1 326.5,692.54 326.48,690.96 326.41,689.38 326.31,687.8 326.16,686.23 325.96,684.67 325.73,683.12 325.45,681.58 325.13,680.05 324.77,678.54 324.37,677.04 323.92,675.57 323.44,674.11 322.92,672.67 322.35,671.25 321.75,669.86 321.11,668.49 320.44,667.15 319.73,665.83 318.98,664.55 318.19,663.29 317.38,662.07 316.52,660.88 315.64,659.73 314.73,658.61 313.78,657.53 312.81,656.49 311.8,655.49 310.77,654.52 309.72,653.6 308.63,652.72 307.53,651.89 306.4,651.1 305.25,650.35 304.08,649.65 302.89,649 301.68,648.4 300.46,647.84 299.22,647.33 297.97,646.87 296.7,646.46 295.43,646.1 294.14,645.8 292.85,645.54 291.55,645.34 290.24,645.18 288.93,645.08 287.62,645.03 286.3,645.04 279,645.2" fill="#b8ee04"/>
<polygon points="279,694.1 321.8,692.7 321.78,691.25 321.72,689.81 321.63,688.38 321.5,686.95 321.33,685.53 321.12,684.11 320.87,682.71 320.59,681.32 320.27,679.94 319.92,678.58 319.52,677.23 319.1,675.9 318.64,674.59 318.14,673.3 317.61,672.03 317.04,670.78 316.45,669.56 315.82,668.36 315.16,667.19 314.46,666.05 313.74,664.94 312.99,663.86 312.21,662.81 311.4,661.79 310.57,660.8 309.71,659.85 308.82,658.94 307.91,658.06 306.98,657.23 306.02,656.43 305.05,655.66 304.05,654.94 303.03,654.27 302,653.63 300.95,653.04 299.89,652.48 298.8,651.98 297.71,651.52 296.61,651.1 295.49,650.73 294.36,650.4 293.23,650.12 292.08,649.89 290.93,649.7 289.78,649.56 288.62,649.47 287.46,649.43 286.3,649.43 279,649.6" fill="#ffff00"/>
<polygon points="279,694.1 318.2,692.81 318.18,691.51 318.13,690.2 318.05,688.9 317.93,687.61 317.77,686.32 317.59,685.04 317.37,683.76 317.11,682.5 316.83,681.25 316.51,680.02 316.16,678.8 315.77,677.59 315.36,676.4 314.91,675.23 314.43,674.08 313.93,672.95 313.39,671.85 312.82,670.76 312.23,669.7 311.61,668.67 310.96,667.66 310.28,666.68 309.58,665.73 308.86,664.8 308.11,663.91 307.33,663.05 306.54,662.23 305.72,661.43 304.88,660.67 304.02,659.95 303.15,659.26 302.25,658.61 301.34,657.99 300.41,657.42 299.47,656.88 298.51,656.38 297.54,655.92 296.55,655.5 295.56,655.13 294.56,654.79 293.54,654.5 292.52,654.24 291.5,654.03 290.46,653.87 289.43,653.74 288.39,653.66 287.34,653.62 286.3,653.62 279,653.8" fill="#ffb400"/>
<linearGradient id="wg4" gradientUnits="userSpaceOnUse" x1="0" y1="657.6" x2="0" y2="694.1"><stop offset="0" stop-color="#a86028"/><stop offset="0.5" stop-color="#cc7024"/><stop offset="1" stop-color="#ec4c0c"/></linearGradient>
<polygon points="279,694.1 315.5,692.9 315.48,691.7 315.44,690.5 315.36,689.31 315.25,688.12 315.11,686.93 314.94,685.76 314.74,684.59 314.51,683.43 314.24,682.28 313.95,681.15 313.63,680.03 313.28,678.92 312.9,677.83 312.49,676.75 312.05,675.7 311.59,674.66 311.1,673.64 310.58,672.65 310.04,671.67 309.47,670.72 308.87,669.8 308.25,668.9 307.61,668.02 306.95,667.18 306.26,666.36 305.55,665.57 304.82,664.81 304.08,664.08 303.31,663.38 302.52,662.72 301.72,662.09 300.9,661.49 300.06,660.92 299.21,660.39 298.35,659.9 297.47,659.44 296.59,659.02 295.69,658.64 294.78,658.29 293.86,657.99 292.93,657.72 292,657.48 291.06,657.29 290.11,657.14 289.16,657.02 288.21,656.95 287.26,656.91 286.3,656.92 279,657.1" fill="url(#wg4)"/>
<path d="M329.21 692.45L410.1 689.8M329.17 689.03L410.1 678.29M329.06 685.61L410.1 666.79M328.86 682.2L410.1 655.28M328.59 678.81L410.1 643.77M328.24 675.45L410.1 632.27M327.81 672.11L410.1 620.76M327.31 668.81L410.1 609.25M326.74 665.54L410.1 597.75M326.1 662.32L410.1 586.24M325.39 659.15L410.1 574.73M324.61 656.03L410.1 563.23M323.77 652.97L410.1 551.72M322.86 649.96L410.1 540.21M321.9 647.02L410.1 528.71M319.42 645.8L400.58 528.68M316.88 644.66L391.05 528.66M314.29 643.61L381.53 528.64M311.64 642.65L372.01 528.62M308.95 641.79L362.48 528.59M306.21 641.03L352.96 528.57M303.44 640.37L343.44 528.55M300.63 639.82L333.92 528.53M297.8 639.38L324.39 528.51M294.94 639.04L314.87 528.48M292.07 638.82L305.35 528.46M289.19 638.71L295.82 528.44M286.3 638.72L286.3 528.42M329.21 692.45L329.17 689.03L329.06 685.61L328.86 682.2L328.59 678.81L328.24 675.45L327.81 672.11L327.31 668.81L326.74 665.54L326.1 662.32L325.39 659.15L324.61 656.03L323.77 652.97L322.86 649.96L321.9 647.02L319.42 645.8L316.88 644.66L314.29 643.61L311.64 642.65L308.95 641.79L306.21 641.03L303.44 640.37L300.63 639.82L297.8 639.38L294.94 639.04L292.07 638.82L289.19 638.71L286.3 638.72L279 638.87M332.31 692.35L332.28 688.61L332.16 684.87L331.97 681.15L331.71 677.45L331.38 673.76L330.97 670.11L330.49 666.49L329.94 662.9L329.32 659.36L328.63 655.86L327.89 652.41L327.08 649.02L326.21 645.68L325.28 642.41L322.53 641.24L319.73 640.15L316.86 639.14L313.95 638.23L311 637.41L308 636.68L304.97 636.05L301.91 635.53L298.82 635.11L295.71 634.79L292.58 634.58L289.44 634.48L286.3 634.49L279 634.64M335.82 692.24L335.78 688.14L335.67 684.05L335.49 679.97L335.24 675.91L334.92 671.87L334.53 667.85L334.07 663.87L333.55 659.92L332.96 656.01L332.3 652.14L331.59 648.33L330.81 644.56L329.99 640.85L329.1 637.2L326.05 636.09L322.94 635.05L319.78 634.1L316.57 633.23L313.32 632.45L310.03 631.77L306.7 631.17L303.35 630.68L299.97 630.28L296.57 629.98L293.15 629.79L289.73 629.7L286.3 629.71L279 629.85M339.78 692.11L339.74 687.61L339.64 683.12L339.47 678.63L339.23 674.17L338.93 669.72L338.56 665.3L338.12 660.91L337.63 656.55L337.07 652.23L336.45 647.95L335.77 643.72L335.04 639.53L334.26 635.4L333.42 631.32L330.02 630.27L326.57 629.3L323.07 628.41L319.52 627.59L315.94 626.86L312.32 626.22L308.66 625.66L304.98 625.2L301.27 624.83L297.54 624.55L293.8 624.37L290.05 624.29L286.3 624.31L279 624.44M344.25 691.96L344.22 687.01L344.12 682.06L343.96 677.13L343.74 672.21L343.46 667.31L343.11 662.43L342.7 657.58L342.24 652.76L341.71 647.97L341.13 643.23L340.5 638.52L339.82 633.86L339.08 629.25L338.3 624.69L334.51 623.72L330.67 622.82L326.79 621.99L322.86 621.23L318.9 620.55L314.9 619.95L310.87 619.44L306.82 619.01L302.74 618.67L298.65 618.42L294.54 618.26L290.42 618.19L286.3 618.21L279 618.33M349.31 691.79L349.28 686.33L349.19 680.88L349.04 675.43L348.84 670L348.57 664.58L348.25 659.19L347.88 653.82L347.45 648.48L346.96 643.17L346.43 637.9L345.84 632.66L345.21 627.47L344.53 622.32L343.81 617.22L339.58 616.33L335.31 615.5L330.99 614.74L326.64 614.05L322.25 613.43L317.82 612.89L313.37 612.42L308.9 612.03L304.4 611.72L299.89 611.49L295.37 611.35L290.84 611.29L286.3 611.32L279 611.43M354.87 691.61L354.84 685.59L354.76 679.57L354.63 673.57L354.44 667.57L354.2 661.59L353.91 655.63L353.57 649.69L353.18 643.78L352.74 637.9L352.26 632.04L351.73 626.23L351.15 620.45L350.53 614.71L349.88 609.01L345.16 608.21L340.41 607.47L335.62 606.78L330.79 606.16L325.93 605.61L321.04 605.12L316.12 604.7L311.19 604.35L306.23 604.07L301.26 603.87L296.28 603.75L291.29 603.7L286.3 603.73L279 603.83M360.44 691.43L360.41 684.85L360.34 678.27L360.22 671.71L360.05 665.15L359.84 658.61L359.57 652.08L359.27 645.57L358.92 639.09L358.52 632.63L358.09 626.2L357.61 619.81L357.09 613.44L356.54 607.11L355.95 600.82L350.75 600.11L345.51 599.45L340.24 598.84L334.94 598.29L329.61 597.79L324.26 597.36L318.88 596.98L313.48 596.68L308.06 596.43L302.63 596.26L297.19 596.15L291.75 596.11L286.3 596.14L279 596.23M366 691.25L365.98 684.11L365.91 676.98L365.81 669.85L365.66 662.73L365.47 655.63L365.24 648.54L364.96 641.47L364.65 634.41L364.3 627.38L363.91 620.38L363.49 613.4L363.03 606.46L362.54 599.54L362.01 592.66L356.33 592.03L350.62 591.45L344.87 590.91L339.1 590.43L333.3 589.99L327.47 589.61L321.63 589.28L315.77 589.01L309.89 588.8L304 588.65L298.11 588.55L292.21 588.52L286.3 588.55L279 588.63M371.56 691.06L371.55 683.37L371.49 675.68L371.4 668L371.27 660.32L371.1 652.66L370.9 645L370.66 637.37L370.39 629.75L370.08 622.15L369.74 614.57L369.37 607.02L368.97 599.49L368.54 591.99L368.08 584.52L361.91 583.97L355.72 583.47L349.5 583L343.25 582.58L336.98 582.2L330.69 581.87L324.38 581.59L318.06 581.35L311.72 581.17L305.38 581.04L299.02 580.96L292.66 580.94L286.3 580.97L279 581.03M377.13 690.88L377.11 682.63L377.07 674.39L376.99 666.15L376.87 657.92L376.73 649.69L376.56 641.48L376.35 633.28L376.12 625.09L375.86 616.93L375.57 608.78L375.25 600.65L374.91 592.54L374.54 584.45L374.15 576.39L367.5 575.93L360.82 575.5L354.12 575.1L347.4 574.74L340.66 574.42L333.9 574.14L327.13 573.9L320.35 573.7L313.55 573.55L306.75 573.44L299.93 573.37L293.12 573.35L286.3 573.38L279 573.43M382.69 690.7L382.68 681.9L382.64 673.1L382.57 664.3L382.48 655.51L382.36 646.73L382.22 637.96L382.05 629.2L381.86 620.45L381.64 611.71L381.4 602.99L381.13 594.29L380.85 585.6L380.54 576.94L380.22 568.29L373.08 567.91L365.92 567.55L358.75 567.22L351.55 566.92L344.34 566.66L337.12 566.42L329.88 566.22L322.64 566.06L315.38 565.93L308.12 565.84L300.85 565.78L293.57 565.77L286.3 565.79L279 565.83M388.26 690.52L388.25 681.16L388.22 671.81L388.16 662.46L388.09 653.12L388 643.78L387.88 634.45L387.75 625.13L387.59 615.82L387.42 606.52L387.23 597.23L387.02 587.95L386.79 578.69L386.54 569.44L386.28 560.21L378.66 559.91L371.03 559.62L363.37 559.36L355.71 559.12L348.03 558.91L340.34 558.72L332.64 558.56L324.93 558.42L317.21 558.32L309.49 558.25L301.76 558.2L294.03 558.18L286.3 558.2L279 558.23M393.82 690.33L393.82 680.43L393.79 670.53L393.75 660.63L393.7 650.73L393.63 640.84L393.54 630.95L393.44 621.07L393.33 611.2L393.2 601.33L393.05 591.48L392.9 581.63L392.73 571.79L392.55 561.97L392.35 552.15L384.25 551.92L376.13 551.71L368 551.51L359.86 551.33L351.71 551.16L343.55 551.02L335.39 550.9L327.22 550.8L319.04 550.72L310.86 550.66L302.67 550.62L294.49 550.6L286.3 550.61L279 550.63M399.39 690.15L399.38 679.7L399.37 669.25L399.34 658.8L399.31 648.35L399.26 637.9L399.2 627.46L399.14 617.02L399.06 606.59L398.98 596.16L398.88 585.74L398.78 575.32L398.67 564.91L398.55 554.51L398.42 544.12L389.83 543.96L381.23 543.81L372.63 543.67L364.01 543.55L355.39 543.44L346.77 543.34L338.14 543.25L329.51 543.18L320.87 543.12L312.23 543.07L303.59 543.04L294.94 543.02L286.3 543.02L279 543.03M404.95 689.97L404.95 678.97L404.94 667.97L404.93 656.97L404.91 645.97L404.89 634.97L404.86 623.97L404.83 612.98L404.8 601.99L404.75 591L404.71 580.01L404.66 569.03L404.61 558.05L404.55 547.07L404.49 536.1L395.41 536.01L386.33 535.93L377.25 535.86L368.17 535.79L359.08 535.72L349.99 535.66L340.89 535.61L331.8 535.56L322.7 535.52L313.6 535.49L304.5 535.47L295.4 535.45L286.3 535.44L279 535.43M410.1 689.8L410.1 678.29L410.1 666.79L410.1 655.28L410.1 643.77L410.1 632.27L410.1 620.76L410.1 609.25L410.1 597.75L410.1 586.24L410.1 574.73L410.1 563.23L410.1 551.72L410.1 540.21L410.1 528.71L400.58 528.68L391.05 528.66L381.53 528.64L372.01 528.62L362.48 528.59L352.96 528.57L343.44 528.55L333.92 528.53L324.39 528.51L314.87 528.48L305.35 528.46L295.82 528.44L286.3 528.42L279 528.4" fill="none" stroke="#000" stroke-opacity="0.66" stroke-width="0.6"/>
<path d="M315.5 692.9L329.21 692.45M315.45 690.87L329.17 689.03M315.32 688.85L329.06 685.61M315.09 686.85L328.86 682.2M314.77 684.87L328.59 678.81M314.36 682.91L328.24 675.45M313.86 680.99L327.81 672.11M313.28 679.11L327.31 668.81M312.61 677.27L326.74 665.54M311.86 675.49L326.1 662.32M311.02 673.76L325.39 659.15M310.11 672.1L324.61 656.03M309.13 670.5L323.77 652.97M308.07 668.97L322.86 649.96M306.95 667.53L321.9 647.02M305.66 666.06L319.42 645.8M304.31 664.69L316.88 644.66M302.89 663.43L314.29 643.61M301.41 662.28L311.64 642.65M299.87 661.24L308.95 641.79M298.28 660.32L306.21 641.03M296.65 659.52L303.44 640.37M294.99 658.85L300.63 639.82M293.29 658.3L297.8 639.38M291.56 657.88L294.94 639.04M289.82 657.59L292.07 638.82M288.06 657.44L289.19 638.71M286.3 657.42L286.3 638.72M315.5 692.9L315.45 690.87L315.32 688.85L315.09 686.85L314.77 684.87L314.36 682.91L313.86 680.99L313.28 679.11L312.61 677.27L311.86 675.49L311.02 673.76L310.11 672.1L309.13 670.5L308.07 668.97L306.95 667.53L305.66 666.06L304.31 664.69L302.89 663.43L301.41 662.28L299.87 661.24L298.28 660.32L296.65 659.52L294.99 658.85L293.29 658.3L291.56 657.88L289.82 657.59L288.06 657.44L286.3 657.42L279 657.6M316.82 692.86L316.77 690.7L316.64 688.54L316.41 686.4L316.1 684.28L315.69 682.19L315.2 680.13L314.63 678.12L313.97 676.14L313.23 674.22L312.4 672.35L311.51 670.55L310.54 668.81L309.49 667.14L308.38 665.55L306.99 664.11L305.52 662.76L303.98 661.52L302.39 660.39L300.74 659.37L299.05 658.46L297.31 657.68L295.53 657.02L293.72 656.48L291.89 656.07L290.04 655.79L288.17 655.64L286.3 655.62L279 655.8M318.31 692.81L318.26 690.49L318.13 688.19L317.91 685.9L317.6 683.62L317.2 681.38L316.72 679.17L316.15 677L315.5 674.87L314.77 672.79L313.96 670.76L313.08 668.8L312.13 666.9L311.1 665.07L310.01 663.32L308.48 661.9L306.88 660.58L305.22 659.36L303.5 658.25L301.73 657.25L299.91 656.37L298.04 655.6L296.14 654.95L294.21 654.42L292.26 654.02L290.28 653.75L288.29 653.61L286.3 653.59L279 653.77M319.99 692.76L319.95 690.27L319.82 687.79L319.6 685.32L319.29 682.88L318.9 680.46L318.43 678.08L317.87 675.73L317.24 673.43L316.52 671.17L315.73 668.97L314.86 666.83L313.92 664.75L312.92 662.74L311.84 660.8L310.17 659.41L308.43 658.12L306.62 656.93L304.76 655.84L302.84 654.86L300.88 654L298.88 653.25L296.83 652.61L294.76 652.1L292.67 651.71L290.56 651.45L288.43 651.31L286.3 651.29L279 651.47M321.89 692.69L321.85 690.01L321.72 687.34L321.51 684.68L321.21 682.04L320.83 679.43L320.36 676.85L319.82 674.3L319.2 671.8L318.49 669.34L317.72 666.94L316.87 664.6L315.95 662.31L314.97 660.1L313.92 657.95L312.08 656.6L310.17 655.34L308.2 654.18L306.18 653.12L304.1 652.17L301.98 651.32L299.82 650.59L297.62 649.97L295.39 649.48L293.14 649.1L290.87 648.84L288.59 648.71L286.3 648.7L279 648.87M324.04 692.62L324 689.72L323.87 686.83L323.67 683.95L323.37 681.09L323 678.26L322.55 675.45L322.02 672.69L321.41 669.96L320.73 667.28L319.97 664.65L319.14 662.08L318.25 659.57L317.28 657.12L316.26 654.74L314.23 653.43L312.14 652.2L309.99 651.07L307.78 650.04L305.52 649.12L303.22 648.3L300.88 647.59L298.5 646.99L296.1 646.51L293.67 646.15L291.22 645.9L288.76 645.78L286.3 645.77L279 645.94M326.47 692.54L326.43 689.39L326.31 686.25L326.1 683.13L325.82 680.02L325.46 676.94L325.02 673.88L324.5 670.86L323.91 667.89L323.25 664.95L322.51 662.07L321.71 659.24L320.84 656.47L319.9 653.76L318.91 651.12L316.67 649.84L314.37 648.66L312.01 647.57L309.59 646.57L307.13 645.68L304.62 644.89L302.08 644.2L299.5 643.63L296.89 643.16L294.27 642.81L291.62 642.58L288.96 642.46L286.3 642.46L279 642.62" fill="none" stroke="#000" stroke-opacity="0.34" stroke-width="0.5"/>
<path d="M307.03 690.59L315.43 690.32M306.81 688L315.2 687.74M306.45 685.42L314.82 685.16M305.93 682.85L314.28 682.59M305.25 680.28L313.57 680.03M304.39 677.71L312.68 677.46M303.34 675.15L311.59 674.91M302.06 672.59L310.26 672.36M300.52 670.04L308.67 669.81M298.67 667.49L306.74 667.27M296.38 664.96L304.36 664.74M293.47 662.44L301.34 662.23M289.43 659.94L297.14 659.74" fill="none" stroke="#ffd040" stroke-opacity="0.6" stroke-width="0.7"/>
<path d="M315.5 692.9L315.46 691.13L315.36 689.36L315.18 687.6L314.94 685.85L314.62 684.13L314.24 682.43L313.79 680.75L313.28 679.11L312.7 677.5L312.05 675.93L311.35 674.4L310.58 672.92L309.75 671.49L308.87 670.11L307.94 668.79L306.95 667.53L305.91 666.33L304.82 665.19L303.69 664.13L302.52 663.13L301.31 662.21L300.06 661.36L298.78 660.59L297.47 659.9" fill="none" stroke="#401800" stroke-opacity="0.55" stroke-width="0.9"/>
<path d="M296.14 663.93L295.01 662.93L293.85 662.01L292.65 661.16L291.41 660.39L290.15 659.69L288.87 659.08L287.56 658.56L286.23 658.11L284.88 657.75L283.52 657.48L282.15 657.3" fill="none" stroke="#180800" stroke-opacity="0.85" stroke-width="1.5" stroke-linecap="round"/>
</g>
<polygon points="278,695.6 307.1,695.6 307.1,693.18 307.08,691.75 307.01,690.33 306.91,688.92 306.75,687.51 306.56,686.12 306.32,684.73 306.04,683.36 305.72,682.01 305.36,680.67 304.96,679.36 304.52,678.06 304.04,676.8 303.52,675.55 302.96,674.34 302.36,673.16 301.73,672 301.07,670.88 300.37,669.8 299.63,668.76 298.87,667.75 298.07,666.78 297.25,665.85 296.4,664.97 295.52,664.13 294.61,663.34 293.68,662.59 292.73,661.9 291.76,661.25 290.76,660.65 289.75,660.1 288.73,659.61 287.68,659.17 286.63,658.78 285.56,658.44 284.48,658.16 283.4,657.94 282.3,657.77 281.2,657.66 280.1,657.6 279,657.6 278,657.6" fill="#fff"/>
<rect x="414.2" y="539.2" width="10.9" height="11.27" fill="#0000ff"/>
<text x="430.4" y="546.48" font-family='"Liberation Sans", Arial, sans-serif' font-size="9.2" fill="#000" stroke="#000" stroke-width="0.15" text-rendering="geometricPrecision" textLength="101.7" lengthAdjust="spacingAndGlyphs" xml:space="preserve">9.7577e-004 to  1.0000e-003</text>
<rect x="414.2" y="550.38" width="10.9" height="11.27" fill="#0a46c8"/>
<line x1="414.2" y1="550.38" x2="425.1" y2="550.38" stroke="#000" stroke-opacity="0.35" stroke-width="0.5"/>
<text x="430.4" y="557.66" font-family='"Liberation Sans", Arial, sans-serif' font-size="9.2" fill="#000" stroke="#000" stroke-width="0.15" text-rendering="geometricPrecision" textLength="101.7" lengthAdjust="spacingAndGlyphs" xml:space="preserve">1.0000e-003 to  2.0000e-003</text>
<rect x="414.2" y="561.55" width="10.9" height="11.27" fill="#048080"/>
<line x1="414.2" y1="561.55" x2="425.1" y2="561.55" stroke="#000" stroke-opacity="0.35" stroke-width="0.5"/>
<text x="430.4" y="568.83" font-family='"Liberation Sans", Arial, sans-serif' font-size="9.2" fill="#000" stroke="#000" stroke-width="0.15" text-rendering="geometricPrecision" textLength="101.7" lengthAdjust="spacingAndGlyphs" xml:space="preserve">2.0000e-003 to  3.0000e-003</text>
<rect x="414.2" y="572.73" width="10.9" height="11.27" fill="#10a64e"/>
<line x1="414.2" y1="572.73" x2="425.1" y2="572.73" stroke="#000" stroke-opacity="0.35" stroke-width="0.5"/>
<text x="430.4" y="580.01" font-family='"Liberation Sans", Arial, sans-serif' font-size="9.2" fill="#000" stroke="#000" stroke-width="0.15" text-rendering="geometricPrecision" textLength="101.7" lengthAdjust="spacingAndGlyphs" xml:space="preserve">3.0000e-003 to  4.0000e-003</text>
<rect x="414.2" y="583.9" width="10.9" height="11.27" fill="#04ee04"/>
<line x1="414.2" y1="583.9" x2="425.1" y2="583.9" stroke="#000" stroke-opacity="0.35" stroke-width="0.5"/>
<text x="430.4" y="591.18" font-family='"Liberation Sans", Arial, sans-serif' font-size="9.2" fill="#000" stroke="#000" stroke-width="0.15" text-rendering="geometricPrecision" textLength="101.7" lengthAdjust="spacingAndGlyphs" xml:space="preserve">4.0000e-003 to  5.0000e-003</text>
<rect x="414.2" y="595.08" width="10.9" height="11.27" fill="#3cec04"/>
<line x1="414.2" y1="595.08" x2="425.1" y2="595.08" stroke="#000" stroke-opacity="0.35" stroke-width="0.5"/>
<text x="430.4" y="602.36" font-family='"Liberation Sans", Arial, sans-serif' font-size="9.2" fill="#000" stroke="#000" stroke-width="0.15" text-rendering="geometricPrecision" textLength="101.7" lengthAdjust="spacingAndGlyphs" xml:space="preserve">5.0000e-003 to  6.0000e-003</text>
<rect x="414.2" y="606.25" width="10.9" height="11.27" fill="#80ec04"/>
<line x1="414.2" y1="606.25" x2="425.1" y2="606.25" stroke="#000" stroke-opacity="0.35" stroke-width="0.5"/>
<text x="430.4" y="613.53" font-family='"Liberation Sans", Arial, sans-serif' font-size="9.2" fill="#000" stroke="#000" stroke-width="0.15" text-rendering="geometricPrecision" textLength="101.7" lengthAdjust="spacingAndGlyphs" xml:space="preserve">6.0000e-003 to  7.0000e-003</text>
<rect x="414.2" y="617.42" width="10.9" height="11.27" fill="#c0f004"/>
<line x1="414.2" y1="617.42" x2="425.1" y2="617.42" stroke="#000" stroke-opacity="0.35" stroke-width="0.5"/>
<text x="430.4" y="624.71" font-family='"Liberation Sans", Arial, sans-serif' font-size="9.2" fill="#000" stroke="#000" stroke-width="0.15" text-rendering="geometricPrecision" textLength="101.7" lengthAdjust="spacingAndGlyphs" xml:space="preserve">7.0000e-003 to  8.0000e-003</text>
<rect x="414.2" y="628.6" width="10.9" height="11.27" fill="#ffff00"/>
<line x1="414.2" y1="628.6" x2="425.1" y2="628.6" stroke="#000" stroke-opacity="0.35" stroke-width="0.5"/>
<text x="430.4" y="635.88" font-family='"Liberation Sans", Arial, sans-serif' font-size="9.2" fill="#000" stroke="#000" stroke-width="0.15" text-rendering="geometricPrecision" textLength="101.7" lengthAdjust="spacingAndGlyphs" xml:space="preserve">8.0000e-003 to  9.0000e-003</text>
<rect x="414.2" y="639.77" width="10.9" height="11.27" fill="#ffb400"/>
<line x1="414.2" y1="639.77" x2="425.1" y2="639.77" stroke="#000" stroke-opacity="0.35" stroke-width="0.5"/>
<text x="430.4" y="647.06" font-family='"Liberation Sans", Arial, sans-serif' font-size="9.2" fill="#000" stroke="#000" stroke-width="0.15" text-rendering="geometricPrecision" textLength="101.7" lengthAdjust="spacingAndGlyphs" xml:space="preserve">9.0000e-003 to  1.0000e-002</text>
<rect x="414.2" y="650.95" width="10.9" height="11.27" fill="#ff8200"/>
<line x1="414.2" y1="650.95" x2="425.1" y2="650.95" stroke="#000" stroke-opacity="0.35" stroke-width="0.5"/>
<text x="430.4" y="658.23" font-family='"Liberation Sans", Arial, sans-serif' font-size="9.2" fill="#000" stroke="#000" stroke-width="0.15" text-rendering="geometricPrecision" textLength="101.7" lengthAdjust="spacingAndGlyphs" xml:space="preserve">1.0000e-002 to  1.1000e-002</text>
<rect x="414.2" y="662.12" width="10.9" height="11.27" fill="#ff4400"/>
<line x1="414.2" y1="662.12" x2="425.1" y2="662.12" stroke="#000" stroke-opacity="0.35" stroke-width="0.5"/>
<text x="430.4" y="669.41" font-family='"Liberation Sans", Arial, sans-serif' font-size="9.2" fill="#000" stroke="#000" stroke-width="0.15" text-rendering="geometricPrecision" textLength="101.7" lengthAdjust="spacingAndGlyphs" xml:space="preserve">1.1000e-002 to  1.1857e-002</text>
</g>
<g>
<path d="M110.2 156.9H133" stroke="#e8161a" stroke-width="1.3" stroke-dasharray="1.6 1.2" fill="none"/>
<circle cx="122.8" cy="156.9" r="3.1" fill="#f01418"/>
<text x="137" y="161.5" font-family='"Liberation Serif", "Times New Roman", serif' font-size="14" fill="#111">CCM</text>
<path d="M110.2 169.4H134" stroke="#111" stroke-width="1.3" fill="none"/>
<rect x="120.2" y="166.5" width="5.8" height="5.8" fill="#fff" stroke="#111" stroke-width="1.2"/>
<text x="137" y="175.1" font-family='"Liberation Serif", "Times New Roman", serif' font-size="13.9" fill="#111" textLength="135.4" xml:space="preserve">3D numerical  modelling</text>
</g>
</svg></body></html>
